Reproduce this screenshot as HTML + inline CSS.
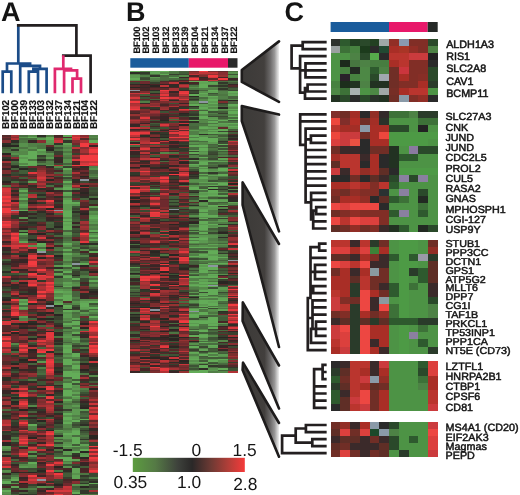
<!DOCTYPE html>
<html><head><meta charset="utf-8"><style>
html,body{margin:0;padding:0;background:#fff;}
body{width:520px;height:495px;overflow:hidden;}
svg{display:block;will-change:transform;font-family:"Liberation Sans",sans-serif;}
text{fill:#141414;text-rendering:geometricPrecision;}
.txt{will-change:transform;}
.t{stroke:#141414;stroke-width:0.5px;}
.n{stroke:#141414;stroke-width:0.15px;letter-spacing:-0.25px;}
</style></head><body>
<svg width="520" height="495" viewBox="0 0 520 495">
<defs>
<filter id="soft" x="-2%" y="-2%" width="104%" height="104%"><feGaussianBlur stdDeviation="0.45"/></filter>
<linearGradient id="wg" x1="0" x2="1" y1="0" y2="0">
<stop offset="0" stop-color="#3c3a38"/><stop offset="0.6" stop-color="#423f3d"/><stop offset="0.76" stop-color="#6a6868"/><stop offset="0.88" stop-color="#999898"/><stop offset="0.95" stop-color="#cccccc"/><stop offset="1" stop-color="#eeeeee"/>
</linearGradient>
<linearGradient id="cs" x1="0" x2="1" y1="0" y2="0">
<stop offset="0" stop-color="#5c9c40"/><stop offset="0.2" stop-color="#557a45"/><stop offset="0.4" stop-color="#3e423c"/><stop offset="0.53" stop-color="#2a2828"/><stop offset="0.7" stop-color="#6e3a34"/><stop offset="0.85" stop-color="#b03e38"/><stop offset="1" stop-color="#f53a3a"/>
</linearGradient>
</defs>
<rect width="520" height="495" fill="#fff"/>
<text x="1" y="20.9" font-size="27" font-weight="bold">A</text>
<text x="126" y="21.2" font-size="27" font-weight="bold">B</text>
<text x="284.5" y="20.6" font-size="27" font-weight="bold">C</text>
<path d="M2.7 91.9L2.7 71.6 M11.3 91.9L11.3 71.6 M2.7 71.6L11.3 71.6 M7.0 71.6L7.0 63.5 M20.2 91.9L20.2 65.9 M28.8 91.9L28.8 71.6 M38.0 91.9L38.0 71.6 M28.8 71.6L38.0 71.6 M33.4 71.6L33.4 68.8 M46.6 91.9L46.6 68.8 M33.4 68.8L46.6 68.8 M40.0 68.8L40.0 65.9 M20.2 65.9L40.0 65.9 M30.1 65.9L30.1 63.5 M7.0 63.5L30.1 63.5 M18.3 63.5L18.3 25.4" stroke="#1b4c88" stroke-width="2.7" fill="none" stroke-linecap="square"/>
<path d="M18.3 25.4L76.4 25.4 M76.4 25.4L76.4 55.6 M63.3 55.6L90.6 55.6 M90.6 55.6L90.6 91.9" stroke="#231f20" stroke-width="2.7" fill="none" stroke-linecap="square"/>
<path d="M63.3 56.6L63.3 68.8 M54.9 68.8L71.0 68.8 M54.9 68.8L54.9 91.9 M71.0 68.8L71.0 70.3 M64.1 70.3L77.1 70.3 M64.1 70.3L64.1 91.9 M77.1 70.3L77.1 78.7 M72.5 78.7L81.0 78.7 M72.5 78.7L72.5 91.9 M81.0 78.7L81.0 91.9" stroke="#e0296e" stroke-width="2.7" fill="none" stroke-linecap="square"/>
<path d="M302.7 42.1L325.3 42.1 M302.7 49.2L325.3 49.2 M302.7 42.1L302.7 49.2 M291.6 45.7L302.7 45.7 M291.6 45.7L291.6 68.4 M291.6 68.4L300.1 68.4 M300.1 56.2L300.1 92.7 M300.1 56.2L325.3 56.2 M305.5 63.3L325.3 63.3 M305.5 70.4L325.3 70.4 M305.5 77.4L325.3 77.4 M305.5 63.3L305.5 77.4 M300.1 70.4L305.5 70.4 M307.6 84.5L325.3 84.5 M307.6 91.5L325.3 91.5 M307.6 84.5L307.6 91.5 M305.0 88.0L307.6 88.0 M305.0 88.0L305.0 98.6 M305.0 98.6L325.3 98.6 M300.1 92.7L305.0 92.7 M300.2 114.3L300.2 144.8 M300.2 114.3L325.3 114.3 M300.2 121.4L325.3 121.4 M300.2 144.8L305.6 144.8 M305.6 128.6L305.6 202.3 M305.6 128.6L325.3 128.6 M310.9 135.7L325.3 135.7 M310.9 142.8L325.3 142.8 M310.9 135.7L310.9 142.8 M305.6 139.3L310.9 139.3 M305.6 150.0L325.3 150.0 M305.6 157.1L325.3 157.1 M305.6 164.2L325.3 164.2 M305.6 171.4L325.3 171.4 M305.6 178.5L325.3 178.5 M305.6 185.7L325.3 185.7 M305.6 202.3L311.1 202.3 M311.1 192.8L311.1 219.5 M311.1 192.8L325.3 192.8 M311.1 199.9L325.3 199.9 M316.2 207.1L325.3 207.1 M316.2 214.2L325.3 214.2 M316.2 207.1L316.2 214.2 M313.2 210.7L316.2 210.7 M313.2 210.7L313.2 228.5 M313.2 221.4L325.3 221.4 M313.2 228.5L325.3 228.5 M311.1 219.5L313.2 219.5 M319.2 243.6L325.3 243.6 M319.2 250.7L325.3 250.7 M319.2 243.6L319.2 250.7 M310.7 247.1L319.2 247.1 M310.5 247.1L310.5 298.0 M310.5 257.8L325.3 257.8 M315.0 264.9L325.3 264.9 M315.0 271.9L325.3 271.9 M315.0 279.1L325.3 279.1 M315.0 264.9L315.0 279.1 M310.5 271.9L315.0 271.9 M313.2 286.1L325.3 286.1 M313.2 293.2L325.3 293.2 M313.2 286.1L313.2 293.2 M310.5 289.7L313.2 289.7 M307.8 298.0L310.5 298.0 M307.8 298.0L307.8 350.1 M312.5 300.4L325.3 300.4 M312.5 307.4L325.3 307.4 M312.5 314.6L325.3 314.6 M312.5 300.4L312.5 328.8 M316.0 321.6L325.3 321.6 M316.0 328.8L325.3 328.8 M316.0 335.9L325.3 335.9 M316.0 321.6L316.0 335.9 M312.5 328.8L316.0 328.8 M307.8 318.0L312.5 318.0 M311.0 342.9L325.3 342.9 M311.0 328.8L311.0 342.9 M307.8 350.1L325.3 350.1 M322.6 364.9L325.3 364.9 M322.6 372.0L325.3 372.0 M322.6 379.2L325.3 379.2 M322.6 364.9L322.6 379.2 M314.1 369.2L322.6 369.2 M314.1 369.2L314.1 407.8 M314.1 386.3L325.3 386.3 M314.1 393.5L325.3 393.5 M314.1 400.6L325.3 400.6 M314.1 407.8L325.3 407.8 M305.9 425.0L325.3 425.0 M305.9 432.1L325.3 432.1 M305.9 425.0L305.9 432.1 M295.7 428.5L305.9 428.5 M312.3 439.1L325.3 439.1 M312.3 446.2L325.3 446.2 M312.3 439.1L312.3 446.2 M295.7 442.6L312.3 442.6 M295.7 428.5L295.7 442.6 M282.1 435.6L295.7 435.6 M282.1 435.6L282.1 453.2 M282.1 453.2L325.3 453.2" stroke="#231f20" stroke-width="2.7" fill="none" stroke-linecap="square"/>
<text class="n" transform="translate(9.20,128.90) rotate(-90)" font-size="10.00" font-weight="bold">BF102</text>
<text class="n" transform="translate(18.00,128.90) rotate(-90)" font-size="10.00" font-weight="bold">BF100</text>
<text class="n" transform="translate(26.80,128.90) rotate(-90)" font-size="10.00" font-weight="bold">BF139</text>
<text class="n" transform="translate(35.60,128.90) rotate(-90)" font-size="10.00" font-weight="bold">BF133</text>
<text class="n" transform="translate(44.40,128.90) rotate(-90)" font-size="10.00" font-weight="bold">BF103</text>
<text class="n" transform="translate(53.20,128.90) rotate(-90)" font-size="10.00" font-weight="bold">BF132</text>
<text class="n" transform="translate(62.00,128.90) rotate(-90)" font-size="10.00" font-weight="bold">BF137</text>
<text class="n" transform="translate(70.80,128.90) rotate(-90)" font-size="10.00" font-weight="bold">BF134</text>
<text class="n" transform="translate(79.60,128.90) rotate(-90)" font-size="10.00" font-weight="bold">BF121</text>
<text class="n" transform="translate(88.40,128.90) rotate(-90)" font-size="10.00" font-weight="bold">BF104</text>
<text class="n" transform="translate(97.20,128.90) rotate(-90)" font-size="10.00" font-weight="bold">BF122</text>
<text class="n" transform="translate(139.60,53.60) rotate(-90)" font-size="9.40" font-weight="bold">BF100</text>
<text class="n" transform="translate(149.37,53.60) rotate(-90)" font-size="9.40" font-weight="bold">BF102</text>
<text class="n" transform="translate(159.14,53.60) rotate(-90)" font-size="9.40" font-weight="bold">BF103</text>
<text class="n" transform="translate(168.91,53.60) rotate(-90)" font-size="9.40" font-weight="bold">BF132</text>
<text class="n" transform="translate(178.68,53.60) rotate(-90)" font-size="9.40" font-weight="bold">BF133</text>
<text class="n" transform="translate(188.45,53.60) rotate(-90)" font-size="9.40" font-weight="bold">BF139</text>
<text class="n" transform="translate(198.22,53.60) rotate(-90)" font-size="9.40" font-weight="bold">BF104</text>
<text class="n" transform="translate(207.99,53.60) rotate(-90)" font-size="9.40" font-weight="bold">BF121</text>
<text class="n" transform="translate(217.76,53.60) rotate(-90)" font-size="9.40" font-weight="bold">BF134</text>
<text class="n" transform="translate(227.53,53.60) rotate(-90)" font-size="9.40" font-weight="bold">BF137</text>
<text class="n" transform="translate(237.30,53.60) rotate(-90)" font-size="9.40" font-weight="bold">BF122</text>
<g shape-rendering="crispEdges" filter="url(#soft)">
<path fill="#532a29" d="M2 134.6H10.72V136.5H2zM54.31 136.5H63.03V138.4H54.31zM63.03 136.5H71.75V138.4H63.03zM2 138.4H10.72V140.3H2zM80.46 138.4H89.18V140.3H80.46zM71.75 148.7H80.46V150.6H71.75zM2 162.6H10.72V164.5H2zM2 164.5H10.72V166H2zM10.72 169.8H19.44V171.7H10.72zM45.59 169.8H54.31V171.7H45.59zM71.75 169.8H80.46V171.7H71.75zM2 175.5H10.72V177H2zM28.15 175.5H36.87V177H28.15zM10.72 177H19.44V178.9H10.72zM45.59 186.5H54.31V188H45.59zM28.15 189.9H36.87V191.8H28.15zM36.87 189.9H45.59V191.8H36.87zM45.59 195.6H54.31V197.5H45.59zM54.31 197.5H63.03V200H54.31zM28.15 200H36.87V201.9H28.15zM80.46 201.9H89.18V203.8H80.46zM80.46 203.8H89.18V205.7H80.46zM80.46 209.5H89.18V211H80.46zM80.46 214.8H89.18V216.7H80.46zM80.46 216.7H89.18V218.6H80.46zM19.44 222H28.15V223.9H19.44zM28.15 225.8H36.87V227.7H28.15zM10.72 227.7H19.44V229.6H10.72zM10.72 229.6H19.44V231.5H10.72zM80.46 229.6H89.18V231.5H80.46zM19.44 250.6H28.15V253H19.44zM54.31 258.7H63.03V260.6H54.31zM89.18 268.8H97.9V270.7H89.18zM19.44 270.7H28.15V272.6H19.44zM36.87 272.6H45.59V274.5H36.87zM19.44 274.5H28.15V276H19.44zM10.72 276H19.44V277.9H10.72zM19.44 283.6H28.15V285.5H19.44zM19.44 287H28.15V288.9H19.44zM10.72 288.9H19.44V290.8H10.72zM2 290.8H10.72V292.7H2zM89.18 296.5H97.9V299H89.18zM63.03 300.9H71.75V302.8H63.03zM36.87 302.8H45.59V304.7H36.87zM36.87 308.5H45.59V310H36.87zM28.15 310H36.87V311.9H28.15zM80.46 321H89.18V322.9H80.46zM2 324.8H10.72V326.7H2zM2 326.7H10.72V328.6H2zM2 328.6H10.72V330.5H2zM36.87 328.6H45.59V330.5H36.87zM36.87 332H45.59V333.9H36.87zM80.46 332H89.18V333.9H80.46zM19.44 339.6H28.15V341.5H19.44zM10.72 341.5H19.44V343H10.72zM19.44 341.5H28.15V343H19.44zM36.87 356.8H45.59V358.7H36.87zM2 360.6H10.72V363H2zM2 363H10.72V364.9H2zM54.31 363H63.03V364.9H54.31zM54.31 364.9H63.03V366.8H54.31zM2 368.7H10.72V370.6H2zM80.46 375H89.18V376.9H80.46zM45.59 382.6H54.31V384.5H45.59zM89.18 382.6H97.9V384.5H89.18zM80.46 384.5H89.18V386H80.46zM36.87 397H45.59V398.9H36.87zM2 398.9H10.72V400.8H2zM80.46 398.9H89.18V400.8H80.46zM54.31 404.6H63.03V406.5H54.31zM2 410.9H10.72V412.8H2zM45.59 423.8H54.31V425.7H45.59zM10.72 427.6H19.44V429.5H10.72zM19.44 427.6H28.15V429.5H19.44zM89.18 431H97.9V432.9H89.18zM28.15 434.8H36.87V436.7H28.15zM36.87 438.6H45.59V440H36.87zM89.18 438.6H97.9V440H89.18zM10.72 449.3H19.44V451H10.72zM36.87 451H45.59V452.9H36.87zM71.75 456.7H80.46V458.6H71.75zM19.44 458.6H28.15V460.5H19.44zM36.87 463.9H45.59V465.8H36.87zM10.72 465.8H19.44V468H10.72zM54.31 468H63.03V469.9H54.31zM80.46 471.8H89.18V473H80.46zM63.03 480.9H71.75V482.8H63.03zM36.87 482.8H45.59V484H36.87zM10.72 484H19.44V485.9H10.72zM45.59 484H54.31V485.9H45.59zM54.31 485.9H63.03V487.8H54.31zM36.87 487.8H45.59V490H36.87zM36.87 491.9H45.59V493.8H36.87z"/>
<path fill="#a23234" d="M10.72 134.6H19.44V136.5H10.72zM54.31 138.4H63.03V140.3H54.31zM80.46 148.7H89.18V150.6H80.46zM80.46 150.6H89.18V152.5H80.46zM2 160.7H10.72V162.6H2zM80.46 186.5H89.18V188H80.46zM45.59 191.8H54.31V193.7H45.59zM36.87 200H45.59V201.9H36.87zM45.59 201.9H54.31V203.8H45.59zM2 205.7H10.72V207.6H2zM28.15 205.7H36.87V207.6H28.15zM2 214.8H10.72V216.7H2zM10.72 220.5H19.44V222H10.72zM80.46 220.5H89.18V222H80.46zM10.72 222H19.44V223.9H10.72zM80.46 222H89.18V223.9H80.46zM80.46 225.8H89.18V227.7H80.46zM28.15 231.5H36.87V233H28.15zM28.15 243H36.87V244.9H28.15zM45.59 244.9H54.31V246.8H45.59zM19.44 248.7H28.15V250.6H19.44zM10.72 250.6H19.44V253H10.72zM10.72 254.9H19.44V256.8H10.72zM36.87 254.9H45.59V256.8H36.87zM19.44 265H28.15V266.9H19.44zM28.15 268.8H36.87V270.7H28.15zM36.87 270.7H45.59V272.6H36.87zM45.59 270.7H54.31V272.6H45.59zM36.87 288.9H45.59V290.8H36.87zM36.87 292.7H45.59V294.6H36.87zM36.87 304.7H45.59V306.6H36.87zM45.59 310H54.31V311.9H45.59zM89.18 322.9H97.9V324.8H89.18zM45.59 324.8H54.31V326.7H45.59zM45.59 328.6H54.31V330.5H45.59zM2 332H10.72V333.9H2zM89.18 332H97.9V333.9H89.18zM19.44 343H28.15V344.9H19.44zM45.59 356.8H54.31V358.7H45.59zM80.46 376.9H89.18V378.8H80.46zM10.72 391.7H19.44V393.6H10.72zM28.15 393.6H36.87V395.5H28.15zM2 400.8H10.72V402.7H2zM2 402.7H10.72V404.6H2zM36.87 404.6H45.59V406.5H36.87zM89.18 409H97.9V410.9H89.18zM19.44 420H28.15V421.9H19.44zM2 429.5H10.72V431H2zM36.87 432.9H45.59V434.8H36.87zM19.44 434.8H28.15V436.7H19.44zM45.59 434.8H54.31V436.7H45.59zM2 440H10.72V441.9H2zM89.18 440H97.9V441.9H89.18zM28.15 449.3H36.87V451H28.15zM19.44 451H28.15V452.9H19.44zM36.87 456.7H45.59V458.6H36.87zM89.18 463.9H97.9V465.8H89.18zM45.59 471.8H54.31V473H45.59zM45.59 482.8H54.31V484H45.59zM54.31 487.8H63.03V490H54.31zM89.18 490H97.9V491.9H89.18zM54.31 491.9H63.03V493.8H54.31zM63.03 491.9H71.75V493.8H63.03zM63.03 493.8H71.75V495H63.03z"/>
<path fill="#496d3f" d="M19.44 134.6H28.15V136.5H19.44zM36.87 136.5H45.59V138.4H36.87zM19.44 138.4H28.15V140.3H19.44zM28.15 138.4H36.87V140.3H28.15zM2 148.7H10.72V150.6H2zM54.31 148.7H63.03V150.6H54.31zM10.72 155H19.44V156.9H10.72zM10.72 160.7H19.44V162.6H10.72zM63.03 178.9H71.75V180.8H63.03zM10.72 180.8H19.44V182.7H10.72zM45.59 184.6H54.31V186.5H45.59zM89.18 195.6H97.9V197.5H89.18zM63.03 238.7H71.75V240.6H63.03zM54.31 243H63.03V244.9H54.31zM36.87 246.8H45.59V248.7H36.87zM54.31 246.8H63.03V248.7H54.31zM89.18 265H97.9V266.9H89.18zM89.18 277.9H97.9V279.8H89.18zM10.72 279.8H19.44V281.7H10.72zM71.75 279.8H80.46V281.7H71.75zM89.18 281.7H97.9V283.6H89.18zM54.31 283.6H63.03V285.5H54.31zM71.75 285.5H80.46V287H71.75zM71.75 299H80.46V300.9H71.75zM19.44 304.7H28.15V306.6H19.44zM89.18 308.5H97.9V310H89.18zM71.75 311.9H80.46V313.8H71.75zM80.46 328.6H89.18V330.5H80.46zM63.03 330.5H71.75V332H63.03zM80.46 341.5H89.18V343H80.46zM54.31 344.9H63.03V346.8H54.31zM10.72 350.6H19.44V353H10.72zM63.03 364.9H71.75V366.8H63.03zM36.87 372.5H45.59V375H36.87zM28.15 389.8H36.87V391.7H28.15zM80.46 389.8H89.18V391.7H80.46zM2 409H10.72V410.9H2zM80.46 414.7H89.18V416.6H80.46zM54.31 432.9H63.03V434.8H54.31zM71.75 434.8H80.46V436.7H71.75z"/>
<path fill="#55884a" d="M28.15 134.6H36.87V136.5H28.15zM89.18 136.5H97.9V138.4H89.18zM19.44 150.6H28.15V152.5H19.44zM19.44 152.5H28.15V155H19.44zM19.44 162.6H28.15V164.5H19.44zM54.31 166H63.03V167.9H54.31zM63.03 169.8H71.75V171.7H63.03zM63.03 171.7H71.75V173.6H63.03zM89.18 175.5H97.9V177H89.18zM19.44 195.6H28.15V197.5H19.44zM19.44 201.9H28.15V203.8H19.44zM89.18 212.9H97.9V214.8H89.18zM89.18 225.8H97.9V227.7H89.18zM19.44 229.6H28.15V231.5H19.44zM71.75 246.8H80.46V248.7H71.75zM80.46 248.7H89.18V250.6H80.46zM71.75 253H80.46V254.9H71.75zM63.03 262.5H71.75V265H63.03zM63.03 268.8H71.75V270.7H63.03zM71.75 281.7H80.46V283.6H71.75zM89.18 283.6H97.9V285.5H89.18zM54.31 292.7H63.03V294.6H54.31zM80.46 299H89.18V300.9H80.46zM89.18 299H97.9V300.9H89.18zM71.75 302.8H80.46V304.7H71.75zM63.03 317.6H71.75V319.5H63.03zM19.44 319.5H28.15V321H19.44zM63.03 328.6H71.75V330.5H63.03zM71.75 330.5H80.46V332H71.75zM63.03 337.7H71.75V339.6H63.03zM71.75 339.6H80.46V341.5H71.75zM10.72 343H19.44V344.9H10.72zM63.03 343H71.75V344.9H63.03zM63.03 353H71.75V354.9H63.03zM36.87 354.9H45.59V356.8H36.87zM71.75 356.8H80.46V358.7H71.75zM71.75 363H80.46V364.9H71.75zM71.75 368.7H80.46V370.6H71.75zM89.18 375H97.9V376.9H89.18zM63.03 378.8H71.75V380.7H63.03zM71.75 389.8H80.46V391.7H71.75zM63.03 400.8H71.75V402.7H63.03zM28.15 404.6H36.87V406.5H28.15zM63.03 404.6H71.75V406.5H63.03zM63.03 406.5H71.75V409H63.03zM63.03 423.8H71.75V425.7H63.03zM63.03 425.7H71.75V427.6H63.03zM63.03 429.5H71.75V431H63.03zM54.31 431H63.03V432.9H54.31zM54.31 440H63.03V441.9H54.31zM54.31 445.5H63.03V447.4H54.31zM80.46 445.5H89.18V447.4H80.46zM63.03 447.4H71.75V449.3H63.03zM2 449.3H10.72V451H2zM19.44 463.9H28.15V465.8H19.44zM2 479H10.72V480.9H2zM80.46 484H89.18V485.9H80.46zM45.59 485.9H54.31V487.8H45.59zM71.75 490H80.46V491.9H71.75zM2 493.8H10.72V495H2z"/>
<path fill="#2f2e27" d="M36.87 134.6H45.59V136.5H36.87zM10.72 140.3H19.44V143H10.72zM2 143H10.72V144.9H2zM45.59 146.8H54.31V148.7H45.59zM54.31 156.9H63.03V158.8H54.31zM36.87 158.8H45.59V160.7H36.87zM45.59 166H54.31V167.9H45.59zM80.46 166H89.18V167.9H80.46zM2 173.6H10.72V175.5H2zM71.75 178.9H80.46V180.8H71.75zM19.44 182.7H28.15V184.6H19.44zM28.15 184.6H36.87V186.5H28.15zM36.87 188H45.59V189.9H36.87zM10.72 189.9H19.44V191.8H10.72zM71.75 189.9H80.46V191.8H71.75zM36.87 193.7H45.59V195.6H36.87zM54.31 195.6H63.03V197.5H54.31zM80.46 195.6H89.18V197.5H80.46zM54.31 205.7H63.03V207.6H54.31zM19.44 211H28.15V212.9H19.44zM36.87 211H45.59V212.9H36.87zM71.75 211H80.46V212.9H71.75zM19.44 212.9H28.15V214.8H19.44zM28.15 216.7H36.87V218.6H28.15zM28.15 222H36.87V223.9H28.15zM45.59 227.7H54.31V229.6H45.59zM19.44 231.5H28.15V233H19.44zM45.59 236.8H54.31V238.7H45.59zM89.18 243H97.9V244.9H89.18zM28.15 250.6H36.87V253H28.15zM89.18 254.9H97.9V256.8H89.18zM54.31 266.9H63.03V268.8H54.31zM10.72 268.8H19.44V270.7H10.72zM2 270.7H10.72V272.6H2zM10.72 285.5H19.44V287H10.72zM10.72 287H19.44V288.9H10.72zM71.75 287H80.46V288.9H71.75zM28.15 292.7H36.87V294.6H28.15zM80.46 292.7H89.18V294.6H80.46zM2 296.5H10.72V299H2zM28.15 302.8H36.87V304.7H28.15zM45.59 306.6H54.31V308.5H45.59zM2 310H10.72V311.9H2zM36.87 311.9H45.59V313.8H36.87zM2 315.7H10.72V317.6H2zM28.15 321H36.87V322.9H28.15zM10.72 322.9H19.44V324.8H10.72zM54.31 333.9H63.03V335.8H54.31zM80.46 333.9H89.18V335.8H80.46zM54.31 339.6H63.03V341.5H54.31zM54.31 343H63.03V344.9H54.31zM10.72 348.7H19.44V350.6H10.72zM45.59 350.6H54.31V353H45.59zM19.44 360.6H28.15V363H19.44zM89.18 363H97.9V364.9H89.18zM89.18 364.9H97.9V366.8H89.18zM54.31 366.8H63.03V368.7H54.31zM28.15 368.7H36.87V370.6H28.15zM89.18 372.5H97.9V375H89.18zM2 376.9H10.72V378.8H2zM2 378.8H10.72V380.7H2zM28.15 380.7H36.87V382.6H28.15zM36.87 384.5H45.59V386H36.87zM28.15 397H36.87V398.9H28.15zM28.15 398.9H36.87V400.8H28.15zM28.15 400.8H36.87V402.7H28.15zM10.72 402.7H19.44V404.6H10.72zM80.46 404.6H89.18V406.5H80.46zM54.31 412.8H63.03V414.7H54.31zM2 414.7H10.72V416.6H2zM54.31 421.9H63.03V423.8H54.31zM80.46 423.8H89.18V425.7H80.46zM89.18 429.5H97.9V431H89.18zM54.31 434.8H63.03V436.7H54.31zM2 438.6H10.72V440H2zM19.44 447.4H28.15V449.3H19.44zM2 454.8H10.72V456.7H2zM71.75 454.8H80.46V456.7H71.75zM63.03 469.9H71.75V471.8H63.03zM19.44 471.8H28.15V473H19.44zM89.18 480.9H97.9V482.8H89.18zM19.44 493.8H28.15V495H19.44z"/>
<path fill="#4d7643" d="M45.59 134.6H54.31V136.5H45.59zM89.18 138.4H97.9V140.3H89.18zM19.44 140.3H28.15V143H19.44zM36.87 144.9H45.59V146.8H36.87zM10.72 146.8H19.44V148.7H10.72zM19.44 146.8H28.15V148.7H19.44zM36.87 146.8H45.59V148.7H36.87zM28.15 148.7H36.87V150.6H28.15zM2 150.6H10.72V152.5H2zM63.03 150.6H71.75V152.5H63.03zM63.03 156.9H71.75V158.8H63.03zM28.15 158.8H36.87V160.7H28.15zM89.18 173.6H97.9V175.5H89.18zM2 184.6H10.72V186.5H2zM71.75 188H80.46V189.9H71.75zM19.44 191.8H28.15V193.7H19.44zM63.03 195.6H71.75V197.5H63.03zM19.44 200H28.15V201.9H19.44zM19.44 207.6H28.15V209.5H19.44zM89.18 223.9H97.9V225.8H89.18zM19.44 234.9H28.15V236.8H19.44zM19.44 238.7H28.15V240.6H19.44zM71.75 243H80.46V244.9H71.75zM63.03 246.8H71.75V248.7H63.03zM54.31 248.7H63.03V250.6H54.31zM63.03 250.6H71.75V253H63.03zM63.03 260.6H71.75V262.5H63.03zM80.46 260.6H89.18V262.5H80.46zM80.46 274.5H89.18V276H80.46zM54.31 277.9H63.03V279.8H54.31zM54.31 279.8H63.03V281.7H54.31zM54.31 287H63.03V288.9H54.31zM63.03 287H71.75V288.9H63.03zM54.31 299H63.03V300.9H54.31zM63.03 302.8H71.75V304.7H63.03zM89.18 304.7H97.9V306.6H89.18zM71.75 313.8H80.46V315.7H71.75zM71.75 315.7H80.46V317.6H71.75zM63.03 321H71.75V322.9H63.03zM71.75 324.8H80.46V326.7H71.75zM54.31 335.8H63.03V337.7H54.31zM80.46 346.8H89.18V348.7H80.46zM63.03 368.7H71.75V370.6H63.03zM80.46 372.5H89.18V375H80.46zM28.15 378.8H36.87V380.7H28.15zM63.03 380.7H71.75V382.6H63.03zM89.18 384.5H97.9V386H89.18zM63.03 397H71.75V398.9H63.03zM71.75 398.9H80.46V400.8H71.75zM63.03 402.7H71.75V404.6H63.03zM80.46 425.7H89.18V427.6H80.46zM63.03 427.6H71.75V429.5H63.03zM80.46 434.8H89.18V436.7H80.46zM10.72 436.7H19.44V438.6H10.72zM10.72 440H19.44V441.9H10.72zM63.03 440H71.75V441.9H63.03zM80.46 440H89.18V441.9H80.46zM19.44 445.5H28.15V447.4H19.44zM71.75 447.4H80.46V449.3H71.75zM54.31 449.3H63.03V451H54.31zM80.46 473H89.18V474.9H80.46zM10.72 474.9H19.44V476.8H10.72zM2 487.8H10.72V490H2zM19.44 487.8H28.15V490H19.44zM89.18 493.8H97.9V495H89.18z"/>
<path fill="#462827" d="M54.31 134.6H63.03V136.5H54.31zM71.75 160.7H80.46V162.6H71.75zM71.75 162.6H80.46V164.5H71.75zM80.46 167.9H89.18V169.8H80.46zM54.31 169.8H63.03V171.7H54.31zM80.46 171.7H89.18V173.6H80.46zM45.59 175.5H54.31V177H45.59zM54.31 177H63.03V178.9H54.31zM80.46 177H89.18V178.9H80.46zM19.44 178.9H28.15V180.8H19.44zM2 182.7H10.72V184.6H2zM54.31 184.6H63.03V186.5H54.31zM19.44 186.5H28.15V188H19.44zM28.15 186.5H36.87V188H28.15zM45.59 188H54.31V189.9H45.59zM54.31 203.8H63.03V205.7H54.31zM89.18 203.8H97.9V205.7H89.18zM80.46 205.7H89.18V207.6H80.46zM28.15 207.6H36.87V209.5H28.15zM19.44 218.6H28.15V220.5H19.44zM36.87 223.9H45.59V225.8H36.87zM19.44 225.8H28.15V227.7H19.44zM45.59 231.5H54.31V233H45.59zM54.31 231.5H63.03V233H54.31zM54.31 236.8H63.03V238.7H54.31zM71.75 238.7H80.46V240.6H71.75zM54.31 244.9H63.03V246.8H54.31zM80.46 250.6H89.18V253H80.46zM89.18 253H97.9V254.9H89.18zM10.72 258.7H19.44V260.6H10.72zM10.72 262.5H19.44V265H10.72zM10.72 265H19.44V266.9H10.72zM45.59 266.9H54.31V268.8H45.59zM28.15 270.7H36.87V272.6H28.15zM80.46 281.7H89.18V283.6H80.46zM19.44 285.5H28.15V287H19.44zM28.15 287H36.87V288.9H28.15zM19.44 288.9H28.15V290.8H19.44zM80.46 288.9H89.18V290.8H80.46zM10.72 294.6H19.44V296.5H10.72zM19.44 296.5H28.15V299H19.44zM28.15 308.5H36.87V310H28.15zM28.15 315.7H36.87V317.6H28.15zM45.59 321H54.31V322.9H45.59zM19.44 324.8H28.15V326.7H19.44zM2 330.5H10.72V332H2zM28.15 333.9H36.87V335.8H28.15zM54.31 337.7H63.03V339.6H54.31zM28.15 353H36.87V354.9H28.15zM28.15 354.9H36.87V356.8H28.15zM28.15 366.8H36.87V368.7H28.15zM28.15 370.6H36.87V372.5H28.15zM89.18 370.6H97.9V372.5H89.18zM10.72 372.5H19.44V375H10.72zM54.31 372.5H63.03V375H54.31zM36.87 378.8H45.59V380.7H36.87zM45.59 378.8H54.31V380.7H45.59zM80.46 378.8H89.18V380.7H80.46zM10.72 382.6H19.44V384.5H10.72zM28.15 387.9H36.87V389.8H28.15zM2 395.5H10.72V397H2zM2 404.6H10.72V406.5H2zM10.72 406.5H19.44V409H10.72zM10.72 412.8H19.44V414.7H10.72zM28.15 412.8H36.87V414.7H28.15zM36.87 412.8H45.59V414.7H36.87zM54.31 416.6H63.03V418.5H54.31zM10.72 418.5H19.44V420H10.72zM10.72 429.5H19.44V431H10.72zM36.87 434.8H45.59V436.7H36.87zM10.72 443.8H19.44V445.5H10.72zM28.15 443.8H36.87V445.5H28.15zM36.87 454.8H45.59V456.7H36.87zM19.44 456.7H28.15V458.6H19.44zM63.03 468H71.75V469.9H63.03zM80.46 468H89.18V469.9H80.46zM80.46 469.9H89.18V471.8H80.46zM54.31 471.8H63.03V473H54.31zM19.44 479H28.15V480.9H19.44zM63.03 479H71.75V480.9H63.03zM71.75 479H80.46V480.9H71.75zM19.44 484H28.15V485.9H19.44zM2 485.9H10.72V487.8H2zM19.44 485.9H28.15V487.8H19.44zM10.72 490H19.44V491.9H10.72z"/>
<path fill="#60a354" d="M63.03 134.6H71.75V136.5H63.03zM63.03 143H71.75V144.9H63.03zM28.15 164.5H36.87V166H28.15zM28.15 180.8H36.87V182.7H28.15zM63.03 193.7H71.75V195.6H63.03zM19.44 203.8H28.15V205.7H19.44zM63.03 209.5H71.75V211H63.03zM89.18 214.8H97.9V216.7H89.18zM63.03 223.9H71.75V225.8H63.03zM19.44 240.6H28.15V243H19.44zM36.87 244.9H45.59V246.8H36.87zM54.31 272.6H63.03V274.5H54.31zM63.03 281.7H71.75V283.6H63.03zM63.03 290.8H71.75V292.7H63.03zM19.44 299H28.15V300.9H19.44zM80.46 300.9H89.18V302.8H80.46zM19.44 306.6H28.15V308.5H19.44zM63.03 306.6H71.75V308.5H63.03zM80.46 306.6H89.18V308.5H80.46zM71.75 317.6H80.46V319.5H71.75zM63.03 346.8H71.75V348.7H63.03zM71.75 360.6H80.46V363H71.75zM71.75 370.6H80.46V372.5H71.75zM71.75 391.7H80.46V393.6H71.75zM71.75 429.5H80.46V431H71.75zM80.46 443.8H89.18V445.5H80.46zM71.75 458.6H80.46V460.5H71.75zM71.75 468H80.46V469.9H71.75zM71.75 469.9H80.46V471.8H71.75zM71.75 471.8H80.46V473H71.75zM71.75 474.9H80.46V476.8H71.75zM71.75 476.8H80.46V479H71.75zM10.72 485.9H19.44V487.8H10.72z"/>
<path fill="#bd3438" d="M71.75 134.6H80.46V136.5H71.75zM71.75 146.8H80.46V148.7H71.75zM89.18 152.5H97.9V155H89.18zM80.46 160.7H89.18V162.6H80.46zM36.87 175.5H45.59V177H36.87zM36.87 178.9H45.59V180.8H36.87zM71.75 184.6H80.46V186.5H71.75zM36.87 186.5H45.59V188H36.87zM2 193.7H10.72V195.6H2zM28.15 195.6H36.87V197.5H28.15zM2 201.9H10.72V203.8H2zM80.46 207.6H89.18V209.5H80.46zM54.31 211H63.03V212.9H54.31zM2 212.9H10.72V214.8H2zM10.72 240.6H19.44V243H10.72zM2 244.9H10.72V246.8H2zM10.72 270.7H19.44V272.6H10.72zM36.87 281.7H45.59V283.6H36.87zM10.72 292.7H19.44V294.6H10.72zM36.87 296.5H45.59V299H36.87zM10.72 310H19.44V311.9H10.72zM89.18 324.8H97.9V326.7H89.18zM36.87 343H45.59V344.9H36.87zM28.15 346.8H36.87V348.7H28.15zM19.44 350.6H28.15V353H19.44zM45.59 353H54.31V354.9H45.59zM28.15 358.7H36.87V360.6H28.15zM2 366.8H10.72V368.7H2zM45.59 366.8H54.31V368.7H45.59zM2 372.5H10.72V375H2zM45.59 372.5H54.31V375H45.59zM10.72 387.9H19.44V389.8H10.72zM19.44 404.6H28.15V406.5H19.44zM45.59 406.5H54.31V409H45.59zM45.59 418.5H54.31V420H45.59zM28.15 431H36.87V432.9H28.15zM19.44 436.7H28.15V438.6H19.44zM36.87 443.8H45.59V445.5H36.87zM36.87 449.3H45.59V451H36.87zM19.44 454.8H28.15V456.7H19.44zM2 462H10.72V463.9H2zM89.18 468H97.9V469.9H89.18zM54.31 474.9H63.03V476.8H54.31zM36.87 476.8H45.59V479H36.87zM63.03 487.8H71.75V490H63.03z"/>
<path fill="#882f31" d="M80.46 134.6H89.18V136.5H80.46zM10.72 136.5H19.44V138.4H10.72zM2 140.3H10.72V143H2zM36.87 140.3H45.59V143H36.87zM71.75 140.3H80.46V143H71.75zM80.46 146.8H89.18V148.7H80.46zM10.72 156.9H19.44V158.8H10.72zM45.59 177H54.31V178.9H45.59zM36.87 180.8H45.59V182.7H36.87zM80.46 182.7H89.18V184.6H80.46zM10.72 184.6H19.44V186.5H10.72zM36.87 184.6H45.59V186.5H36.87zM54.31 193.7H63.03V195.6H54.31zM45.59 203.8H54.31V205.7H45.59zM10.72 212.9H19.44V214.8H10.72zM2 218.6H10.72V220.5H2zM10.72 223.9H19.44V225.8H10.72zM10.72 225.8H19.44V227.7H10.72zM36.87 225.8H45.59V227.7H36.87zM36.87 227.7H45.59V229.6H36.87zM10.72 231.5H19.44V233H10.72zM36.87 234.9H45.59V236.8H36.87zM45.59 238.7H54.31V240.6H45.59zM45.59 248.7H54.31V250.6H45.59zM10.72 256.8H19.44V258.7H10.72zM36.87 265H45.59V266.9H36.87zM10.72 266.9H19.44V268.8H10.72zM28.15 266.9H36.87V268.8H28.15zM36.87 266.9H45.59V268.8H36.87zM45.59 268.8H54.31V270.7H45.59zM89.18 272.6H97.9V274.5H89.18zM36.87 283.6H45.59V285.5H36.87zM19.44 294.6H28.15V296.5H19.44zM45.59 294.6H54.31V296.5H45.59zM28.15 296.5H36.87V299H28.15zM28.15 304.7H36.87V306.6H28.15zM28.15 306.6H36.87V308.5H28.15zM2 308.5H10.72V310H2zM36.87 315.7H45.59V317.6H36.87zM36.87 321H45.59V322.9H36.87zM36.87 326.7H45.59V328.6H36.87zM19.44 337.7H28.15V339.6H19.44zM36.87 337.7H45.59V339.6H36.87zM89.18 339.6H97.9V341.5H89.18zM89.18 343H97.9V344.9H89.18zM2 346.8H10.72V348.7H2zM2 364.9H10.72V366.8H2zM19.44 364.9H28.15V366.8H19.44zM2 370.6H10.72V372.5H2zM19.44 372.5H28.15V375H19.44zM2 375H10.72V376.9H2zM28.15 375H36.87V376.9H28.15zM45.59 375H54.31V376.9H45.59zM19.44 376.9H28.15V378.8H19.44zM10.72 380.7H19.44V382.6H10.72zM19.44 389.8H28.15V391.7H19.44zM89.18 389.8H97.9V391.7H89.18zM2 397H10.72V398.9H2zM36.87 398.9H45.59V400.8H36.87zM36.87 402.7H45.59V404.6H36.87zM19.44 410.9H28.15V412.8H19.44zM19.44 412.8H28.15V414.7H19.44zM45.59 420H54.31V421.9H45.59zM89.18 425.7H97.9V427.6H89.18zM36.87 427.6H45.59V429.5H36.87zM36.87 436.7H45.59V438.6H36.87zM89.18 451H97.9V452.9H89.18zM10.72 452.9H19.44V454.8H10.72zM89.18 454.8H97.9V456.7H89.18zM45.59 456.7H54.31V458.6H45.59zM54.31 460.5H63.03V462H54.31zM80.46 460.5H89.18V462H80.46zM45.59 462H54.31V463.9H45.59zM2 463.9H10.72V465.8H2zM45.59 465.8H54.31V468H45.59zM45.59 468H54.31V469.9H45.59zM19.44 474.9H28.15V476.8H19.44zM45.59 476.8H54.31V479H45.59zM71.75 480.9H80.46V482.8H71.75z"/>
<path fill="#517f46" d="M89.18 134.6H97.9V136.5H89.18zM28.15 143H36.87V144.9H28.15zM36.87 143H45.59V144.9H36.87zM28.15 144.9H36.87V146.8H28.15zM54.31 144.9H63.03V146.8H54.31zM63.03 146.8H71.75V148.7H63.03zM10.72 150.6H19.44V152.5H10.72zM45.59 155H54.31V156.9H45.59zM63.03 155H71.75V156.9H63.03zM45.59 160.7H54.31V162.6H45.59zM36.87 162.6H45.59V164.5H36.87zM45.59 162.6H54.31V164.5H45.59zM89.18 166H97.9V167.9H89.18zM63.03 182.7H71.75V184.6H63.03zM19.44 188H28.15V189.9H19.44zM89.18 227.7H97.9V229.6H89.18zM63.03 234.9H71.75V236.8H63.03zM89.18 236.8H97.9V238.7H89.18zM63.03 240.6H71.75V243H63.03zM71.75 240.6H80.46V243H71.75zM89.18 244.9H97.9V246.8H89.18zM71.75 254.9H80.46V256.8H71.75zM80.46 254.9H89.18V256.8H80.46zM54.31 274.5H63.03V276H54.31zM80.46 276H89.18V277.9H80.46zM63.03 277.9H71.75V279.8H63.03zM63.03 279.8H71.75V281.7H63.03zM54.31 281.7H63.03V283.6H54.31zM89.18 285.5H97.9V287H89.18zM71.75 296.5H80.46V299H71.75zM89.18 311.9H97.9V313.8H89.18zM80.46 313.8H89.18V315.7H80.46zM19.44 317.6H28.15V319.5H19.44zM89.18 317.6H97.9V319.5H89.18zM71.75 328.6H80.46V330.5H71.75zM63.03 332H71.75V333.9H63.03zM63.03 339.6H71.75V341.5H63.03zM80.46 343H89.18V344.9H80.46zM63.03 356.8H71.75V358.7H63.03zM36.87 366.8H45.59V368.7H36.87zM63.03 366.8H71.75V368.7H63.03zM63.03 387.9H71.75V389.8H63.03zM80.46 387.9H89.18V389.8H80.46zM71.75 393.6H80.46V395.5H71.75zM36.87 395.5H45.59V397H36.87zM71.75 402.7H80.46V404.6H71.75zM71.75 406.5H80.46V409H71.75zM63.03 410.9H71.75V412.8H63.03zM71.75 414.7H80.46V416.6H71.75zM71.75 418.5H80.46V420H71.75zM28.15 425.7H36.87V427.6H28.15zM28.15 427.6H36.87V429.5H28.15zM63.03 438.6H71.75V440H63.03zM54.31 443.8H63.03V445.5H54.31zM80.46 447.4H89.18V449.3H80.46zM71.75 449.3H80.46V451H71.75zM63.03 460.5H71.75V462H63.03zM54.31 469.9H63.03V471.8H54.31zM2 471.8H10.72V473H2zM89.18 476.8H97.9V479H89.18zM28.15 487.8H36.87V490H28.15zM80.46 493.8H89.18V495H80.46z"/>
<path fill="#6e2c2d" d="M2 136.5H10.72V138.4H2zM71.75 143H80.46V144.9H71.75zM2 155H10.72V156.9H2zM54.31 155H63.03V156.9H54.31zM71.75 156.9H80.46V158.8H71.75zM2 166H10.72V167.9H2zM28.15 166H36.87V167.9H28.15zM36.87 166H45.59V167.9H36.87zM80.46 169.8H89.18V171.7H80.46zM28.15 173.6H36.87V175.5H28.15zM54.31 180.8H63.03V182.7H54.31zM10.72 182.7H19.44V184.6H10.72zM10.72 188H19.44V189.9H10.72zM71.75 191.8H80.46V193.7H71.75zM45.59 193.7H54.31V195.6H45.59zM10.72 195.6H19.44V197.5H10.72zM71.75 197.5H80.46V200H71.75zM28.15 203.8H36.87V205.7H28.15zM36.87 207.6H45.59V209.5H36.87zM54.31 207.6H63.03V209.5H54.31zM45.59 211H54.31V212.9H45.59zM54.31 214.8H63.03V216.7H54.31zM10.72 218.6H19.44V220.5H10.72zM36.87 231.5H45.59V233H36.87zM2 234.9H10.72V236.8H2zM36.87 238.7H45.59V240.6H36.87zM45.59 243H54.31V244.9H45.59zM2 256.8H10.72V258.7H2zM19.44 256.8H28.15V258.7H19.44zM45.59 256.8H54.31V258.7H45.59zM36.87 260.6H45.59V262.5H36.87zM19.44 262.5H28.15V265H19.44zM89.18 262.5H97.9V265H89.18zM89.18 274.5H97.9V276H89.18zM19.44 276H28.15V277.9H19.44zM2 277.9H10.72V279.8H2zM2 279.8H10.72V281.7H2zM80.46 287H89.18V288.9H80.46zM28.15 294.6H36.87V296.5H28.15zM2 313.8H10.72V315.7H2zM45.59 313.8H54.31V315.7H45.59zM80.46 315.7H89.18V317.6H80.46zM2 317.6H10.72V319.5H2zM45.59 322.9H54.31V324.8H45.59zM19.44 328.6H28.15V330.5H19.44zM19.44 330.5H28.15V332H19.44zM19.44 332H28.15V333.9H19.44zM10.72 335.8H19.44V337.7H10.72zM10.72 337.7H19.44V339.6H10.72zM10.72 339.6H19.44V341.5H10.72zM36.87 344.9H45.59V346.8H36.87zM2 356.8H10.72V358.7H2zM2 358.7H10.72V360.6H2zM10.72 358.7H19.44V360.6H10.72zM36.87 363H45.59V364.9H36.87zM54.31 376.9H63.03V378.8H54.31zM28.15 382.6H36.87V384.5H28.15zM28.15 391.7H36.87V393.6H28.15zM89.18 400.8H97.9V402.7H89.18zM10.72 410.9H19.44V412.8H10.72zM89.18 412.8H97.9V414.7H89.18zM2 418.5H10.72V420H2zM45.59 421.9H54.31V423.8H45.59zM89.18 423.8H97.9V425.7H89.18zM2 425.7H10.72V427.6H2zM19.44 425.7H28.15V427.6H19.44zM45.59 425.7H54.31V427.6H45.59zM2 427.6H10.72V429.5H2zM36.87 431H45.59V432.9H36.87zM28.15 432.9H36.87V434.8H28.15zM10.72 447.4H19.44V449.3H10.72zM89.18 447.4H97.9V449.3H89.18zM45.59 451H54.31V452.9H45.59zM10.72 460.5H19.44V462H10.72zM36.87 465.8H45.59V468H36.87zM10.72 468H19.44V469.9H10.72zM63.03 482.8H71.75V484H63.03zM63.03 484H71.75V485.9H63.03zM36.87 493.8H45.59V495H36.87z"/>
<path fill="#58914d" d="M19.44 136.5H28.15V138.4H19.44zM63.03 138.4H71.75V140.3H63.03zM19.44 143H28.15V144.9H19.44zM45.59 143H54.31V144.9H45.59zM19.44 144.9H28.15V146.8H19.44zM63.03 144.9H71.75V146.8H63.03zM28.15 146.8H36.87V148.7H28.15zM19.44 148.7H28.15V150.6H19.44zM63.03 148.7H71.75V150.6H63.03zM36.87 150.6H45.59V152.5H36.87zM10.72 152.5H19.44V155H10.72zM45.59 152.5H54.31V155H45.59zM63.03 152.5H71.75V155H63.03zM63.03 158.8H71.75V160.7H63.03zM63.03 160.7H71.75V162.6H63.03zM63.03 164.5H71.75V166H63.03zM89.18 167.9H97.9V169.8H89.18zM54.31 188H63.03V189.9H54.31zM71.75 203.8H80.46V205.7H71.75zM89.18 211H97.9V212.9H89.18zM63.03 216.7H71.75V218.6H63.03zM63.03 220.5H71.75V222H63.03zM89.18 220.5H97.9V222H89.18zM89.18 233H97.9V234.9H89.18zM28.15 244.9H36.87V246.8H28.15zM63.03 244.9H71.75V246.8H63.03zM63.03 254.9H71.75V256.8H63.03zM63.03 256.8H71.75V258.7H63.03zM89.18 276H97.9V277.9H89.18zM71.75 283.6H80.46V285.5H71.75zM63.03 288.9H71.75V290.8H63.03zM54.31 294.6H63.03V296.5H54.31zM19.44 300.9H28.15V302.8H19.44zM71.75 300.9H80.46V302.8H71.75zM19.44 308.5H28.15V310H19.44zM80.46 308.5H89.18V310H80.46zM63.03 311.9H71.75V313.8H63.03zM63.03 319.5H71.75V321H63.03zM63.03 324.8H71.75V326.7H63.03zM63.03 333.9H71.75V335.8H63.03zM71.75 335.8H80.46V337.7H71.75zM71.75 341.5H80.46V343H71.75zM71.75 386H80.46V387.9H71.75zM63.03 395.5H71.75V397H63.03zM63.03 414.7H71.75V416.6H63.03zM71.75 416.6H80.46V418.5H71.75zM71.75 427.6H80.46V429.5H71.75zM63.03 431H71.75V432.9H63.03zM54.31 436.7H63.03V438.6H54.31zM63.03 441.9H71.75V443.8H63.03zM28.15 451H36.87V452.9H28.15zM80.46 452.9H89.18V454.8H80.46zM28.15 454.8H36.87V456.7H28.15zM63.03 462H71.75V463.9H63.03zM28.15 463.9H36.87V465.8H28.15zM28.15 465.8H36.87V468H28.15zM63.03 465.8H71.75V468H63.03zM2 469.9H10.72V471.8H2zM71.75 473H80.46V474.9H71.75zM10.72 482.8H19.44V484H10.72zM71.75 484H80.46V485.9H71.75zM36.87 485.9H45.59V487.8H36.87zM2 491.9H10.72V493.8H2z"/>
<path fill="#64ac58" d="M28.15 136.5H36.87V138.4H28.15zM45.59 136.5H54.31V138.4H45.59zM45.59 138.4H54.31V140.3H45.59zM89.18 140.3H97.9V143H89.18zM36.87 148.7H45.59V150.6H36.87zM28.15 150.6H36.87V152.5H28.15zM28.15 152.5H36.87V155H28.15zM19.44 155H28.15V156.9H19.44zM28.15 155H36.87V156.9H28.15zM28.15 156.9H36.87V158.8H28.15zM19.44 158.8H28.15V160.7H19.44zM19.44 160.7H28.15V162.6H19.44zM28.15 160.7H36.87V162.6H28.15zM28.15 162.6H36.87V164.5H28.15zM19.44 164.5H28.15V166H19.44zM63.03 167.9H71.75V169.8H63.03zM63.03 180.8H71.75V182.7H63.03zM63.03 186.5H71.75V188H63.03zM63.03 188H71.75V189.9H63.03zM19.44 189.9H28.15V191.8H19.44zM63.03 191.8H71.75V193.7H63.03zM19.44 197.5H28.15V200H19.44zM63.03 200H71.75V201.9H63.03zM63.03 201.9H71.75V203.8H63.03zM71.75 201.9H80.46V203.8H71.75zM19.44 209.5H28.15V211H19.44zM63.03 211H71.75V212.9H63.03zM63.03 212.9H71.75V214.8H63.03zM63.03 214.8H71.75V216.7H63.03zM89.18 216.7H97.9V218.6H89.18zM63.03 218.6H71.75V220.5H63.03zM63.03 222H71.75V223.9H63.03zM63.03 225.8H71.75V227.7H63.03zM63.03 227.7H71.75V229.6H63.03zM89.18 229.6H97.9V231.5H89.18zM19.44 233H28.15V234.9H19.44zM89.18 234.9H97.9V236.8H89.18zM89.18 238.7H97.9V240.6H89.18zM36.87 243H45.59V244.9H36.87zM63.03 243H71.75V244.9H63.03zM36.87 248.7H45.59V250.6H36.87zM63.03 248.7H71.75V250.6H63.03zM89.18 250.6H97.9V253H89.18zM63.03 253H71.75V254.9H63.03zM80.46 262.5H89.18V265H80.46zM63.03 265H71.75V266.9H63.03zM63.03 270.7H71.75V272.6H63.03zM63.03 276H71.75V277.9H63.03zM71.75 277.9H80.46V279.8H71.75zM89.18 279.8H97.9V281.7H89.18zM63.03 285.5H71.75V287H63.03zM54.31 290.8H63.03V292.7H54.31zM63.03 294.6H71.75V296.5H63.03zM54.31 296.5H63.03V299H54.31zM63.03 296.5H71.75V299H63.03zM63.03 299H71.75V300.9H63.03zM89.18 300.9H97.9V302.8H89.18zM19.44 302.8H28.15V304.7H19.44zM54.31 302.8H63.03V304.7H54.31zM80.46 302.8H89.18V304.7H80.46zM63.03 304.7H71.75V306.6H63.03zM80.46 304.7H89.18V306.6H80.46zM89.18 306.6H97.9V308.5H89.18zM63.03 310H71.75V311.9H63.03zM89.18 315.7H97.9V317.6H89.18zM71.75 321H80.46V322.9H71.75zM63.03 322.9H71.75V324.8H63.03zM71.75 322.9H80.46V324.8H71.75zM71.75 326.7H80.46V328.6H71.75zM71.75 332H80.46V333.9H71.75zM71.75 337.7H80.46V339.6H71.75zM63.03 344.9H71.75V346.8H63.03zM63.03 348.7H71.75V350.6H63.03zM63.03 350.6H71.75V353H63.03zM71.75 353H80.46V354.9H71.75zM71.75 354.9H80.46V356.8H71.75zM63.03 358.7H71.75V360.6H63.03zM63.03 360.6H71.75V363H63.03zM63.03 363H71.75V364.9H63.03zM71.75 364.9H80.46V366.8H71.75zM71.75 366.8H80.46V368.7H71.75zM63.03 370.6H71.75V372.5H63.03zM63.03 372.5H71.75V375H63.03zM71.75 372.5H80.46V375H71.75zM63.03 375H71.75V376.9H63.03zM71.75 375H80.46V376.9H71.75zM71.75 376.9H80.46V378.8H71.75zM71.75 380.7H80.46V382.6H71.75zM63.03 382.6H71.75V384.5H63.03zM63.03 384.5H71.75V386H63.03zM63.03 386H71.75V387.9H63.03zM63.03 389.8H71.75V391.7H63.03zM63.03 391.7H71.75V393.6H63.03zM63.03 393.6H71.75V395.5H63.03zM71.75 395.5H80.46V397H71.75zM63.03 398.9H71.75V400.8H63.03zM63.03 412.8H71.75V414.7H63.03zM63.03 416.6H71.75V418.5H63.03zM63.03 418.5H71.75V420H63.03zM80.46 418.5H89.18V420H80.46zM71.75 420H80.46V421.9H71.75zM63.03 421.9H71.75V423.8H63.03zM28.15 423.8H36.87V425.7H28.15zM71.75 431H80.46V432.9H71.75zM63.03 432.9H71.75V434.8H63.03zM71.75 432.9H80.46V434.8H71.75zM71.75 436.7H80.46V438.6H71.75zM71.75 438.6H80.46V440H71.75zM71.75 440H80.46V441.9H71.75zM71.75 441.9H80.46V443.8H71.75zM63.03 445.5H71.75V447.4H63.03zM71.75 445.5H80.46V447.4H71.75zM80.46 449.3H89.18V451H80.46zM71.75 451H80.46V452.9H71.75zM54.31 456.7H63.03V458.6H54.31zM63.03 456.7H71.75V458.6H63.03zM63.03 458.6H71.75V460.5H63.03zM28.15 462H36.87V463.9H28.15zM10.72 479H19.44V480.9H10.72zM2 480.9H10.72V482.8H2zM2 482.8H10.72V484H2zM89.18 482.8H97.9V484H89.18zM2 490H10.72V491.9H2zM71.75 491.9H80.46V493.8H71.75z"/>
<path fill="#e4383e" d="M71.75 136.5H80.46V138.4H71.75zM28.15 171.7H36.87V173.6H28.15zM2 203.8H10.72V205.7H2zM45.59 205.7H54.31V207.6H45.59zM10.72 238.7H19.44V240.6H10.72zM80.46 240.6H89.18V243H80.46zM19.44 244.9H28.15V246.8H19.44zM28.15 254.9H36.87V256.8H28.15zM28.15 256.8H36.87V258.7H28.15zM28.15 265H36.87V266.9H28.15zM45.59 276H54.31V277.9H45.59zM45.59 288.9H54.31V290.8H45.59zM10.72 306.6H19.44V308.5H10.72zM45.59 332H54.31V333.9H45.59zM45.59 333.9H54.31V335.8H45.59zM45.59 335.8H54.31V337.7H45.59zM36.87 339.6H45.59V341.5H36.87zM2 343H10.72V344.9H2zM2 344.9H10.72V346.8H2zM45.59 358.7H54.31V360.6H45.59zM45.59 363H54.31V364.9H45.59zM45.59 386H54.31V387.9H45.59zM19.44 387.9H28.15V389.8H19.44zM45.59 395.5H54.31V397H45.59zM19.44 414.7H28.15V416.6H19.44zM89.18 414.7H97.9V416.6H89.18zM89.18 416.6H97.9V418.5H89.18zM89.18 452.9H97.9V454.8H89.18zM54.31 462H63.03V463.9H54.31z"/>
<path fill="#b03336" d="M80.46 136.5H89.18V138.4H80.46zM10.72 138.4H19.44V140.3H10.72zM80.46 140.3H89.18V143H80.46zM89.18 143H97.9V144.9H89.18zM54.31 164.5H63.03V166H54.31zM36.87 171.7H45.59V173.6H36.87zM71.75 171.7H80.46V173.6H71.75zM36.87 173.6H45.59V175.5H36.87zM36.87 182.7H45.59V184.6H36.87zM28.15 193.7H36.87V195.6H28.15zM2 229.6H10.72V231.5H2zM2 233H10.72V234.9H2zM80.46 234.9H89.18V236.8H80.46zM10.72 243H19.44V244.9H10.72zM19.44 243H28.15V244.9H19.44zM28.15 258.7H36.87V260.6H28.15zM36.87 258.7H45.59V260.6H36.87zM45.59 272.6H54.31V274.5H45.59zM45.59 274.5H54.31V276H45.59zM28.15 276H36.87V277.9H28.15zM19.44 279.8H28.15V281.7H19.44zM36.87 285.5H45.59V287H36.87zM36.87 287H45.59V288.9H36.87zM10.72 304.7H19.44V306.6H10.72zM10.72 308.5H19.44V310H10.72zM19.44 313.8H28.15V315.7H19.44zM10.72 321H19.44V322.9H10.72zM19.44 321H28.15V322.9H19.44zM45.59 339.6H54.31V341.5H45.59zM19.44 346.8H28.15V348.7H19.44zM2 350.6H10.72V353H2zM2 384.5H10.72V386H2zM45.59 391.7H54.31V393.6H45.59zM89.18 398.9H97.9V400.8H89.18zM45.59 404.6H54.31V406.5H45.59zM45.59 409H54.31V410.9H45.59zM2 420H10.72V421.9H2zM2 421.9H10.72V423.8H2zM19.44 423.8H28.15V425.7H19.44zM45.59 436.7H54.31V438.6H45.59zM28.15 438.6H36.87V440H28.15zM45.59 441.9H54.31V443.8H45.59zM2 456.7H10.72V458.6H2zM2 458.6H10.72V460.5H2zM89.18 460.5H97.9V462H89.18zM45.59 473H54.31V474.9H45.59zM28.15 476.8H36.87V479H28.15zM54.31 476.8H63.03V479H54.31zM19.44 480.9H28.15V482.8H19.44zM28.15 480.9H36.87V482.8H28.15zM28.15 482.8H36.87V484H28.15z"/>
<path fill="#5c9a51" d="M36.87 138.4H45.59V140.3H36.87zM45.59 140.3H54.31V143H45.59zM36.87 152.5H45.59V155H36.87zM19.44 156.9H28.15V158.8H19.44zM45.59 156.9H54.31V158.8H45.59zM45.59 164.5H54.31V166H45.59zM63.03 175.5H71.75V177H63.03zM63.03 184.6H71.75V186.5H63.03zM19.44 193.7H28.15V195.6H19.44zM63.03 197.5H71.75V200H63.03zM63.03 203.8H71.75V205.7H63.03zM19.44 205.7H28.15V207.6H19.44zM63.03 205.7H71.75V207.6H63.03zM89.18 205.7H97.9V207.6H89.18zM63.03 207.6H71.75V209.5H63.03zM19.44 216.7H28.15V218.6H19.44zM89.18 218.6H97.9V220.5H89.18zM89.18 222H97.9V223.9H89.18zM63.03 231.5H71.75V233H63.03zM63.03 233H71.75V234.9H63.03zM63.03 258.7H71.75V260.6H63.03zM54.31 265H63.03V266.9H54.31zM71.75 266.9H80.46V268.8H71.75zM54.31 268.8H63.03V270.7H54.31zM63.03 274.5H71.75V276H63.03zM63.03 283.6H71.75V285.5H63.03zM54.31 288.9H63.03V290.8H54.31zM63.03 292.7H71.75V294.6H63.03zM54.31 300.9H63.03V302.8H54.31zM71.75 310H80.46V311.9H71.75zM89.18 310H97.9V311.9H89.18zM80.46 311.9H89.18V313.8H80.46zM63.03 313.8H71.75V315.7H63.03zM19.44 315.7H28.15V317.6H19.44zM63.03 315.7H71.75V317.6H63.03zM63.03 335.8H71.75V337.7H63.03zM63.03 354.9H71.75V356.8H63.03zM36.87 360.6H45.59V363H36.87zM71.75 384.5H80.46V386H71.75zM71.75 387.9H80.46V389.8H71.75zM71.75 397H80.46V398.9H71.75zM71.75 404.6H80.46V406.5H71.75zM71.75 409H80.46V410.9H71.75zM80.46 409H89.18V410.9H80.46zM71.75 410.9H80.46V412.8H71.75zM71.75 412.8H80.46V414.7H71.75zM63.03 420H71.75V421.9H63.03zM54.31 429.5H63.03V431H54.31zM63.03 434.8H71.75V436.7H63.03zM63.03 436.7H71.75V438.6H63.03zM63.03 443.8H71.75V445.5H63.03zM2 445.5H10.72V447.4H2zM2 447.4H10.72V449.3H2zM63.03 451H71.75V452.9H63.03zM63.03 452.9H71.75V454.8H63.03zM80.46 454.8H89.18V456.7H80.46zM19.44 465.8H28.15V468H19.44zM10.72 476.8H19.44V479H10.72z"/>
<path fill="#ca363a" d="M71.75 138.4H80.46V140.3H71.75zM54.31 140.3H63.03V143H54.31zM89.18 146.8H97.9V148.7H89.18zM89.18 160.7H97.9V162.6H89.18zM89.18 164.5H97.9V166H89.18zM2 191.8H10.72V193.7H2zM10.72 201.9H19.44V203.8H10.72zM36.87 205.7H45.59V207.6H36.87zM45.59 209.5H54.31V211H45.59zM10.72 211H19.44V212.9H10.72zM10.72 234.9H19.44V236.8H10.72zM10.72 246.8H19.44V248.7H10.72zM28.15 246.8H36.87V248.7H28.15zM2 276H10.72V277.9H2zM28.15 281.7H36.87V283.6H28.15zM45.59 283.6H54.31V285.5H45.59zM45.59 290.8H54.31V292.7H45.59zM10.72 319.5H19.44V321H10.72zM80.46 330.5H89.18V332H80.46zM2 335.8H10.72V337.7H2zM2 348.7H10.72V350.6H2zM45.59 354.9H54.31V356.8H45.59zM89.18 360.6H97.9V363H89.18zM89.18 402.7H97.9V404.6H89.18zM89.18 410.9H97.9V412.8H89.18zM89.18 418.5H97.9V420H89.18zM2 423.8H10.72V425.7H2zM19.44 440H28.15V441.9H19.44zM89.18 471.8H97.9V473H89.18zM63.03 485.9H71.75V487.8H63.03z"/>
<path fill="#392725" d="M28.15 140.3H36.87V143H28.15zM89.18 144.9H97.9V146.8H89.18zM10.72 158.8H19.44V160.7H10.72zM54.31 158.8H63.03V160.7H54.31zM54.31 160.7H63.03V162.6H54.31zM2 167.9H10.72V169.8H2zM71.75 167.9H80.46V169.8H71.75zM89.18 178.9H97.9V180.8H89.18zM71.75 180.8H80.46V182.7H71.75zM80.46 188H89.18V189.9H80.46zM54.31 189.9H63.03V191.8H54.31zM80.46 189.9H89.18V191.8H80.46zM10.72 193.7H19.44V195.6H10.72zM80.46 193.7H89.18V195.6H80.46zM36.87 197.5H45.59V200H36.87zM10.72 200H19.44V201.9H10.72zM54.31 200H63.03V201.9H54.31zM80.46 211H89.18V212.9H80.46zM28.15 212.9H36.87V214.8H28.15zM45.59 212.9H54.31V214.8H45.59zM19.44 214.8H28.15V216.7H19.44zM45.59 216.7H54.31V218.6H45.59zM54.31 216.7H63.03V218.6H54.31zM45.59 218.6H54.31V220.5H45.59zM71.75 222H80.46V223.9H71.75zM71.75 225.8H80.46V227.7H71.75zM28.15 233H36.87V234.9H28.15zM2 240.6H10.72V243H2zM45.59 240.6H54.31V243H45.59zM80.46 243H89.18V244.9H80.46zM2 246.8H10.72V248.7H2zM2 248.7H10.72V250.6H2zM28.15 248.7H36.87V250.6H28.15zM2 253H10.72V254.9H2zM36.87 253H45.59V254.9H36.87zM19.44 258.7H28.15V260.6H19.44zM10.72 260.6H19.44V262.5H10.72zM19.44 260.6H28.15V262.5H19.44zM2 262.5H10.72V265H2zM19.44 268.8H28.15V270.7H19.44zM10.72 277.9H19.44V279.8H10.72zM28.15 277.9H36.87V279.8H28.15zM2 281.7H10.72V283.6H2zM10.72 283.6H19.44V285.5H10.72zM2 285.5H10.72V287H2zM28.15 288.9H36.87V290.8H28.15zM28.15 290.8H36.87V292.7H28.15zM19.44 292.7H28.15V294.6H19.44zM89.18 292.7H97.9V294.6H89.18zM80.46 294.6H89.18V296.5H80.46zM80.46 296.5H89.18V299H80.46zM36.87 299H45.59V300.9H36.87zM2 302.8H10.72V304.7H2zM36.87 313.8H45.59V315.7H36.87zM36.87 322.9H45.59V324.8H36.87zM54.31 324.8H63.03V326.7H54.31zM28.15 326.7H36.87V328.6H28.15zM45.59 330.5H54.31V332H45.59zM28.15 332H36.87V333.9H28.15zM54.31 332H63.03V333.9H54.31zM2 333.9H10.72V335.8H2zM19.44 333.9H28.15V335.8H19.44zM36.87 335.8H45.59V337.7H36.87zM80.46 335.8H89.18V337.7H80.46zM28.15 344.9H36.87V346.8H28.15zM28.15 350.6H36.87V353H28.15zM54.31 353H63.03V354.9H54.31zM80.46 354.9H89.18V356.8H80.46zM28.15 356.8H36.87V358.7H28.15zM89.18 356.8H97.9V358.7H89.18zM28.15 364.9H36.87V366.8H28.15zM19.44 368.7H28.15V370.6H19.44zM10.72 375H19.44V376.9H10.72zM19.44 380.7H28.15V382.6H19.44zM19.44 382.6H28.15V384.5H19.44zM54.31 384.5H63.03V386H54.31zM2 389.8H10.72V391.7H2zM54.31 389.8H63.03V391.7H54.31zM2 391.7H10.72V393.6H2zM45.59 393.6H54.31V395.5H45.59zM80.46 400.8H89.18V402.7H80.46zM54.31 409H63.03V410.9H54.31zM36.87 410.9H45.59V412.8H36.87zM45.59 414.7H54.31V416.6H45.59zM28.15 416.6H36.87V418.5H28.15zM54.31 418.5H63.03V420H54.31zM10.72 425.7H19.44V427.6H10.72zM36.87 425.7H45.59V427.6H36.87zM89.18 427.6H97.9V429.5H89.18zM2 434.8H10.72V436.7H2zM2 436.7H10.72V438.6H2zM36.87 441.9H45.59V443.8H36.87zM45.59 449.3H54.31V451H45.59zM10.72 456.7H19.44V458.6H10.72zM36.87 462H45.59V463.9H36.87zM80.46 462H89.18V463.9H80.46zM10.72 463.9H19.44V465.8H10.72zM80.46 463.9H89.18V465.8H80.46zM2 473H10.72V474.9H2zM36.87 474.9H45.59V476.8H36.87zM19.44 476.8H28.15V479H19.44zM45.59 487.8H54.31V490H45.59zM19.44 490H28.15V491.9H19.44zM36.87 490H45.59V491.9H36.87z"/>
<path fill="#33372a" d="M63.03 140.3H71.75V143H63.03zM54.31 143H63.03V144.9H54.31zM10.72 148.7H19.44V150.6H10.72zM2 156.9H10.72V158.8H2zM10.72 164.5H19.44V166H10.72zM36.87 164.5H45.59V166H36.87zM28.15 167.9H36.87V169.8H28.15zM19.44 173.6H28.15V175.5H19.44zM10.72 178.9H19.44V180.8H10.72zM89.18 180.8H97.9V182.7H89.18zM45.59 182.7H54.31V184.6H45.59zM10.72 186.5H19.44V188H10.72zM28.15 188H36.87V189.9H28.15zM71.75 193.7H80.46V195.6H71.75zM28.15 197.5H36.87V200H28.15zM36.87 201.9H45.59V203.8H36.87zM10.72 214.8H19.44V216.7H10.72zM10.72 216.7H19.44V218.6H10.72zM54.31 218.6H63.03V220.5H54.31zM54.31 222H63.03V223.9H54.31zM19.44 223.9H28.15V225.8H19.44zM28.15 223.9H36.87V225.8H28.15zM54.31 223.9H63.03V225.8H54.31zM54.31 233H63.03V234.9H54.31zM10.72 253H19.44V254.9H10.72zM19.44 253H28.15V254.9H19.44zM54.31 256.8H63.03V258.7H54.31zM2 260.6H10.72V262.5H2zM80.46 268.8H89.18V270.7H80.46zM10.72 274.5H19.44V276H10.72zM54.31 276H63.03V277.9H54.31zM19.44 277.9H28.15V279.8H19.44zM36.87 279.8H45.59V281.7H36.87zM80.46 283.6H89.18V285.5H80.46zM89.18 288.9H97.9V290.8H89.18zM89.18 294.6H97.9V296.5H89.18zM45.59 300.9H54.31V302.8H45.59zM71.75 306.6H80.46V308.5H71.75zM63.03 308.5H71.75V310H63.03zM54.31 322.9H63.03V324.8H54.31zM10.72 328.6H19.44V330.5H10.72zM36.87 330.5H45.59V332H36.87zM80.46 348.7H89.18V350.6H80.46zM10.72 354.9H19.44V356.8H10.72zM36.87 364.9H45.59V366.8H36.87zM89.18 366.8H97.9V368.7H89.18zM10.72 368.7H19.44V370.6H10.72zM54.31 368.7H63.03V370.6H54.31zM80.46 370.6H89.18V372.5H80.46zM89.18 376.9H97.9V378.8H89.18zM89.18 378.8H97.9V380.7H89.18zM80.46 380.7H89.18V382.6H80.46zM45.59 384.5H54.31V386H45.59zM10.72 386H19.44V387.9H10.72zM28.15 386H36.87V387.9H28.15zM54.31 391.7H63.03V393.6H54.31zM10.72 393.6H19.44V395.5H10.72zM19.44 397H28.15V398.9H19.44zM80.46 402.7H89.18V404.6H80.46zM54.31 406.5H63.03V409H54.31zM28.15 409H36.87V410.9H28.15zM36.87 409H45.59V410.9H36.87zM2 416.6H10.72V418.5H2zM19.44 416.6H28.15V418.5H19.44zM54.31 420H63.03V421.9H54.31zM10.72 421.9H19.44V423.8H10.72zM10.72 423.8H19.44V425.7H10.72zM80.46 429.5H89.18V431H80.46zM2 431H10.72V432.9H2zM10.72 432.9H19.44V434.8H10.72zM80.46 438.6H89.18V440H80.46zM10.72 441.9H19.44V443.8H10.72zM2 451H10.72V452.9H2zM28.15 452.9H36.87V454.8H28.15zM45.59 452.9H54.31V454.8H45.59zM71.75 452.9H80.46V454.8H71.75zM71.75 465.8H80.46V468H71.75zM36.87 468H45.59V469.9H36.87zM36.87 471.8H45.59V473H36.87zM80.46 474.9H89.18V476.8H80.46zM80.46 479H89.18V480.9H80.46zM45.59 480.9H54.31V482.8H45.59zM54.31 482.8H63.03V484H54.31zM80.46 482.8H89.18V484H80.46zM80.46 490H89.18V491.9H80.46zM80.46 491.9H89.18V493.8H80.46zM28.15 493.8H36.87V495H28.15z"/>
<path fill="#3e5235" d="M10.72 143H19.44V144.9H10.72zM71.75 144.9H80.46V146.8H71.75zM54.31 146.8H63.03V148.7H54.31zM19.44 166H28.15V167.9H19.44zM54.31 167.9H63.03V169.8H54.31zM54.31 175.5H63.03V177H54.31zM28.15 178.9H36.87V180.8H28.15zM89.18 186.5H97.9V188H89.18zM63.03 189.9H71.75V191.8H63.03zM89.18 189.9H97.9V191.8H89.18zM28.15 191.8H36.87V193.7H28.15zM36.87 195.6H45.59V197.5H36.87zM89.18 200H97.9V201.9H89.18zM89.18 201.9H97.9V203.8H89.18zM71.75 205.7H80.46V207.6H71.75zM71.75 209.5H80.46V211H71.75zM28.15 211H36.87V212.9H28.15zM71.75 212.9H80.46V214.8H71.75zM71.75 216.7H80.46V218.6H71.75zM28.15 218.6H36.87V220.5H28.15zM36.87 218.6H45.59V220.5H36.87zM71.75 227.7H80.46V229.6H71.75zM45.59 233H54.31V234.9H45.59zM71.75 234.9H80.46V236.8H71.75zM28.15 240.6H36.87V243H28.15zM71.75 248.7H80.46V250.6H71.75zM80.46 253H89.18V254.9H80.46zM80.46 256.8H89.18V258.7H80.46zM2 266.9H10.72V268.8H2zM71.75 268.8H80.46V270.7H71.75zM2 272.6H10.72V274.5H2zM10.72 272.6H19.44V274.5H10.72zM2 288.9H10.72V290.8H2zM2 294.6H10.72V296.5H2zM89.18 302.8H97.9V304.7H89.18zM2 304.7H10.72V306.6H2zM71.75 304.7H80.46V306.6H71.75zM54.31 306.6H63.03V308.5H54.31zM54.31 308.5H63.03V310H54.31zM45.59 319.5H54.31V321H45.59zM54.31 319.5H63.03V321H54.31zM54.31 321H63.03V322.9H54.31zM63.03 326.7H71.75V328.6H63.03zM54.31 328.6H63.03V330.5H54.31zM80.46 339.6H89.18V341.5H80.46zM54.31 346.8H63.03V348.7H54.31zM2 353H10.72V354.9H2zM36.87 353H45.59V354.9H36.87zM36.87 358.7H45.59V360.6H36.87zM54.31 358.7H63.03V360.6H54.31zM10.72 370.6H19.44V372.5H10.72zM54.31 375H63.03V376.9H54.31zM19.44 378.8H28.15V380.7H19.44zM36.87 380.7H45.59V382.6H36.87zM36.87 382.6H45.59V384.5H36.87zM71.75 382.6H80.46V384.5H71.75zM10.72 384.5H19.44V386H10.72zM80.46 391.7H89.18V393.6H80.46zM10.72 395.5H19.44V397H10.72zM10.72 398.9H19.44V400.8H10.72zM54.31 410.9H63.03V412.8H54.31zM80.46 410.9H89.18V412.8H80.46zM28.15 414.7H36.87V416.6H28.15zM45.59 416.6H54.31V418.5H45.59zM80.46 416.6H89.18V418.5H80.46zM36.87 421.9H45.59V423.8H36.87zM54.31 423.8H63.03V425.7H54.31zM80.46 427.6H89.18V429.5H80.46zM10.72 431H19.44V432.9H10.72zM80.46 431H89.18V432.9H80.46zM28.15 441.9H36.87V443.8H28.15zM36.87 447.4H45.59V449.3H36.87zM10.72 462H19.44V463.9H10.72zM63.03 463.9H71.75V465.8H63.03zM28.15 469.9H36.87V471.8H28.15zM2 476.8H10.72V479H2zM80.46 476.8H89.18V479H80.46zM28.15 491.9H36.87V493.8H28.15z"/>
<path fill="#f23a40" d="M80.46 143H89.18V144.9H80.46zM80.46 144.9H89.18V146.8H80.46zM89.18 148.7H97.9V150.6H89.18zM89.18 150.6H97.9V152.5H89.18zM80.46 155H89.18V156.9H80.46zM89.18 155H97.9V156.9H89.18zM80.46 156.9H89.18V158.8H80.46zM89.18 156.9H97.9V158.8H89.18zM80.46 158.8H89.18V160.7H80.46zM89.18 158.8H97.9V160.7H89.18zM89.18 162.6H97.9V164.5H89.18zM71.75 164.5H80.46V166H71.75zM80.46 164.5H89.18V166H80.46zM2 195.6H10.72V197.5H2zM2 200H10.72V201.9H2zM45.59 200H54.31V201.9H45.59zM2 207.6H10.72V209.5H2zM2 209.5H10.72V211H2zM2 211H10.72V212.9H2zM2 220.5H10.72V222H2zM2 223.9H10.72V225.8H2zM10.72 233H19.44V234.9H10.72zM80.46 233H89.18V234.9H80.46zM10.72 236.8H19.44V238.7H10.72zM28.15 260.6H36.87V262.5H28.15zM28.15 262.5H36.87V265H28.15zM36.87 268.8H45.59V270.7H36.87zM28.15 272.6H36.87V274.5H28.15zM36.87 274.5H45.59V276H36.87zM45.59 281.7H54.31V283.6H45.59zM28.15 283.6H36.87V285.5H28.15zM45.59 285.5H54.31V287H45.59zM36.87 290.8H45.59V292.7H36.87zM36.87 294.6H45.59V296.5H36.87zM10.72 299H19.44V300.9H10.72zM28.15 300.9H36.87V302.8H28.15zM10.72 311.9H19.44V313.8H10.72zM10.72 313.8H19.44V315.7H10.72zM89.18 321H97.9V322.9H89.18zM89.18 326.7H97.9V328.6H89.18zM89.18 328.6H97.9V330.5H89.18zM89.18 335.8H97.9V337.7H89.18zM2 337.7H10.72V339.6H2zM2 341.5H10.72V343H2zM19.44 344.9H28.15V346.8H19.44zM89.18 344.9H97.9V346.8H89.18zM19.44 348.7H28.15V350.6H19.44zM45.59 348.7H54.31V350.6H45.59zM89.18 348.7H97.9V350.6H89.18zM36.87 350.6H45.59V353H36.87zM89.18 350.6H97.9V353H89.18zM45.59 360.6H54.31V363H45.59zM45.59 368.7H54.31V370.6H45.59zM45.59 387.9H54.31V389.8H45.59zM19.44 393.6H28.15V395.5H19.44zM19.44 395.5H28.15V397H19.44zM45.59 397H54.31V398.9H45.59zM19.44 402.7H28.15V404.6H19.44zM19.44 421.9H28.15V423.8H19.44zM45.59 432.9H54.31V434.8H45.59zM19.44 438.6H28.15V440H19.44zM19.44 441.9H28.15V443.8H19.44zM45.59 443.8H54.31V445.5H45.59zM89.18 445.5H97.9V447.4H89.18zM89.18 449.3H97.9V451H89.18zM19.44 452.9H28.15V454.8H19.44zM89.18 456.7H97.9V458.6H89.18zM2 460.5H10.72V462H2zM45.59 463.9H54.31V465.8H45.59zM45.59 469.9H54.31V471.8H45.59zM89.18 469.9H97.9V471.8H89.18zM54.31 473H63.03V474.9H54.31zM28.15 474.9H36.87V476.8H28.15zM54.31 493.8H63.03V495H54.31z"/>
<path fill="#2c2624" d="M2 144.9H10.72V146.8H2zM10.72 144.9H19.44V146.8H10.72zM45.59 148.7H54.31V150.6H45.59zM2 152.5H10.72V155H2zM2 158.8H10.72V160.7H2zM10.72 166H19.44V167.9H10.72zM19.44 167.9H28.15V169.8H19.44zM80.46 175.5H89.18V177H80.46zM45.59 178.9H54.31V180.8H45.59zM2 180.8H10.72V182.7H2zM80.46 184.6H89.18V186.5H80.46zM45.59 189.9H54.31V191.8H45.59zM80.46 191.8H89.18V193.7H80.46zM89.18 197.5H97.9V200H89.18zM28.15 201.9H36.87V203.8H28.15zM45.59 207.6H54.31V209.5H45.59zM80.46 212.9H89.18V214.8H80.46zM54.31 225.8H63.03V227.7H54.31zM19.44 227.7H28.15V229.6H19.44zM36.87 233H45.59V234.9H36.87zM28.15 238.7H36.87V240.6H28.15zM36.87 240.6H45.59V243H36.87zM45.59 246.8H54.31V248.7H45.59zM19.44 254.9H28.15V256.8H19.44zM54.31 254.9H63.03V256.8H54.31zM36.87 256.8H45.59V258.7H36.87zM80.46 265H89.18V266.9H80.46zM89.18 270.7H97.9V272.6H89.18zM71.75 274.5H80.46V276H71.75zM19.44 281.7H28.15V283.6H19.44zM89.18 290.8H97.9V292.7H89.18zM2 299H10.72V300.9H2zM45.59 302.8H54.31V304.7H45.59zM54.31 304.7H63.03V306.6H54.31zM45.59 311.9H54.31V313.8H45.59zM54.31 313.8H63.03V315.7H54.31zM10.72 317.6H19.44V319.5H10.72zM36.87 317.6H45.59V319.5H36.87zM45.59 317.6H54.31V319.5H45.59zM19.44 322.9H28.15V324.8H19.44zM28.15 322.9H36.87V324.8H28.15zM80.46 322.9H89.18V324.8H80.46zM19.44 326.7H28.15V328.6H19.44zM80.46 326.7H89.18V328.6H80.46zM10.72 332H19.44V333.9H10.72zM28.15 337.7H36.87V339.6H28.15zM28.15 348.7H36.87V350.6H28.15zM19.44 358.7H28.15V360.6H19.44zM89.18 358.7H97.9V360.6H89.18zM28.15 360.6H36.87V363H28.15zM10.72 363H19.44V364.9H10.72zM80.46 363H89.18V364.9H80.46zM10.72 366.8H19.44V368.7H10.72zM80.46 368.7H89.18V370.6H80.46zM54.31 370.6H63.03V372.5H54.31zM36.87 387.9H45.59V389.8H36.87zM89.18 387.9H97.9V389.8H89.18zM10.72 389.8H19.44V391.7H10.72zM10.72 397H19.44V398.9H10.72zM10.72 400.8H19.44V402.7H10.72zM54.31 400.8H63.03V402.7H54.31zM28.15 406.5H36.87V409H28.15zM80.46 406.5H89.18V409H80.46zM19.44 409H28.15V410.9H19.44zM36.87 420H45.59V421.9H36.87zM45.59 429.5H54.31V431H45.59zM89.18 434.8H97.9V436.7H89.18zM28.15 436.7H36.87V438.6H28.15zM89.18 436.7H97.9V438.6H89.18zM2 441.9H10.72V443.8H2zM2 443.8H10.72V445.5H2zM54.31 447.4H63.03V449.3H54.31zM63.03 449.3H71.75V451H63.03zM80.46 451H89.18V452.9H80.46zM80.46 456.7H89.18V458.6H80.46zM54.31 465.8H63.03V468H54.31zM36.87 469.9H45.59V471.8H36.87zM10.72 471.8H19.44V473H10.72zM28.15 471.8H36.87V473H28.15zM19.44 482.8H28.15V484H19.44zM36.87 484H45.59V485.9H36.87zM54.31 484H63.03V485.9H54.31zM80.46 485.9H89.18V487.8H80.46z"/>
<path fill="#602b2b" d="M45.59 144.9H54.31V146.8H45.59zM71.75 150.6H80.46V152.5H71.75zM71.75 166H80.46V167.9H71.75zM45.59 167.9H54.31V169.8H45.59zM45.59 171.7H54.31V173.6H45.59zM71.75 173.6H80.46V175.5H71.75zM80.46 173.6H89.18V175.5H80.46zM19.44 175.5H28.15V177H19.44zM71.75 175.5H80.46V177H71.75zM54.31 178.9H63.03V180.8H54.31zM71.75 182.7H80.46V184.6H71.75zM19.44 184.6H28.15V186.5H19.44zM89.18 184.6H97.9V186.5H89.18zM10.72 191.8H19.44V193.7H10.72zM54.31 191.8H63.03V193.7H54.31zM45.59 197.5H54.31V200H45.59zM36.87 209.5H45.59V211H36.87zM45.59 214.8H54.31V216.7H45.59zM54.31 220.5H63.03V222H54.31zM36.87 222H45.59V223.9H36.87zM54.31 229.6H63.03V231.5H54.31zM45.59 234.9H54.31V236.8H45.59zM71.75 236.8H80.46V238.7H71.75zM2 243H10.72V244.9H2zM2 254.9H10.72V256.8H2zM89.18 258.7H97.9V260.6H89.18zM36.87 262.5H45.59V265H36.87zM80.46 266.9H89.18V268.8H80.46zM2 283.6H10.72V285.5H2zM71.75 288.9H80.46V290.8H71.75zM10.72 302.8H19.44V304.7H10.72zM2 311.9H10.72V313.8H2zM10.72 315.7H19.44V317.6H10.72zM36.87 319.5H45.59V321H36.87zM28.15 324.8H36.87V326.7H28.15zM10.72 326.7H19.44V328.6H10.72zM54.31 326.7H63.03V328.6H54.31zM28.15 330.5H36.87V332H28.15zM10.72 333.9H19.44V335.8H10.72zM71.75 348.7H80.46V350.6H71.75zM19.44 353H28.15V354.9H19.44zM80.46 353H89.18V354.9H80.46zM2 354.9H10.72V356.8H2zM10.72 356.8H19.44V358.7H10.72zM80.46 364.9H89.18V366.8H80.46zM80.46 366.8H89.18V368.7H80.46zM19.44 370.6H28.15V372.5H19.44zM19.44 375H28.15V376.9H19.44zM10.72 376.9H19.44V378.8H10.72zM54.31 378.8H63.03V380.7H54.31zM2 380.7H10.72V382.6H2zM2 382.6H10.72V384.5H2zM28.15 384.5H36.87V386H28.15zM2 387.9H10.72V389.8H2zM36.87 391.7H45.59V393.6H36.87zM89.18 391.7H97.9V393.6H89.18zM89.18 393.6H97.9V395.5H89.18zM89.18 395.5H97.9V397H89.18zM45.59 398.9H54.31V400.8H45.59zM89.18 404.6H97.9V406.5H89.18zM36.87 406.5H45.59V409H36.87zM45.59 412.8H54.31V414.7H45.59zM10.72 414.7H19.44V416.6H10.72zM36.87 414.7H45.59V416.6H36.87zM54.31 414.7H63.03V416.6H54.31zM89.18 420H97.9V421.9H89.18zM19.44 432.9H28.15V434.8H19.44zM89.18 432.9H97.9V434.8H89.18zM36.87 445.5H45.59V447.4H36.87zM45.59 447.4H54.31V449.3H45.59zM10.72 451H19.44V452.9H10.72zM36.87 458.6H45.59V460.5H36.87zM54.31 458.6H63.03V460.5H54.31zM80.46 458.6H89.18V460.5H80.46zM10.72 469.9H19.44V471.8H10.72zM36.87 473H45.59V474.9H36.87zM45.59 491.9H54.31V493.8H45.59z"/>
<path fill="#425b38" d="M2 146.8H10.72V148.7H2zM36.87 156.9H45.59V158.8H36.87zM45.59 158.8H54.31V160.7H45.59zM36.87 160.7H45.59V162.6H36.87zM19.44 169.8H28.15V171.7H19.44zM19.44 171.7H28.15V173.6H19.44zM19.44 177H28.15V178.9H19.44zM54.31 186.5H63.03V188H54.31zM89.18 207.6H97.9V209.5H89.18zM54.31 212.9H63.03V214.8H54.31zM71.75 218.6H80.46V220.5H71.75zM71.75 220.5H80.46V222H71.75zM45.59 223.9H54.31V225.8H45.59zM45.59 225.8H54.31V227.7H45.59zM89.18 231.5H97.9V233H89.18zM71.75 233H80.46V234.9H71.75zM80.46 244.9H89.18V246.8H80.46zM71.75 250.6H80.46V253H71.75zM71.75 256.8H80.46V258.7H71.75zM54.31 260.6H63.03V262.5H54.31zM63.03 266.9H71.75V268.8H63.03zM2 268.8H10.72V270.7H2zM80.46 272.6H89.18V274.5H80.46zM71.75 276H80.46V277.9H71.75zM89.18 287H97.9V288.9H89.18zM54.31 310H63.03V311.9H54.31zM80.46 310H89.18V311.9H80.46zM45.59 315.7H54.31V317.6H45.59zM89.18 319.5H97.9V321H89.18zM45.59 326.7H54.31V328.6H45.59zM28.15 328.6H36.87V330.5H28.15zM54.31 330.5H63.03V332H54.31zM28.15 335.8H36.87V337.7H28.15zM10.72 344.9H19.44V346.8H10.72zM71.75 346.8H80.46V348.7H71.75zM54.31 350.6H63.03V353H54.31zM54.31 360.6H63.03V363H54.31zM80.46 360.6H89.18V363H80.46zM36.87 368.7H45.59V370.6H36.87zM71.75 378.8H80.46V380.7H71.75zM54.31 380.7H63.03V382.6H54.31zM89.18 380.7H97.9V382.6H89.18zM54.31 395.5H63.03V397H54.31zM80.46 397H89.18V398.9H80.46zM71.75 400.8H80.46V402.7H71.75zM54.31 402.7H63.03V404.6H54.31zM19.44 418.5H28.15V420H19.44zM71.75 421.9H80.46V423.8H71.75zM71.75 425.7H80.46V427.6H71.75zM54.31 427.6H63.03V429.5H54.31zM28.15 429.5H36.87V431H28.15zM10.72 438.6H19.44V440H10.72zM54.31 438.6H63.03V440H54.31zM80.46 441.9H89.18V443.8H80.46zM71.75 443.8H80.46V445.5H71.75zM36.87 452.9H45.59V454.8H36.87zM54.31 452.9H63.03V454.8H54.31zM63.03 454.8H71.75V456.7H63.03zM28.15 456.7H36.87V458.6H28.15zM71.75 460.5H80.46V462H71.75zM19.44 462H28.15V463.9H19.44zM80.46 465.8H89.18V468H80.46zM10.72 473H19.44V474.9H10.72zM63.03 473H71.75V474.9H63.03zM2 474.9H10.72V476.8H2zM63.03 474.9H71.75V476.8H63.03zM80.46 480.9H89.18V482.8H80.46zM28.15 485.9H36.87V487.8H28.15zM71.75 485.9H80.46V487.8H71.75zM80.46 487.8H89.18V490H80.46zM89.18 487.8H97.9V490H89.18zM28.15 490H36.87V491.9H28.15zM10.72 493.8H19.44V495H10.72z"/>
<path fill="#46643c" d="M45.59 150.6H54.31V152.5H45.59zM10.72 162.6H19.44V164.5H10.72zM63.03 162.6H71.75V164.5H63.03zM10.72 167.9H19.44V169.8H10.72zM89.18 169.8H97.9V171.7H89.18zM54.31 171.7H63.03V173.6H54.31zM89.18 171.7H97.9V173.6H89.18zM63.03 173.6H71.75V175.5H63.03zM89.18 177H97.9V178.9H89.18zM80.46 197.5H89.18V200H80.46zM71.75 200H80.46V201.9H71.75zM89.18 209.5H97.9V211H89.18zM19.44 220.5H28.15V222H19.44zM45.59 222H54.31V223.9H45.59zM71.75 223.9H80.46V225.8H71.75zM63.03 229.6H71.75V231.5H63.03zM54.31 234.9H63.03V236.8H54.31zM19.44 236.8H28.15V238.7H19.44zM63.03 236.8H71.75V238.7H63.03zM89.18 240.6H97.9V243H89.18zM71.75 244.9H80.46V246.8H71.75zM89.18 246.8H97.9V248.7H89.18zM54.31 253H63.03V254.9H54.31zM2 258.7H10.72V260.6H2zM71.75 258.7H80.46V260.6H71.75zM80.46 270.7H89.18V272.6H80.46zM19.44 272.6H28.15V274.5H19.44zM63.03 272.6H71.75V274.5H63.03zM71.75 290.8H80.46V292.7H71.75zM71.75 292.7H80.46V294.6H71.75zM71.75 294.6H80.46V296.5H71.75zM54.31 311.9H63.03V313.8H54.31zM89.18 313.8H97.9V315.7H89.18zM28.15 317.6H36.87V319.5H28.15zM71.75 319.5H80.46V321H71.75zM36.87 324.8H45.59V326.7H36.87zM80.46 337.7H89.18V339.6H80.46zM28.15 341.5H36.87V343H28.15zM63.03 341.5H71.75V343H63.03zM71.75 343H80.46V344.9H71.75zM36.87 346.8H45.59V348.7H36.87zM54.31 356.8H63.03V358.7H54.31zM71.75 358.7H80.46V360.6H71.75zM28.15 363H36.87V364.9H28.15zM36.87 370.6H45.59V372.5H36.87zM63.03 376.9H71.75V378.8H63.03zM54.31 382.6H63.03V384.5H54.31zM28.15 410.9H36.87V412.8H28.15zM80.46 412.8H89.18V414.7H80.46zM80.46 432.9H89.18V434.8H80.46zM80.46 436.7H89.18V438.6H80.46zM2 452.9H10.72V454.8H2zM54.31 454.8H63.03V456.7H54.31zM10.72 458.6H19.44V460.5H10.72zM71.75 487.8H80.46V490H71.75zM19.44 491.9H28.15V493.8H19.44z"/>
<path fill="#37402e" d="M54.31 150.6H63.03V152.5H54.31zM54.31 152.5H63.03V155H54.31zM71.75 152.5H80.46V155H71.75zM36.87 155H45.59V156.9H36.87zM63.03 166H71.75V167.9H63.03zM28.15 169.8H36.87V171.7H28.15zM10.72 173.6H19.44V175.5H10.72zM2 177H10.72V178.9H2zM2 178.9H10.72V180.8H2zM89.18 193.7H97.9V195.6H89.18zM71.75 195.6H80.46V197.5H71.75zM54.31 201.9H63.03V203.8H54.31zM71.75 207.6H80.46V209.5H71.75zM36.87 212.9H45.59V214.8H36.87zM36.87 214.8H45.59V216.7H36.87zM80.46 218.6H89.18V220.5H80.46zM28.15 220.5H36.87V222H28.15zM45.59 220.5H54.31V222H45.59zM36.87 229.6H45.59V231.5H36.87zM71.75 231.5H80.46V233H71.75zM54.31 238.7H63.03V240.6H54.31zM80.46 246.8H89.18V248.7H80.46zM2 250.6H10.72V253H2zM71.75 270.7H80.46V272.6H71.75zM71.75 272.6H80.46V274.5H71.75zM54.31 285.5H63.03V287H54.31zM2 287H10.72V288.9H2zM19.44 290.8H28.15V292.7H19.44zM10.72 296.5H19.44V299H10.72zM71.75 308.5H80.46V310H71.75zM28.15 311.9H36.87V313.8H28.15zM54.31 315.7H63.03V317.6H54.31zM54.31 317.6H63.03V319.5H54.31zM2 319.5H10.72V321H2zM54.31 341.5H63.03V343H54.31zM71.75 344.9H80.46V346.8H71.75zM80.46 344.9H89.18V346.8H80.46zM10.72 346.8H19.44V348.7H10.72zM71.75 350.6H80.46V353H71.75zM19.44 356.8H28.15V358.7H19.44zM80.46 358.7H89.18V360.6H80.46zM10.72 360.6H19.44V363H10.72zM89.18 368.7H97.9V370.6H89.18zM36.87 376.9H45.59V378.8H36.87zM54.31 386H63.03V387.9H54.31zM2 393.6H10.72V395.5H2zM54.31 393.6H63.03V395.5H54.31zM80.46 393.6H89.18V395.5H80.46zM28.15 402.7H36.87V404.6H28.15zM63.03 409H71.75V410.9H63.03zM36.87 416.6H45.59V418.5H36.87zM28.15 420H36.87V421.9H28.15zM28.15 421.9H36.87V423.8H28.15zM80.46 421.9H89.18V423.8H80.46zM36.87 423.8H45.59V425.7H36.87zM45.59 427.6H54.31V429.5H45.59zM36.87 429.5H45.59V431H36.87zM2 432.9H10.72V434.8H2zM10.72 434.8H19.44V436.7H10.72zM54.31 441.9H63.03V443.8H54.31zM89.18 441.9H97.9V443.8H89.18zM89.18 443.8H97.9V445.5H89.18zM10.72 445.5H19.44V447.4H10.72zM54.31 451H63.03V452.9H54.31zM10.72 454.8H19.44V456.7H10.72zM28.15 458.6H36.87V460.5H28.15zM45.59 460.5H54.31V462H45.59zM63.03 476.8H71.75V479H63.03zM89.18 479H97.9V480.9H89.18zM54.31 480.9H63.03V482.8H54.31zM2 484H10.72V485.9H2zM28.15 484H36.87V485.9H28.15zM89.18 485.9H97.9V487.8H89.18zM10.72 487.8H19.44V490H10.72zM10.72 491.9H19.44V493.8H10.72z"/>
<path fill="#7b2e2f" d="M80.46 152.5H89.18V155H80.46zM36.87 167.9H45.59V169.8H36.87zM2 169.8H10.72V171.7H2zM2 171.7H10.72V173.6H2zM54.31 173.6H63.03V175.5H54.31zM10.72 175.5H19.44V177H10.72zM28.15 177H36.87V178.9H28.15zM71.75 177H80.46V178.9H71.75zM45.59 180.8H54.31V182.7H45.59zM28.15 182.7H36.87V184.6H28.15zM89.18 182.7H97.9V184.6H89.18zM71.75 186.5H80.46V188H71.75zM80.46 200H89.18V201.9H80.46zM36.87 203.8H45.59V205.7H36.87zM10.72 205.7H19.44V207.6H10.72zM2 216.7H10.72V218.6H2zM80.46 223.9H89.18V225.8H80.46zM2 227.7H10.72V229.6H2zM2 231.5H10.72V233H2zM80.46 231.5H89.18V233H80.46zM2 236.8H10.72V238.7H2zM19.44 246.8H28.15V248.7H19.44zM10.72 248.7H19.44V250.6H10.72zM89.18 256.8H97.9V258.7H89.18zM45.59 260.6H54.31V262.5H45.59zM45.59 262.5H54.31V265H45.59zM89.18 266.9H97.9V268.8H89.18zM80.46 285.5H89.18V287H80.46zM45.59 292.7H54.31V294.6H45.59zM45.59 296.5H54.31V299H45.59zM45.59 299H54.31V300.9H45.59zM2 300.9H10.72V302.8H2zM36.87 300.9H45.59V302.8H36.87zM19.44 310H28.15V311.9H19.44zM36.87 310H45.59V311.9H36.87zM28.15 313.8H36.87V315.7H28.15zM10.72 324.8H19.44V326.7H10.72zM89.18 354.9H97.9V356.8H89.18zM19.44 363H28.15V364.9H19.44zM19.44 366.8H28.15V368.7H19.44zM45.59 380.7H54.31V382.6H45.59zM80.46 382.6H89.18V384.5H80.46zM19.44 384.5H28.15V386H19.44zM89.18 386H97.9V387.9H89.18zM54.31 387.9H63.03V389.8H54.31zM36.87 389.8H45.59V391.7H36.87zM45.59 389.8H54.31V391.7H45.59zM28.15 395.5H36.87V397H28.15zM80.46 395.5H89.18V397H80.46zM89.18 397H97.9V398.9H89.18zM54.31 398.9H63.03V400.8H54.31zM36.87 400.8H45.59V402.7H36.87zM2 406.5H10.72V409H2zM10.72 416.6H19.44V418.5H10.72zM28.15 440H36.87V441.9H28.15zM36.87 440H45.59V441.9H36.87zM28.15 445.5H36.87V447.4H28.15zM45.59 445.5H54.31V447.4H45.59zM45.59 454.8H54.31V456.7H45.59zM45.59 458.6H54.31V460.5H45.59zM19.44 460.5H28.15V462H19.44zM71.75 462H80.46V463.9H71.75zM89.18 462H97.9V463.9H89.18zM19.44 469.9H28.15V471.8H19.44zM19.44 473H28.15V474.9H19.44zM28.15 473H36.87V474.9H28.15zM45.59 474.9H54.31V476.8H45.59zM45.59 479H54.31V480.9H45.59zM71.75 482.8H80.46V484H71.75z"/>
<path fill="#953032" d="M71.75 155H80.46V156.9H71.75zM36.87 169.8H45.59V171.7H36.87zM45.59 173.6H54.31V175.5H45.59zM2 186.5H10.72V188H2zM10.72 197.5H19.44V200H10.72zM10.72 203.8H19.44V205.7H10.72zM10.72 207.6H19.44V209.5H10.72zM28.15 209.5H36.87V211H28.15zM80.46 227.7H89.18V229.6H80.46zM28.15 229.6H36.87V231.5H28.15zM45.59 229.6H54.31V231.5H45.59zM80.46 236.8H89.18V238.7H80.46zM2 238.7H10.72V240.6H2zM80.46 238.7H89.18V240.6H80.46zM28.15 253H36.87V254.9H28.15zM45.59 258.7H54.31V260.6H45.59zM45.59 265H54.31V266.9H45.59zM19.44 266.9H28.15V268.8H19.44zM45.59 277.9H54.31V279.8H45.59zM45.59 279.8H54.31V281.7H45.59zM10.72 281.7H19.44V283.6H10.72zM28.15 285.5H36.87V287H28.15zM10.72 290.8H19.44V292.7H10.72zM80.46 290.8H89.18V292.7H80.46zM28.15 299H36.87V300.9H28.15zM10.72 300.9H19.44V302.8H10.72zM45.59 308.5H54.31V310H45.59zM19.44 311.9H28.15V313.8H19.44zM28.15 319.5H36.87V321H28.15zM80.46 324.8H89.18V326.7H80.46zM36.87 333.9H45.59V335.8H36.87zM89.18 333.9H97.9V335.8H89.18zM19.44 335.8H28.15V337.7H19.44zM89.18 337.7H97.9V339.6H89.18zM2 339.6H10.72V341.5H2zM28.15 339.6H36.87V341.5H28.15zM36.87 341.5H45.59V343H36.87zM45.59 341.5H54.31V343H45.59zM45.59 343H54.31V344.9H45.59zM45.59 346.8H54.31V348.7H45.59zM10.72 353H19.44V354.9H10.72zM89.18 353H97.9V354.9H89.18zM19.44 354.9H28.15V356.8H19.44zM10.72 364.9H19.44V366.8H10.72zM28.15 372.5H36.87V375H28.15zM45.59 376.9H54.31V378.8H45.59zM2 386H10.72V387.9H2zM19.44 386H28.15V387.9H19.44zM36.87 386H45.59V387.9H36.87zM80.46 386H89.18V387.9H80.46zM19.44 398.9H28.15V400.8H19.44zM45.59 402.7H54.31V404.6H45.59zM10.72 404.6H19.44V406.5H10.72zM19.44 406.5H28.15V409H19.44zM45.59 410.9H54.31V412.8H45.59zM36.87 418.5H45.59V420H36.87zM89.18 421.9H97.9V423.8H89.18zM19.44 431H28.15V432.9H19.44zM45.59 438.6H54.31V440H45.59zM45.59 440H54.31V441.9H45.59zM19.44 443.8H28.15V445.5H19.44zM19.44 449.3H28.15V451H19.44zM36.87 460.5H45.59V462H36.87zM54.31 463.9H63.03V465.8H54.31zM89.18 465.8H97.9V468H89.18zM36.87 480.9H45.59V482.8H36.87zM45.59 493.8H54.31V495H45.59z"/>
<path fill="#d7373c" d="M71.75 158.8H80.46V160.7H71.75zM80.46 162.6H89.18V164.5H80.46zM36.87 177H45.59V178.9H36.87zM2 188H10.72V189.9H2zM2 189.9H10.72V191.8H2zM2 197.5H10.72V200H2zM2 222H10.72V223.9H2zM2 225.8H10.72V227.7H2zM36.87 236.8H45.59V238.7H36.87zM10.72 244.9H19.44V246.8H10.72zM45.59 254.9H54.31V256.8H45.59zM89.18 260.6H97.9V262.5H89.18zM28.15 274.5H36.87V276H28.15zM36.87 276H45.59V277.9H36.87zM36.87 277.9H45.59V279.8H36.87zM28.15 279.8H36.87V281.7H28.15zM45.59 287H54.31V288.9H45.59zM36.87 306.6H45.59V308.5H36.87zM2 321H10.72V322.9H2zM2 322.9H10.72V324.8H2zM10.72 330.5H19.44V332H10.72zM89.18 330.5H97.9V332H89.18zM45.59 337.7H54.31V339.6H45.59zM89.18 341.5H97.9V343H89.18zM45.59 344.9H54.31V346.8H45.59zM89.18 346.8H97.9V348.7H89.18zM36.87 348.7H45.59V350.6H36.87zM45.59 364.9H54.31V366.8H45.59zM45.59 370.6H54.31V372.5H45.59zM19.44 391.7H28.15V393.6H19.44zM19.44 400.8H28.15V402.7H19.44zM45.59 400.8H54.31V402.7H45.59zM89.18 406.5H97.9V409H89.18zM19.44 429.5H28.15V431H19.44zM45.59 431H54.31V432.9H45.59zM28.15 447.4H36.87V449.3H28.15zM89.18 458.6H97.9V460.5H89.18zM2 465.8H10.72V468H2zM28.15 479H36.87V480.9H28.15zM45.59 490H54.31V491.9H45.59zM54.31 490H63.03V491.9H54.31zM63.03 490H71.75V491.9H63.03z"/>
<path fill="#3a4931" d="M54.31 162.6H63.03V164.5H54.31zM10.72 171.7H19.44V173.6H10.72zM63.03 177H71.75V178.9H63.03zM19.44 180.8H28.15V182.7H19.44zM80.46 180.8H89.18V182.7H80.46zM54.31 182.7H63.03V184.6H54.31zM89.18 188H97.9V189.9H89.18zM36.87 191.8H45.59V193.7H36.87zM89.18 191.8H97.9V193.7H89.18zM28.15 214.8H36.87V216.7H28.15zM71.75 214.8H80.46V216.7H71.75zM36.87 216.7H45.59V218.6H36.87zM36.87 220.5H45.59V222H36.87zM28.15 227.7H36.87V229.6H28.15zM54.31 227.7H63.03V229.6H54.31zM71.75 229.6H80.46V231.5H71.75zM28.15 234.9H36.87V236.8H28.15zM28.15 236.8H36.87V238.7H28.15zM54.31 240.6H63.03V243H54.31zM89.18 248.7H97.9V250.6H89.18zM45.59 250.6H54.31V253H45.59zM54.31 250.6H63.03V253H54.31zM45.59 253H54.31V254.9H45.59zM80.46 258.7H89.18V260.6H80.46zM71.75 260.6H80.46V262.5H71.75zM54.31 262.5H63.03V265H54.31zM2 265H10.72V266.9H2zM71.75 265H80.46V266.9H71.75zM54.31 270.7H63.03V272.6H54.31zM2 274.5H10.72V276H2zM80.46 277.9H89.18V279.8H80.46zM80.46 279.8H89.18V281.7H80.46zM2 292.7H10.72V294.6H2zM2 306.6H10.72V308.5H2zM80.46 317.6H89.18V319.5H80.46zM80.46 319.5H89.18V321H80.46zM71.75 333.9H80.46V335.8H71.75zM28.15 343H36.87V344.9H28.15zM54.31 348.7H63.03V350.6H54.31zM80.46 350.6H89.18V353H80.46zM54.31 354.9H63.03V356.8H54.31zM80.46 356.8H89.18V358.7H80.46zM36.87 375H45.59V376.9H36.87zM28.15 376.9H36.87V378.8H28.15zM10.72 378.8H19.44V380.7H10.72zM36.87 393.6H45.59V395.5H36.87zM54.31 397H63.03V398.9H54.31zM10.72 409H19.44V410.9H10.72zM2 412.8H10.72V414.7H2zM28.15 418.5H36.87V420H28.15zM10.72 420H19.44V421.9H10.72zM80.46 420H89.18V421.9H80.46zM71.75 423.8H80.46V425.7H71.75zM54.31 425.7H63.03V427.6H54.31zM28.15 460.5H36.87V462H28.15zM71.75 463.9H80.46V465.8H71.75zM2 468H10.72V469.9H2zM19.44 468H28.15V469.9H19.44zM28.15 468H36.87V469.9H28.15zM63.03 471.8H71.75V473H63.03zM89.18 473H97.9V474.9H89.18zM89.18 474.9H97.9V476.8H89.18zM54.31 479H63.03V480.9H54.31zM10.72 480.9H19.44V482.8H10.72zM89.18 484H97.9V485.9H89.18zM89.18 491.9H97.9V493.8H89.18zM71.75 493.8H80.46V495H71.75z"/>
<path fill="#8c96a0" d="M80.46 178.9H89.18V180.8H80.46zM10.72 209.5H19.44V211H10.72zM54.31 209.5H63.03V211H54.31zM36.87 250.6H45.59V253H36.87zM71.75 262.5H80.46V265H71.75zM45.59 304.7H54.31V306.6H45.59zM36.87 479H45.59V480.9H36.87z"/>
<path fill="#64ac58" d="M130.3 71H140.05V72.45H130.3zM159.54 71H169.28V72.45H159.54zM159.54 73.9H169.28V75.35H159.54zM130.3 78.25H140.05V79.7H130.3zM188.77 81H198.52V82.45H188.77zM198.52 81H208.26V82.45H198.52zM198.52 83.9H208.26V85.35H198.52zM198.52 85.35H208.26V86.8H198.52zM198.52 86.8H208.26V88.25H198.52zM208.26 90H218.01V91.45H208.26zM227.75 91.45H237.5V92.9H227.75zM198.52 92.9H208.26V94.35H198.52zM188.77 94.35H198.52V95.8H188.77zM208.26 95.8H218.01V97.25H208.26zM208.26 98.7H218.01V100H208.26zM208.26 100H218.01V101.45H208.26zM208.26 102.9H218.01V104.35H208.26zM188.77 104.35H198.52V105.8H188.77zM227.75 104.35H237.5V105.8H227.75zM198.52 107.25H208.26V108.7H198.52zM208.26 108.7H218.01V110H208.26zM227.75 108.7H237.5V110H227.75zM198.52 111.45H208.26V112.9H198.52zM227.75 111.45H237.5V112.9H227.75zM198.52 112.9H208.26V114.35H198.52zM227.75 112.9H237.5V114.35H227.75zM198.52 115.8H208.26V117.25H198.52zM227.75 115.8H237.5V117.25H227.75zM198.52 117.25H208.26V118.7H198.52zM227.75 118.7H237.5V120H227.75zM188.77 120H198.52V121.45H188.77zM218.01 120H227.75V121.45H218.01zM208.26 121.45H218.01V122.9H208.26zM227.75 122.9H237.5V124.35H227.75zM227.75 125.8H237.5V127.25H227.75zM198.52 127.25H208.26V128.7H198.52zM208.26 130.15H218.01V131H208.26zM218.01 130.15H227.75V131H218.01zM208.26 132.45H218.01V133.9H208.26zM188.77 135.35H198.52V136.8H188.77zM198.52 136.8H208.26V138.25H198.52zM188.77 138.25H198.52V139.7H188.77zM198.52 138.25H208.26V139.7H198.52zM208.26 138.25H218.01V139.7H208.26zM198.52 139.7H208.26V141H198.52zM208.26 139.7H218.01V141H208.26zM208.26 141H218.01V142.45H208.26zM218.01 143.9H227.75V145.35H218.01zM188.77 145.35H198.52V146.8H188.77zM198.52 145.35H208.26V146.8H198.52zM198.52 148.25H208.26V149.7H198.52zM188.77 149.7H198.52V151H188.77zM198.52 149.7H208.26V151H198.52zM188.77 152.45H198.52V153.9H188.77zM198.52 156.8H208.26V158.25H198.52zM208.26 161H218.01V162.45H208.26zM198.52 162.45H208.26V163.9H198.52zM188.77 163.9H198.52V165.35H188.77zM198.52 163.9H208.26V165.35H198.52zM198.52 166.8H208.26V168H198.52zM218.01 168H227.75V169.45H218.01zM198.52 169.45H208.26V170.9H198.52zM218.01 169.45H227.75V170.9H218.01zM198.52 170.9H208.26V172.35H198.52zM198.52 173.8H208.26V175.25H198.52zM218.01 173.8H227.75V175.25H218.01zM218.01 175.25H227.75V176H218.01zM198.52 177.45H208.26V178.9H198.52zM208.26 181.8H218.01V183.25H208.26zM218.01 183.25H227.75V184.7H218.01zM208.26 184.7H218.01V186H208.26zM188.77 187.45H198.52V188.9H188.77zM208.26 187.45H218.01V188.9H208.26zM149.79 188.9H159.54V190.35H149.79zM188.77 188.9H198.52V190.35H188.77zM198.52 188.9H208.26V190.35H198.52zM208.26 190.35H218.01V191.8H208.26zM208.26 191.8H218.01V193.25H208.26zM208.26 194.7H218.01V196H208.26zM218.01 194.7H227.75V196H218.01zM198.52 196H208.26V197.45H198.52zM198.52 198.9H208.26V200.35H198.52zM208.26 200.35H218.01V201.8H208.26zM208.26 204.7H218.01V206H208.26zM218.01 204.7H227.75V206H218.01zM198.52 210.35H208.26V211.8H198.52zM198.52 213.25H208.26V214.7H198.52zM198.52 214.7H208.26V216.5H198.52zM208.26 214.7H218.01V216.5H208.26zM198.52 217.95H208.26V219.4H198.52zM198.52 220.85H208.26V222.3H198.52zM198.52 222.3H208.26V223.75H198.52zM208.26 223.75H218.01V225.2H208.26zM198.52 225.2H208.26V226.6H198.52zM198.52 226.6H208.26V228.05H198.52zM198.52 228.05H208.26V229.5H198.52zM198.52 232.4H208.26V233.85H198.52zM188.77 238.15H198.52V239.6H188.77zM198.52 238.15H208.26V239.6H198.52zM188.77 241.05H198.52V242.5H188.77zM188.77 246.8H198.52V248.25H188.77zM198.52 246.8H208.26V248.25H198.52zM208.26 246.8H218.01V248.25H208.26zM208.26 251.15H218.01V252.6H208.26zM208.26 252.6H218.01V254.05H208.26zM198.52 254.05H208.26V255.5H198.52zM188.77 255.5H198.52V257H188.77zM208.26 255.5H218.01V257H208.26zM208.26 257H218.01V258.45H208.26zM218.01 257H227.75V258.45H218.01zM208.26 258.45H218.01V259.9H208.26zM208.26 262.8H218.01V264H208.26zM218.01 262.8H227.75V264H218.01zM198.52 264H208.26V265.45H198.52zM198.52 266.9H208.26V268.35H198.52zM208.26 266.9H218.01V268.35H208.26zM208.26 268.35H218.01V269.8H208.26zM198.52 269.8H208.26V271.25H198.52zM198.52 271.25H208.26V272.7H198.52zM208.26 274.15H218.01V275H208.26zM188.77 276.45H198.52V277.9H188.77zM208.26 276.45H218.01V277.9H208.26zM188.77 280.8H198.52V282.25H188.77zM198.52 282.25H208.26V283.7H198.52zM208.26 282.25H218.01V283.7H208.26zM188.77 285.15H198.52V286H188.77zM198.52 285.15H208.26V286H198.52zM198.52 286H208.26V287.45H198.52zM208.26 286H218.01V287.45H208.26zM208.26 288.9H218.01V290.35H208.26zM198.52 290.35H208.26V291.8H198.52zM208.26 290.35H218.01V291.8H208.26zM208.26 291.8H218.01V293.25H208.26zM208.26 293.25H218.01V294.7H208.26zM188.77 294.7H198.52V296.15H188.77zM198.52 294.7H208.26V296.15H198.52zM198.52 297H208.26V298.45H198.52zM208.26 297H218.01V298.45H208.26zM198.52 299.9H208.26V301.35H198.52zM208.26 299.9H218.01V301.35H208.26zM218.01 299.9H227.75V301.35H218.01zM198.52 301.35H208.26V302.8H198.52zM198.52 302.8H208.26V304.25H198.52zM208.26 302.8H218.01V304.25H208.26zM208.26 304.25H218.01V305.7H208.26zM198.52 305.7H208.26V307.15H198.52zM208.26 307.15H218.01V308H208.26zM198.52 308H208.26V309.45H198.52zM188.77 309.45H198.52V310.9H188.77zM198.52 312.35H208.26V313.8H198.52zM188.77 313.8H198.52V315.25H188.77zM198.52 313.8H208.26V315.25H198.52zM188.77 315.25H198.52V316.7H188.77zM208.26 316.7H218.01V318.15H208.26zM208.26 318.15H218.01V320H208.26zM208.26 320H218.01V321.45H208.26zM188.77 321.45H198.52V322.9H188.77zM198.52 321.45H208.26V322.9H198.52zM208.26 321.45H218.01V322.9H208.26zM198.52 322.9H208.26V324.35H198.52zM188.77 324.35H198.52V325.8H188.77zM208.26 324.35H218.01V325.8H208.26zM208.26 327.25H218.01V328.7H208.26zM188.77 330.15H198.52V331H188.77zM198.52 330.15H208.26V331H198.52zM198.52 331H208.26V332.45H198.52zM188.77 335.35H198.52V336.8H188.77zM198.52 335.35H208.26V336.8H198.52zM198.52 342H208.26V343.45H198.52zM208.26 344.9H218.01V346.35H208.26zM188.77 346.35H198.52V347.8H188.77zM188.77 352.15H198.52V353H188.77zM208.26 353H218.01V354.45H208.26zM198.52 354.45H208.26V355.9H198.52zM208.26 355.9H218.01V357.35H208.26zM188.77 358.8H198.52V360.25H188.77zM218.01 358.8H227.75V360.25H218.01zM208.26 360.25H218.01V361.7H208.26zM198.52 361.7H208.26V363.15H198.52zM198.52 365.45H208.26V366.9H198.52zM198.52 366.9H208.26V368.35H198.52zM218.01 368.35H227.75V369.8H218.01zM198.52 369.8H208.26V371.25H198.52zM188.77 371.25H198.52V372.5H188.77zM198.52 371.25H208.26V372.5H198.52z"/>
<path fill="#55884a" d="M140.05 71H149.79V72.45H140.05zM159.54 72.45H169.28V73.9H159.54zM179.03 75.35H188.77V76.8H179.03zM227.75 76.8H237.5V78.25H227.75zM130.3 79.7H140.05V81H130.3zM208.26 86.8H218.01V88.25H208.26zM198.52 98.7H208.26V100H198.52zM227.75 98.7H237.5V100H227.75zM198.52 100H208.26V101.45H198.52zM188.77 102.9H198.52V104.35H188.77zM208.26 107.25H218.01V108.7H208.26zM227.75 107.25H237.5V108.7H227.75zM198.52 114.35H208.26V115.8H198.52zM227.75 114.35H237.5V115.8H227.75zM198.52 120H208.26V121.45H198.52zM198.52 121.45H208.26V122.9H198.52zM208.26 125.8H218.01V127.25H208.26zM218.01 125.8H227.75V127.25H218.01zM198.52 128.7H208.26V130.15H198.52zM208.26 128.7H218.01V130.15H208.26zM198.52 130.15H208.26V131H198.52zM208.26 135.35H218.01V136.8H208.26zM218.01 136.8H227.75V138.25H218.01zM188.77 139.7H198.52V141H188.77zM198.52 142.45H208.26V143.9H198.52zM198.52 143.9H208.26V145.35H198.52zM159.54 152.45H169.28V153.9H159.54zM198.52 153.9H208.26V155.35H198.52zM218.01 170.9H227.75V172.35H218.01zM208.26 177.45H218.01V178.9H208.26zM188.77 178.9H198.52V180.35H188.77zM188.77 181.8H198.52V183.25H188.77zM227.75 188.9H237.5V190.35H227.75zM188.77 194.7H198.52V196H188.77zM208.26 196H218.01V197.45H208.26zM198.52 197.45H208.26V198.9H198.52zM227.75 203.25H237.5V204.7H227.75zM218.01 207.45H227.75V208.9H218.01zM208.26 241.05H218.01V242.5H208.26zM188.77 242.5H198.52V243.95H188.77zM188.77 245.4H198.52V246.8H188.77zM208.26 245.4H218.01V246.8H208.26zM188.77 252.6H198.52V254.05H188.77zM198.52 252.6H208.26V254.05H198.52zM218.01 254.05H227.75V255.5H218.01zM130.3 275H140.05V276.45H130.3zM198.52 275H208.26V276.45H198.52zM188.77 282.25H198.52V283.7H188.77zM208.26 283.7H218.01V285.15H208.26zM198.52 287.45H208.26V288.9H198.52zM218.01 290.35H227.75V291.8H218.01zM218.01 294.7H227.75V296.15H218.01zM208.26 296.15H218.01V297H208.26zM198.52 298.45H208.26V299.9H198.52zM208.26 310.9H218.01V312.35H208.26zM188.77 325.8H198.52V327.25H188.77zM198.52 328.7H208.26V330.15H198.52zM208.26 335.35H218.01V336.8H208.26zM218.01 339.7H227.75V341.15H218.01zM218.01 341.15H227.75V342H218.01zM208.26 352.15H218.01V353H208.26zM198.52 358.8H208.26V360.25H198.52zM218.01 361.7H227.75V363.15H218.01zM198.52 363.15H208.26V364H198.52zM208.26 364H218.01V365.45H208.26zM188.77 369.8H198.52V371.25H188.77zM218.01 371.25H227.75V372.5H218.01z"/>
<path fill="#60a354" d="M149.79 71H159.54V72.45H149.79zM149.79 72.45H159.54V73.9H149.79zM169.28 76.8H179.03V78.25H169.28zM198.52 82.45H208.26V83.9H198.52zM208.26 82.45H218.01V83.9H208.26zM208.26 91.45H218.01V92.9H208.26zM227.75 94.35H237.5V95.8H227.75zM198.52 95.8H208.26V97.25H198.52zM198.52 104.35H208.26V105.8H198.52zM208.26 105.8H218.01V107.25H208.26zM188.77 108.7H198.52V110H188.77zM208.26 110H218.01V111.45H208.26zM208.26 118.7H218.01V120H208.26zM218.01 122.9H227.75V124.35H218.01zM208.26 124.35H218.01V125.8H208.26zM208.26 127.25H218.01V128.7H208.26zM218.01 128.7H227.75V130.15H218.01zM218.01 132.45H227.75V133.9H218.01zM218.01 158.25H227.75V159.7H218.01zM188.77 159.7H198.52V161H188.77zM198.52 161H208.26V162.45H198.52zM218.01 161H227.75V162.45H218.01zM208.26 175.25H218.01V176H208.26zM198.52 181.8H208.26V183.25H198.52zM198.52 191.8H208.26V193.25H198.52zM208.26 193.25H218.01V194.7H208.26zM198.52 194.7H208.26V196H198.52zM218.01 200.35H227.75V201.8H218.01zM227.75 201.8H237.5V203.25H227.75zM208.26 206H218.01V207.45H208.26zM198.52 208.9H208.26V210.35H198.52zM198.52 236.7H208.26V238.15H198.52zM208.26 243.95H218.01V245.4H208.26zM198.52 249.7H208.26V251.15H198.52zM208.26 249.7H218.01V251.15H208.26zM198.52 255.5H208.26V257H198.52zM198.52 268.35H208.26V269.8H198.52zM208.26 275H218.01V276.45H208.26zM198.52 276.45H208.26V277.9H198.52zM218.01 277.9H227.75V279.35H218.01zM198.52 279.35H208.26V280.8H198.52zM188.77 283.7H198.52V285.15H188.77zM198.52 293.25H208.26V294.7H198.52zM218.01 298.45H227.75V299.9H218.01zM208.26 301.35H218.01V302.8H208.26zM218.01 309.45H227.75V310.9H218.01zM188.77 316.7H198.52V318.15H188.77zM188.77 320H198.52V321.45H188.77zM198.52 320H208.26V321.45H198.52zM208.26 322.9H218.01V324.35H208.26zM198.52 333.9H208.26V335.35H198.52zM198.52 336.8H208.26V338.25H198.52zM198.52 339.7H208.26V341.15H198.52zM208.26 346.35H218.01V347.8H208.26zM198.52 349.25H208.26V350.7H198.52zM188.77 353H198.52V354.45H188.77zM188.77 357.35H198.52V358.8H188.77zM188.77 361.7H198.52V363.15H188.77z"/>
<path fill="#517f46" d="M169.28 71H179.03V72.45H169.28zM130.3 73.9H140.05V75.35H130.3zM140.05 75.35H149.79V76.8H140.05zM149.79 78.25H159.54V79.7H149.79zM198.52 88.25H208.26V90H198.52zM208.26 88.25H218.01V90H208.26zM218.01 91.45H227.75V92.9H218.01zM218.01 92.9H227.75V94.35H218.01zM218.01 95.8H227.75V97.25H218.01zM218.01 97.25H227.75V98.7H218.01zM140.05 101.45H149.79V102.9H140.05zM218.01 110H227.75V111.45H218.01zM208.26 112.9H218.01V114.35H208.26zM198.52 118.7H208.26V120H198.52zM218.01 118.7H227.75V120H218.01zM208.26 120H218.01V121.45H208.26zM188.77 131H198.52V132.45H188.77zM188.77 132.45H198.52V133.9H188.77zM188.77 133.9H198.52V135.35H188.77zM188.77 136.8H198.52V138.25H188.77zM188.77 155.35H198.52V156.8H188.77zM218.01 155.35H227.75V156.8H218.01zM188.77 156.8H198.52V158.25H188.77zM208.26 159.7H218.01V161H208.26zM208.26 176H218.01V177.45H208.26zM218.01 176H227.75V177.45H218.01zM208.26 178.9H218.01V180.35H208.26zM198.52 183.25H208.26V184.7H198.52zM208.26 183.25H218.01V184.7H208.26zM188.77 200.35H198.52V201.8H188.77zM208.26 210.35H218.01V211.8H208.26zM198.52 211.8H208.26V213.25H198.52zM208.26 211.8H218.01V213.25H208.26zM208.26 213.25H218.01V214.7H208.26zM208.26 222.3H218.01V223.75H208.26zM218.01 222.3H227.75V223.75H218.01zM188.77 223.75H198.52V225.2H188.77zM188.77 226.6H198.52V228.05H188.77zM208.26 233.85H218.01V235.3H208.26zM208.26 238.15H218.01V239.6H208.26zM188.77 239.6H198.52V241.05H188.77zM208.26 239.6H218.01V241.05H208.26zM218.01 241.05H227.75V242.5H218.01zM198.52 242.5H208.26V243.95H198.52zM218.01 245.4H227.75V246.8H218.01zM188.77 254.05H198.52V255.5H188.77zM218.01 255.5H227.75V257H218.01zM188.77 257H198.52V258.45H188.77zM218.01 258.45H227.75V259.9H218.01zM188.77 259.9H198.52V261.35H188.77zM218.01 261.35H227.75V262.8H218.01zM198.52 272.7H208.26V274.15H198.52zM198.52 274.15H208.26V275H198.52zM188.77 277.9H198.52V279.35H188.77zM188.77 279.35H198.52V280.8H188.77zM188.77 287.45H198.52V288.9H188.77zM198.52 296.15H208.26V297H198.52zM208.26 298.45H218.01V299.9H208.26zM218.01 304.25H227.75V305.7H218.01zM218.01 305.7H227.75V307.15H218.01zM198.52 318.15H208.26V320H198.52zM188.77 327.25H198.52V328.7H188.77zM198.52 338.25H208.26V339.7H198.52zM198.52 344.9H208.26V346.35H198.52zM198.52 347.8H208.26V349.25H198.52zM198.52 353H208.26V354.45H198.52zM188.77 354.45H198.52V355.9H188.77zM208.26 354.45H218.01V355.9H208.26zM208.26 371.25H218.01V372.5H208.26z"/>
<path fill="#46643c" d="M179.03 71H188.77V72.45H179.03zM159.54 75.35H169.28V76.8H159.54zM159.54 79.7H169.28V81H159.54zM149.79 81H159.54V82.45H149.79zM218.01 86.8H227.75V88.25H218.01zM198.52 90H208.26V91.45H198.52zM218.01 90H227.75V91.45H218.01zM227.75 95.8H237.5V97.25H227.75zM227.75 97.25H237.5V98.7H227.75zM149.79 98.7H159.54V100H149.79zM227.75 101.45H237.5V102.9H227.75zM227.75 102.9H237.5V104.35H227.75zM198.52 110H208.26V111.45H198.52zM140.05 125.8H149.79V127.25H140.05zM188.77 125.8H198.52V127.25H188.77zM188.77 127.25H198.52V128.7H188.77zM227.75 130.15H237.5V131H227.75zM218.01 139.7H227.75V141H218.01zM188.77 141H198.52V142.45H188.77zM208.26 143.9H218.01V145.35H208.26zM218.01 153.9H227.75V155.35H218.01zM198.52 155.35H208.26V156.8H198.52zM227.75 155.35H237.5V156.8H227.75zM188.77 161H198.52V162.45H188.77zM208.26 162.45H218.01V163.9H208.26zM208.26 165.35H218.01V166.8H208.26zM188.77 166.8H198.52V168H188.77zM208.26 168H218.01V169.45H208.26zM198.52 172.35H208.26V173.8H198.52zM218.01 172.35H227.75V173.8H218.01zM179.03 184.7H188.77V186H179.03zM198.52 186H208.26V187.45H198.52zM218.01 190.35H227.75V191.8H218.01zM149.79 194.7H159.54V196H149.79zM169.28 196H179.03V197.45H169.28zM169.28 200.35H179.03V201.8H169.28zM208.26 201.8H218.01V203.25H208.26zM188.77 203.25H198.52V204.7H188.77zM208.26 203.25H218.01V204.7H208.26zM198.52 219.4H208.26V220.85H198.52zM188.77 225.2H198.52V226.6H188.77zM159.54 229.5H169.28V230.95H159.54zM149.79 232.4H159.54V233.85H149.79zM188.77 236.7H198.52V238.15H188.77zM218.01 238.15H227.75V239.6H218.01zM218.01 239.6H227.75V241.05H218.01zM218.01 242.5H227.75V243.95H218.01zM188.77 243.95H198.52V245.4H188.77zM169.28 248.25H179.03V249.7H169.28zM130.3 249.7H140.05V251.15H130.3zM218.01 251.15H227.75V252.6H218.01zM218.01 259.9H227.75V261.35H218.01zM188.77 261.35H198.52V262.8H188.77zM188.77 262.8H198.52V264H188.77zM198.52 262.8H208.26V264H198.52zM208.26 269.8H218.01V271.25H208.26zM188.77 274.15H198.52V275H188.77zM227.75 285.15H237.5V286H227.75zM130.3 290.35H140.05V291.8H130.3zM188.77 290.35H198.52V291.8H188.77zM140.05 297H149.79V298.45H140.05zM188.77 305.7H198.52V307.15H188.77zM130.3 312.35H140.05V313.8H130.3zM208.26 315.25H218.01V316.7H208.26zM218.01 315.25H227.75V316.7H218.01zM169.28 327.25H179.03V328.7H169.28zM208.26 330.15H218.01V331H208.26zM188.77 331H198.52V332.45H188.77zM130.3 332.45H140.05V333.9H130.3zM208.26 333.9H218.01V335.35H208.26zM130.3 336.8H140.05V338.25H130.3zM208.26 339.7H218.01V341.15H208.26zM188.77 342H198.52V343.45H188.77zM188.77 350.7H198.52V352.15H188.77zM218.01 350.7H227.75V352.15H218.01zM218.01 352.15H227.75V353H218.01zM198.52 357.35H208.26V358.8H198.52zM227.75 358.8H237.5V360.25H227.75zM218.01 364H227.75V365.45H218.01z"/>
<path fill="#7b2e2f" d="M188.77 71H198.52V72.45H188.77zM208.26 71H218.01V72.45H208.26zM198.52 75.35H208.26V76.8H198.52zM188.77 79.7H198.52V81H188.77zM179.03 81H188.77V82.45H179.03zM140.05 91.45H149.79V92.9H140.05zM179.03 100H188.77V101.45H179.03zM159.54 101.45H169.28V102.9H159.54zM179.03 101.45H188.77V102.9H179.03zM218.01 101.45H227.75V102.9H218.01zM140.05 108.7H149.79V110H140.05zM140.05 110H149.79V111.45H140.05zM149.79 110H159.54V111.45H149.79zM140.05 114.35H149.79V115.8H140.05zM169.28 124.35H179.03V125.8H169.28zM149.79 131H159.54V132.45H149.79zM169.28 131H179.03V132.45H169.28zM169.28 133.9H179.03V135.35H169.28zM149.79 135.35H159.54V136.8H149.79zM130.3 136.8H140.05V138.25H130.3zM159.54 145.35H169.28V146.8H159.54zM179.03 146.8H188.77V148.25H179.03zM140.05 149.7H149.79V151H140.05zM169.28 149.7H179.03V151H169.28zM159.54 155.35H169.28V156.8H159.54zM159.54 156.8H169.28V158.25H159.54zM169.28 158.25H179.03V159.7H169.28zM169.28 162.45H179.03V163.9H169.28zM140.05 163.9H149.79V165.35H140.05zM169.28 168H179.03V169.45H169.28zM159.54 170.9H169.28V172.35H159.54zM169.28 170.9H179.03V172.35H169.28zM227.75 172.35H237.5V173.8H227.75zM140.05 175.25H149.79V176H140.05zM140.05 181.8H149.79V183.25H140.05zM159.54 183.25H169.28V184.7H159.54zM159.54 186H169.28V187.45H159.54zM169.28 190.35H179.03V191.8H169.28zM130.3 193.25H140.05V194.7H130.3zM159.54 196H169.28V197.45H159.54zM140.05 197.45H149.79V198.9H140.05zM159.54 197.45H169.28V198.9H159.54zM179.03 197.45H188.77V198.9H179.03zM130.3 198.9H140.05V200.35H130.3zM149.79 200.35H159.54V201.8H149.79zM149.79 204.7H159.54V206H149.79zM159.54 207.45H169.28V208.9H159.54zM130.3 208.9H140.05V210.35H130.3zM140.05 216.5H149.79V217.95H140.05zM179.03 217.95H188.77V219.4H179.03zM227.75 217.95H237.5V219.4H227.75zM159.54 222.3H169.28V223.75H159.54zM169.28 222.3H179.03V223.75H169.28zM227.75 230.95H237.5V232.4H227.75zM179.03 235.3H188.77V236.7H179.03zM169.28 236.7H179.03V238.15H169.28zM140.05 239.6H149.79V241.05H140.05zM140.05 241.05H149.79V242.5H140.05zM179.03 243.95H188.77V245.4H179.03zM169.28 246.8H179.03V248.25H169.28zM140.05 248.25H149.79V249.7H140.05zM159.54 251.15H169.28V252.6H159.54zM169.28 251.15H179.03V252.6H169.28zM179.03 254.05H188.77V255.5H179.03zM149.79 258.45H159.54V259.9H149.79zM169.28 259.9H179.03V261.35H169.28zM227.75 268.35H237.5V269.8H227.75zM179.03 271.25H188.77V272.7H179.03zM227.75 271.25H237.5V272.7H227.75zM149.79 274.15H159.54V275H149.79zM159.54 274.15H169.28V275H159.54zM227.75 274.15H237.5V275H227.75zM169.28 287.45H179.03V288.9H169.28zM179.03 287.45H188.77V288.9H179.03zM169.28 293.25H179.03V294.7H169.28zM159.54 299.9H169.28V301.35H159.54zM169.28 301.35H179.03V302.8H169.28zM149.79 302.8H159.54V304.25H149.79zM179.03 302.8H188.77V304.25H179.03zM227.75 302.8H237.5V304.25H227.75zM149.79 304.25H159.54V305.7H149.79zM159.54 304.25H169.28V305.7H159.54zM159.54 310.9H169.28V312.35H159.54zM227.75 310.9H237.5V312.35H227.75zM159.54 315.25H169.28V316.7H159.54zM227.75 325.8H237.5V327.25H227.75zM159.54 332.45H169.28V333.9H159.54zM149.79 333.9H159.54V335.35H149.79zM149.79 339.7H159.54V341.15H149.79zM188.77 339.7H198.52V341.15H188.77zM179.03 341.15H188.77V342H179.03zM159.54 342H169.28V343.45H159.54zM179.03 342H188.77V343.45H179.03zM130.3 344.9H140.05V346.35H130.3zM179.03 344.9H188.77V346.35H179.03zM130.3 346.35H140.05V347.8H130.3zM179.03 349.25H188.77V350.7H179.03zM179.03 353H188.77V354.45H179.03zM227.75 353H237.5V354.45H227.75zM227.75 354.45H237.5V355.9H227.75zM130.3 355.9H140.05V357.35H130.3zM227.75 357.35H237.5V358.8H227.75zM149.79 358.8H159.54V360.25H149.79zM130.3 360.25H140.05V361.7H130.3zM169.28 360.25H179.03V361.7H169.28zM227.75 363.15H237.5V364H227.75zM140.05 365.45H149.79V366.9H140.05zM179.03 365.45H188.77V366.9H179.03zM169.28 366.9H179.03V368.35H169.28zM179.03 368.35H188.77V369.8H179.03zM149.79 371.25H159.54V372.5H149.79z"/>
<path fill="#f23a40" d="M198.52 71H208.26V72.45H198.52zM208.26 75.35H218.01V76.8H208.26zM188.77 78.25H198.52V79.7H188.77zM218.01 78.25H227.75V79.7H218.01zM159.54 90H169.28V91.45H159.54zM179.03 92.9H188.77V94.35H179.03zM159.54 97.25H169.28V98.7H159.54zM130.3 101.45H140.05V102.9H130.3zM130.3 108.7H140.05V110H130.3zM130.3 132.45H140.05V133.9H130.3zM130.3 133.9H140.05V135.35H130.3zM179.03 133.9H188.77V135.35H179.03zM169.28 136.8H179.03V138.25H169.28zM179.03 136.8H188.77V138.25H179.03zM130.3 138.25H140.05V139.7H130.3zM130.3 143.9H140.05V145.35H130.3zM140.05 170.9H149.79V172.35H140.05zM169.28 173.8H179.03V175.25H169.28zM179.03 173.8H188.77V175.25H179.03zM159.54 177.45H169.28V178.9H159.54zM130.3 186H140.05V187.45H130.3zM130.3 190.35H140.05V191.8H130.3zM130.3 191.8H140.05V193.25H130.3zM149.79 211.8H159.54V213.25H149.79zM179.03 257H188.77V258.45H179.03zM179.03 259.9H188.77V261.35H179.03zM159.54 264H169.28V265.45H159.54zM159.54 269.8H169.28V271.25H159.54zM179.03 275H188.77V276.45H179.03zM140.05 276.45H149.79V277.9H140.05zM149.79 276.45H159.54V277.9H149.79zM140.05 279.35H149.79V280.8H140.05zM149.79 283.7H159.54V285.15H149.79zM227.75 288.9H237.5V290.35H227.75zM227.75 304.25H237.5V305.7H227.75zM140.05 308H149.79V309.45H140.05zM227.75 313.8H237.5V315.25H227.75zM227.75 316.7H237.5V318.15H227.75zM179.03 321.45H188.77V322.9H179.03zM149.79 325.8H159.54V327.25H149.79zM179.03 328.7H188.77V330.15H179.03z"/>
<path fill="#602b2b" d="M218.01 71H227.75V72.45H218.01zM208.26 78.25H218.01V79.7H208.26zM130.3 85.35H140.05V86.8H130.3zM130.3 88.25H140.05V90H130.3zM149.79 88.25H159.54V90H149.79zM159.54 88.25H169.28V90H159.54zM169.28 92.9H179.03V94.35H169.28zM149.79 97.25H159.54V98.7H149.79zM140.05 98.7H149.79V100H140.05zM159.54 102.9H169.28V104.35H159.54zM179.03 111.45H188.77V112.9H179.03zM130.3 115.8H140.05V117.25H130.3zM179.03 118.7H188.77V120H179.03zM218.01 127.25H227.75V128.7H218.01zM159.54 128.7H169.28V130.15H159.54zM179.03 130.15H188.77V131H179.03zM149.79 133.9H159.54V135.35H149.79zM149.79 141H159.54V142.45H149.79zM159.54 142.45H169.28V143.9H159.54zM227.75 145.35H237.5V146.8H227.75zM227.75 148.25H237.5V149.7H227.75zM140.05 151H149.79V152.45H140.05zM130.3 159.7H140.05V161H130.3zM227.75 159.7H237.5V161H227.75zM159.54 162.45H169.28V163.9H159.54zM149.79 163.9H159.54V165.35H149.79zM179.03 165.35H188.77V166.8H179.03zM149.79 169.45H159.54V170.9H149.79zM179.03 170.9H188.77V172.35H179.03zM227.75 173.8H237.5V175.25H227.75zM149.79 175.25H159.54V176H149.79zM130.3 176H140.05V177.45H130.3zM140.05 176H149.79V177.45H140.05zM179.03 178.9H188.77V180.35H179.03zM140.05 180.35H149.79V181.8H140.05zM169.28 183.25H179.03V184.7H169.28zM159.54 184.7H169.28V186H159.54zM169.28 186H179.03V187.45H169.28zM179.03 187.45H188.77V188.9H179.03zM159.54 191.8H169.28V193.25H159.54zM130.3 196H140.05V197.45H130.3zM179.03 196H188.77V197.45H179.03zM159.54 198.9H169.28V200.35H159.54zM188.77 201.8H198.52V203.25H188.77zM140.05 203.25H149.79V204.7H140.05zM149.79 206H159.54V207.45H149.79zM227.75 206H237.5V207.45H227.75zM159.54 208.9H169.28V210.35H159.54zM179.03 211.8H188.77V213.25H179.03zM159.54 217.95H169.28V219.4H159.54zM179.03 219.4H188.77V220.85H179.03zM159.54 223.75H169.28V225.2H159.54zM149.79 225.2H159.54V226.6H149.79zM159.54 225.2H169.28V226.6H159.54zM159.54 226.6H169.28V228.05H159.54zM130.3 228.05H140.05V229.5H130.3zM179.03 230.95H188.77V232.4H179.03zM227.75 233.85H237.5V235.3H227.75zM149.79 236.7H159.54V238.15H149.79zM179.03 236.7H188.77V238.15H179.03zM159.54 238.15H169.28V239.6H159.54zM159.54 241.05H169.28V242.5H159.54zM169.28 242.5H179.03V243.95H169.28zM179.03 245.4H188.77V246.8H179.03zM218.01 248.25H227.75V249.7H218.01zM179.03 255.5H188.77V257H179.03zM159.54 258.45H169.28V259.9H159.54zM159.54 259.9H169.28V261.35H159.54zM130.3 261.35H140.05V262.8H130.3zM149.79 266.9H159.54V268.35H149.79zM218.01 266.9H227.75V268.35H218.01zM169.28 268.35H179.03V269.8H169.28zM169.28 269.8H179.03V271.25H169.28zM179.03 269.8H188.77V271.25H179.03zM140.05 271.25H149.79V272.7H140.05zM169.28 271.25H179.03V272.7H169.28zM179.03 272.7H188.77V274.15H179.03zM227.75 279.35H237.5V280.8H227.75zM159.54 283.7H169.28V285.15H159.54zM179.03 285.15H188.77V286H179.03zM140.05 291.8H149.79V293.25H140.05zM140.05 293.25H149.79V294.7H140.05zM159.54 294.7H169.28V296.15H159.54zM130.3 297H140.05V298.45H130.3zM227.75 312.35H237.5V313.8H227.75zM149.79 313.8H159.54V315.25H149.79zM169.28 316.7H179.03V318.15H169.28zM140.05 320H149.79V321.45H140.05zM159.54 320H169.28V321.45H159.54zM169.28 320H179.03V321.45H169.28zM130.3 322.9H140.05V324.35H130.3zM159.54 324.35H169.28V325.8H159.54zM227.75 328.7H237.5V330.15H227.75zM130.3 330.15H140.05V331H130.3zM179.03 331H188.77V332.45H179.03zM218.01 333.9H227.75V335.35H218.01zM179.03 338.25H188.77V339.7H179.03zM130.3 343.45H140.05V344.9H130.3zM159.54 343.45H169.28V344.9H159.54zM149.79 346.35H159.54V347.8H149.79zM227.75 347.8H237.5V349.25H227.75zM130.3 350.7H140.05V352.15H130.3zM159.54 350.7H169.28V352.15H159.54zM130.3 363.15H140.05V364H130.3zM169.28 363.15H179.03V364H169.28zM130.3 364H140.05V365.45H130.3zM159.54 365.45H169.28V366.9H159.54z"/>
<path fill="#4d7643" d="M227.75 71H237.5V72.45H227.75zM169.28 72.45H179.03V73.9H169.28zM149.79 73.9H159.54V75.35H149.79zM140.05 79.7H149.79V81H140.05zM208.26 81H218.01V82.45H208.26zM227.75 81H237.5V82.45H227.75zM188.77 85.35H198.52V86.8H188.77zM188.77 88.25H198.52V90H188.77zM218.01 94.35H227.75V95.8H218.01zM188.77 115.8H198.52V117.25H188.77zM218.01 121.45H227.75V122.9H218.01zM208.26 122.9H218.01V124.35H208.26zM198.52 124.35H208.26V125.8H198.52zM149.79 128.7H159.54V130.15H149.79zM188.77 128.7H198.52V130.15H188.77zM188.77 143.9H198.52V145.35H188.77zM208.26 148.25H218.01V149.7H208.26zM169.28 152.45H179.03V153.9H169.28zM218.01 152.45H227.75V153.9H218.01zM198.52 158.25H208.26V159.7H198.52zM218.01 159.7H227.75V161H218.01zM208.26 163.9H218.01V165.35H208.26zM198.52 165.35H208.26V166.8H198.52zM188.77 168H198.52V169.45H188.77zM208.26 173.8H218.01V175.25H208.26zM198.52 175.25H208.26V176H198.52zM218.01 203.25H227.75V204.7H218.01zM188.77 206H198.52V207.45H188.77zM198.52 206H208.26V207.45H198.52zM198.52 230.95H208.26V232.4H198.52zM208.26 230.95H218.01V232.4H208.26zM188.77 233.85H198.52V235.3H188.77zM198.52 233.85H208.26V235.3H198.52zM218.01 233.85H227.75V235.3H218.01zM208.26 242.5H218.01V243.95H208.26zM198.52 243.95H208.26V245.4H198.52zM208.26 248.25H218.01V249.7H208.26zM159.54 254.05H169.28V255.5H159.54zM198.52 261.35H208.26V262.8H198.52zM208.26 261.35H218.01V262.8H208.26zM208.26 272.7H218.01V274.15H208.26zM130.3 276.45H140.05V277.9H130.3zM198.52 277.9H208.26V279.35H198.52zM208.26 277.9H218.01V279.35H208.26zM208.26 280.8H218.01V282.25H208.26zM130.3 286H140.05V287.45H130.3zM130.3 288.9H140.05V290.35H130.3zM188.77 288.9H198.52V290.35H188.77zM208.26 305.7H218.01V307.15H208.26zM218.01 308H227.75V309.45H218.01zM198.52 309.45H208.26V310.9H198.52zM198.52 310.9H208.26V312.35H198.52zM208.26 312.35H218.01V313.8H208.26zM198.52 324.35H208.26V325.8H198.52zM208.26 325.8H218.01V327.25H208.26zM169.28 332.45H179.03V333.9H169.28zM188.77 364H198.52V365.45H188.77z"/>
<path fill="#2f2e27" d="M130.3 72.45H140.05V73.9H130.3zM198.52 76.8H208.26V78.25H198.52zM169.28 85.35H179.03V86.8H169.28zM149.79 90H159.54V91.45H149.79zM149.79 92.9H159.54V94.35H149.79zM169.28 100H179.03V101.45H169.28zM188.77 105.8H198.52V107.25H188.77zM179.03 114.35H188.77V115.8H179.03zM188.77 117.25H198.52V118.7H188.77zM188.77 121.45H198.52V122.9H188.77zM130.3 125.8H140.05V127.25H130.3zM140.05 128.7H149.79V130.15H140.05zM159.54 130.15H169.28V131H159.54zM149.79 132.45H159.54V133.9H149.79zM159.54 133.9H169.28V135.35H159.54zM198.52 133.9H208.26V135.35H198.52zM140.05 135.35H149.79V136.8H140.05zM227.75 135.35H237.5V136.8H227.75zM169.28 141H179.03V142.45H169.28zM179.03 145.35H188.77V146.8H179.03zM149.79 146.8H159.54V148.25H149.79zM169.28 155.35H179.03V156.8H169.28zM188.77 158.25H198.52V159.7H188.77zM159.54 159.7H169.28V161H159.54zM140.05 161H149.79V162.45H140.05zM149.79 166.8H159.54V168H149.79zM159.54 168H169.28V169.45H159.54zM169.28 169.45H179.03V170.9H169.28zM188.77 170.9H198.52V172.35H188.77zM227.75 170.9H237.5V172.35H227.75zM188.77 173.8H198.52V175.25H188.77zM130.3 175.25H140.05V176H130.3zM188.77 176H198.52V177.45H188.77zM169.28 178.9H179.03V180.35H169.28zM149.79 181.8H159.54V183.25H149.79zM227.75 190.35H237.5V191.8H227.75zM188.77 191.8H198.52V193.25H188.77zM169.28 193.25H179.03V194.7H169.28zM140.05 196H149.79V197.45H140.05zM227.75 198.9H237.5V200.35H227.75zM227.75 200.35H237.5V201.8H227.75zM140.05 204.7H149.79V206H140.05zM188.77 204.7H198.52V206H188.77zM140.05 206H149.79V207.45H140.05zM169.28 210.35H179.03V211.8H169.28zM227.75 223.75H237.5V225.2H227.75zM179.03 225.2H188.77V226.6H179.03zM149.79 228.05H159.54V229.5H149.79zM218.01 236.7H227.75V238.15H218.01zM130.3 245.4H140.05V246.8H130.3zM149.79 249.7H159.54V251.15H149.79zM149.79 252.6H159.54V254.05H149.79zM149.79 254.05H159.54V255.5H149.79zM227.75 255.5H237.5V257H227.75zM169.28 261.35H179.03V262.8H169.28zM159.54 262.8H169.28V264H159.54zM130.3 264H140.05V265.45H130.3zM179.03 264H188.77V265.45H179.03zM179.03 266.9H188.77V268.35H179.03zM169.28 272.7H179.03V274.15H169.28zM227.75 272.7H237.5V274.15H227.75zM159.54 275H169.28V276.45H159.54zM218.01 275H227.75V276.45H218.01zM169.28 276.45H179.03V277.9H169.28zM130.3 279.35H140.05V280.8H130.3zM227.75 280.8H237.5V282.25H227.75zM227.75 282.25H237.5V283.7H227.75zM159.54 287.45H169.28V288.9H159.54zM140.05 288.9H149.79V290.35H140.05zM149.79 291.8H159.54V293.25H149.79zM179.03 296.15H188.77V297H179.03zM169.28 297H179.03V298.45H169.28zM227.75 299.9H237.5V301.35H227.75zM169.28 302.8H179.03V304.25H169.28zM218.01 310.9H227.75V312.35H218.01zM169.28 315.25H179.03V316.7H169.28zM130.3 318.15H140.05V320H130.3zM130.3 320H140.05V321.45H130.3zM140.05 321.45H149.79V322.9H140.05zM159.54 321.45H169.28V322.9H159.54zM227.75 324.35H237.5V325.8H227.75zM130.3 335.35H140.05V336.8H130.3zM149.79 338.25H159.54V339.7H149.79zM169.28 355.9H179.03V357.35H169.28zM149.79 361.7H159.54V363.15H149.79zM169.28 361.7H179.03V363.15H169.28zM179.03 363.15H188.77V364H179.03zM198.52 368.35H208.26V369.8H198.52z"/>
<path fill="#33372a" d="M140.05 72.45H149.79V73.9H140.05zM149.79 75.35H159.54V76.8H149.79zM218.01 82.45H227.75V83.9H218.01zM218.01 85.35H227.75V86.8H218.01zM218.01 88.25H227.75V90H218.01zM188.77 90H198.52V91.45H188.77zM188.77 92.9H198.52V94.35H188.77zM188.77 98.7H198.52V100H188.77zM218.01 100H227.75V101.45H218.01zM140.05 107.25H149.79V108.7H140.05zM149.79 107.25H159.54V108.7H149.79zM179.03 107.25H188.77V108.7H179.03zM188.77 114.35H198.52V115.8H188.77zM169.28 115.8H179.03V117.25H169.28zM188.77 118.7H198.52V120H188.77zM159.54 121.45H169.28V122.9H159.54zM159.54 132.45H169.28V133.9H159.54zM159.54 135.35H169.28V136.8H159.54zM218.01 141H227.75V142.45H218.01zM179.03 142.45H188.77V143.9H179.03zM169.28 148.25H179.03V149.7H169.28zM179.03 148.25H188.77V149.7H179.03zM179.03 149.7H188.77V151H179.03zM149.79 152.45H159.54V153.9H149.79zM130.3 155.35H140.05V156.8H130.3zM169.28 156.8H179.03V158.25H169.28zM179.03 158.25H188.77V159.7H179.03zM227.75 162.45H237.5V163.9H227.75zM159.54 163.9H169.28V165.35H159.54zM218.01 165.35H227.75V166.8H218.01zM208.26 166.8H218.01V168H208.26zM130.3 172.35H140.05V173.8H130.3zM159.54 172.35H169.28V173.8H159.54zM208.26 172.35H218.01V173.8H208.26zM130.3 173.8H140.05V175.25H130.3zM227.75 180.35H237.5V181.8H227.75zM140.05 183.25H149.79V184.7H140.05zM169.28 184.7H179.03V186H169.28zM208.26 186H218.01V187.45H208.26zM218.01 188.9H227.75V190.35H218.01zM149.79 191.8H159.54V193.25H149.79zM169.28 198.9H179.03V200.35H169.28zM179.03 198.9H188.77V200.35H179.03zM169.28 201.8H179.03V203.25H169.28zM179.03 203.25H188.77V204.7H179.03zM188.77 211.8H198.52V213.25H188.77zM218.01 211.8H227.75V213.25H218.01zM179.03 216.5H188.77V217.95H179.03zM179.03 220.85H188.77V222.3H179.03zM149.79 229.5H159.54V230.95H149.79zM218.01 230.95H227.75V232.4H218.01zM159.54 232.4H169.28V233.85H159.54zM169.28 241.05H179.03V242.5H169.28zM218.01 249.7H227.75V251.15H218.01zM227.75 251.15H237.5V252.6H227.75zM159.54 252.6H169.28V254.05H159.54zM218.01 252.6H227.75V254.05H218.01zM159.54 255.5H169.28V257H159.54zM169.28 262.8H179.03V264H169.28zM179.03 265.45H188.77V266.9H179.03zM140.05 274.15H149.79V275H140.05zM169.28 277.9H179.03V279.35H169.28zM227.75 283.7H237.5V285.15H227.75zM179.03 286H188.77V287.45H179.03zM140.05 290.35H149.79V291.8H140.05zM130.3 291.8H140.05V293.25H130.3zM140.05 299.9H149.79V301.35H140.05zM140.05 302.8H149.79V304.25H140.05zM140.05 305.7H149.79V307.15H140.05zM179.03 305.7H188.77V307.15H179.03zM218.01 312.35H227.75V313.8H218.01zM140.05 313.8H149.79V315.25H140.05zM198.52 316.7H208.26V318.15H198.52zM149.79 318.15H159.54V320H149.79zM130.3 324.35H140.05V325.8H130.3zM169.28 325.8H179.03V327.25H169.28zM218.01 338.25H227.75V339.7H218.01zM169.28 343.45H179.03V344.9H169.28zM149.79 344.9H159.54V346.35H149.79zM140.05 347.8H149.79V349.25H140.05zM159.54 352.15H169.28V353H159.54zM130.3 353H140.05V354.45H130.3zM149.79 354.45H159.54V355.9H149.79zM208.26 365.45H218.01V366.9H208.26zM227.75 366.9H237.5V368.35H227.75zM169.28 369.8H179.03V371.25H169.28zM179.03 369.8H188.77V371.25H179.03z"/>
<path fill="#425b38" d="M179.03 72.45H188.77V73.9H179.03zM179.03 78.25H188.77V79.7H179.03zM227.75 82.45H237.5V83.9H227.75zM218.01 83.9H227.75V85.35H218.01zM227.75 88.25H237.5V90H227.75zM149.79 91.45H159.54V92.9H149.79zM140.05 94.35H149.79V95.8H140.05zM198.52 102.9H208.26V104.35H198.52zM218.01 104.35H227.75V105.8H218.01zM218.01 111.45H227.75V112.9H218.01zM218.01 117.25H227.75V118.7H218.01zM149.79 122.9H159.54V124.35H149.79zM227.75 128.7H237.5V130.15H227.75zM227.75 132.45H237.5V133.9H227.75zM208.26 133.9H218.01V135.35H208.26zM218.01 135.35H227.75V136.8H218.01zM159.54 138.25H169.28V139.7H159.54zM227.75 139.7H237.5V141H227.75zM208.26 146.8H218.01V148.25H208.26zM218.01 151H227.75V152.45H218.01zM149.79 155.35H159.54V156.8H149.79zM208.26 155.35H218.01V156.8H208.26zM208.26 156.8H218.01V158.25H208.26zM218.01 163.9H227.75V165.35H218.01zM218.01 177.45H227.75V178.9H218.01zM218.01 180.35H227.75V181.8H218.01zM188.77 183.25H198.52V184.7H188.77zM198.52 187.45H208.26V188.9H198.52zM218.01 187.45H227.75V188.9H218.01zM218.01 193.25H227.75V194.7H218.01zM169.28 197.45H179.03V198.9H169.28zM208.26 197.45H218.01V198.9H208.26zM218.01 201.8H227.75V203.25H218.01zM169.28 203.25H179.03V204.7H169.28zM140.05 207.45H149.79V208.9H140.05zM179.03 207.45H188.77V208.9H179.03zM188.77 213.25H198.52V214.7H188.77zM130.3 214.7H140.05V216.5H130.3zM227.75 214.7H237.5V216.5H227.75zM188.77 216.5H198.52V217.95H188.77zM208.26 228.05H218.01V229.5H208.26zM227.75 229.5H237.5V230.95H227.75zM218.01 246.8H227.75V248.25H218.01zM130.3 254.05H140.05V255.5H130.3zM188.77 264H198.52V265.45H188.77zM130.3 268.35H140.05V269.8H130.3zM218.01 268.35H227.75V269.8H218.01zM218.01 271.25H227.75V272.7H218.01zM218.01 272.7H227.75V274.15H218.01zM130.3 293.25H140.05V294.7H130.3zM188.77 293.25H198.52V294.7H188.77zM130.3 296.15H140.05V297H130.3zM179.03 298.45H188.77V299.9H179.03zM188.77 298.45H198.52V299.9H188.77zM218.01 302.8H227.75V304.25H218.01zM179.03 304.25H188.77V305.7H179.03zM198.52 307.15H208.26V308H198.52zM218.01 316.7H227.75V318.15H218.01zM218.01 318.15H227.75V320H218.01zM218.01 320H227.75V321.45H218.01zM130.3 321.45H140.05V322.9H130.3zM188.77 328.7H198.52V330.15H188.77zM198.52 332.45H208.26V333.9H198.52zM188.77 344.9H198.52V346.35H188.77zM208.26 349.25H218.01V350.7H208.26zM169.28 350.7H179.03V352.15H169.28zM218.01 353H227.75V354.45H218.01zM159.54 354.45H169.28V355.9H159.54zM198.52 355.9H208.26V357.35H198.52zM208.26 357.35H218.01V358.8H208.26zM218.01 357.35H227.75V358.8H218.01zM198.52 360.25H208.26V361.7H198.52zM208.26 361.7H218.01V363.15H208.26zM218.01 369.8H227.75V371.25H218.01z"/>
<path fill="#953032" d="M188.77 72.45H198.52V73.9H188.77zM198.52 73.9H208.26V75.35H198.52zM208.26 73.9H218.01V75.35H208.26zM218.01 75.35H227.75V76.8H218.01zM179.03 83.9H188.77V85.35H179.03zM130.3 95.8H140.05V97.25H130.3zM159.54 95.8H169.28V97.25H159.54zM159.54 98.7H169.28V100H159.54zM130.3 100H140.05V101.45H130.3zM149.79 102.9H159.54V104.35H149.79zM140.05 104.35H149.79V105.8H140.05zM159.54 107.25H169.28V108.7H159.54zM140.05 112.9H149.79V114.35H140.05zM130.3 114.35H140.05V115.8H130.3zM140.05 115.8H149.79V117.25H140.05zM169.28 117.25H179.03V118.7H169.28zM140.05 120H149.79V121.45H140.05zM169.28 120H179.03V121.45H169.28zM130.3 121.45H140.05V122.9H130.3zM140.05 124.35H149.79V125.8H140.05zM159.54 125.8H169.28V127.25H159.54zM179.03 125.8H188.77V127.25H179.03zM140.05 133.9H149.79V135.35H140.05zM140.05 138.25H149.79V139.7H140.05zM149.79 145.35H159.54V146.8H149.79zM159.54 148.25H169.28V149.7H159.54zM149.79 153.9H159.54V155.35H149.79zM130.3 161H140.05V162.45H130.3zM169.28 166.8H179.03V168H169.28zM179.03 166.8H188.77V168H179.03zM130.3 169.45H140.05V170.9H130.3zM140.05 169.45H149.79V170.9H140.05zM130.3 177.45H140.05V178.9H130.3zM149.79 180.35H159.54V181.8H149.79zM227.75 181.8H237.5V183.25H227.75zM179.03 193.25H188.77V194.7H179.03zM149.79 201.8H159.54V203.25H149.79zM179.03 206H188.77V207.45H179.03zM149.79 210.35H159.54V211.8H149.79zM140.05 211.8H149.79V213.25H140.05zM159.54 214.7H169.28V216.5H159.54zM179.03 214.7H188.77V216.5H179.03zM140.05 220.85H149.79V222.3H140.05zM130.3 222.3H140.05V223.75H130.3zM149.79 226.6H159.54V228.05H149.79zM140.05 233.85H149.79V235.3H140.05zM149.79 235.3H159.54V236.7H149.79zM227.75 236.7H237.5V238.15H227.75zM227.75 238.15H237.5V239.6H227.75zM159.54 248.25H169.28V249.7H159.54zM140.05 252.6H149.79V254.05H140.05zM179.03 252.6H188.77V254.05H179.03zM179.03 262.8H188.77V264H179.03zM140.05 264H149.79V265.45H140.05zM140.05 280.8H149.79V282.25H140.05zM159.54 280.8H169.28V282.25H159.54zM140.05 285.15H149.79V286H140.05zM169.28 290.35H179.03V291.8H169.28zM159.54 291.8H169.28V293.25H159.54zM159.54 296.15H169.28V297H159.54zM169.28 304.25H179.03V305.7H169.28zM179.03 308H188.77V309.45H179.03zM227.75 315.25H237.5V316.7H227.75zM149.79 320H159.54V321.45H149.79zM227.75 320H237.5V321.45H227.75zM140.05 324.35H149.79V325.8H140.05zM179.03 324.35H188.77V325.8H179.03zM149.79 330.15H159.54V331H149.79zM179.03 333.9H188.77V335.35H179.03zM140.05 339.7H149.79V341.15H140.05zM179.03 339.7H188.77V341.15H179.03zM149.79 341.15H159.54V342H149.79zM227.75 350.7H237.5V352.15H227.75zM140.05 355.9H149.79V357.35H140.05zM130.3 357.35H140.05V358.8H130.3zM159.54 361.7H169.28V363.15H159.54zM179.03 371.25H188.77V372.5H179.03z"/>
<path fill="#bd3438" d="M198.52 72.45H208.26V73.9H198.52zM208.26 72.45H218.01V73.9H208.26zM188.77 73.9H198.52V75.35H188.77zM169.28 82.45H179.03V83.9H169.28zM159.54 85.35H169.28V86.8H159.54zM179.03 85.35H188.77V86.8H179.03zM179.03 94.35H188.77V95.8H179.03zM159.54 100H169.28V101.45H159.54zM130.3 135.35H140.05V136.8H130.3zM140.05 142.45H149.79V143.9H140.05zM140.05 152.45H149.79V153.9H140.05zM140.05 158.25H149.79V159.7H140.05zM149.79 177.45H159.54V178.9H149.79zM140.05 178.9H149.79V180.35H140.05zM159.54 210.35H169.28V211.8H159.54zM159.54 213.25H169.28V214.7H159.54zM179.03 228.05H188.77V229.5H179.03zM227.75 262.8H237.5V264H227.75zM149.79 277.9H159.54V279.35H149.79zM140.05 298.45H149.79V299.9H140.05zM159.54 308H169.28V309.45H159.54zM140.05 315.25H149.79V316.7H140.05zM179.03 316.7H188.77V318.15H179.03zM227.75 318.15H237.5V320H227.75zM179.03 327.25H188.77V328.7H179.03zM130.3 349.25H140.05V350.7H130.3zM179.03 350.7H188.77V352.15H179.03zM159.54 360.25H169.28V361.7H159.54zM149.79 364H159.54V365.45H149.79z"/>
<path fill="#882f31" d="M218.01 72.45H227.75V73.9H218.01zM218.01 73.9H227.75V75.35H218.01zM179.03 86.8H188.77V88.25H179.03zM130.3 94.35H140.05V95.8H130.3zM179.03 95.8H188.77V97.25H179.03zM130.3 98.7H140.05V100H130.3zM169.28 101.45H179.03V102.9H169.28zM149.79 104.35H159.54V105.8H149.79zM179.03 104.35H188.77V105.8H179.03zM140.05 105.8H149.79V107.25H140.05zM130.3 110H140.05V111.45H130.3zM188.77 110H198.52V111.45H188.77zM149.79 112.9H159.54V114.35H149.79zM130.3 118.7H140.05V120H130.3zM140.05 118.7H149.79V120H140.05zM159.54 122.9H169.28V124.35H159.54zM169.28 122.9H179.03V124.35H169.28zM130.3 131H140.05V132.45H130.3zM169.28 135.35H179.03V136.8H169.28zM169.28 138.25H179.03V139.7H169.28zM179.03 138.25H188.77V139.7H179.03zM130.3 139.7H140.05V141H130.3zM227.75 142.45H237.5V143.9H227.75zM140.05 145.35H149.79V146.8H140.05zM159.54 153.9H169.28V155.35H159.54zM169.28 153.9H179.03V155.35H169.28zM140.05 155.35H149.79V156.8H140.05zM140.05 156.8H149.79V158.25H140.05zM149.79 161H159.54V162.45H149.79zM169.28 161H179.03V162.45H169.28zM227.75 161H237.5V162.45H227.75zM130.3 163.9H140.05V165.35H130.3zM169.28 163.9H179.03V165.35H169.28zM179.03 163.9H188.77V165.35H179.03zM130.3 165.35H140.05V166.8H130.3zM227.75 165.35H237.5V166.8H227.75zM149.79 170.9H159.54V172.35H149.79zM179.03 176H188.77V177.45H179.03zM140.05 177.45H149.79V178.9H140.05zM130.3 178.9H140.05V180.35H130.3zM169.28 191.8H179.03V193.25H169.28zM159.54 194.7H169.28V196H159.54zM179.03 201.8H188.77V203.25H179.03zM130.3 211.8H140.05V213.25H130.3zM227.75 216.5H237.5V217.95H227.75zM149.79 217.95H159.54V219.4H149.79zM227.75 219.4H237.5V220.85H227.75zM140.05 226.6H149.79V228.05H140.05zM140.05 228.05H149.79V229.5H140.05zM227.75 228.05H237.5V229.5H227.75zM130.3 229.5H140.05V230.95H130.3zM130.3 233.85H140.05V235.3H130.3zM149.79 233.85H159.54V235.3H149.79zM130.3 239.6H140.05V241.05H130.3zM159.54 239.6H169.28V241.05H159.54zM227.75 239.6H237.5V241.05H227.75zM179.03 241.05H188.77V242.5H179.03zM140.05 251.15H149.79V252.6H140.05zM169.28 252.6H179.03V254.05H169.28zM140.05 255.5H149.79V257H140.05zM130.3 257H140.05V258.45H130.3zM169.28 257H179.03V258.45H169.28zM149.79 262.8H159.54V264H149.79zM169.28 265.45H179.03V266.9H169.28zM140.05 269.8H149.79V271.25H140.05zM149.79 269.8H159.54V271.25H149.79zM169.28 280.8H179.03V282.25H169.28zM179.03 288.9H188.77V290.35H179.03zM227.75 290.35H237.5V291.8H227.75zM159.54 293.25H169.28V294.7H159.54zM179.03 294.7H188.77V296.15H179.03zM149.79 296.15H159.54V297H149.79zM179.03 299.9H188.77V301.35H179.03zM149.79 305.7H159.54V307.15H149.79zM130.3 308H140.05V309.45H130.3zM179.03 315.25H188.77V316.7H179.03zM159.54 316.7H169.28V318.15H159.54zM140.05 322.9H149.79V324.35H140.05zM149.79 322.9H159.54V324.35H149.79zM149.79 332.45H159.54V333.9H149.79zM140.05 333.9H149.79V335.35H140.05zM149.79 335.35H159.54V336.8H149.79zM130.3 338.25H140.05V339.7H130.3zM140.05 342H149.79V343.45H140.05zM149.79 343.45H159.54V344.9H149.79zM227.75 343.45H237.5V344.9H227.75zM149.79 347.8H159.54V349.25H149.79zM218.01 347.8H227.75V349.25H218.01zM140.05 349.25H149.79V350.7H140.05zM159.54 349.25H169.28V350.7H159.54zM149.79 353H159.54V354.45H149.79zM227.75 360.25H237.5V361.7H227.75zM130.3 366.9H140.05V368.35H130.3zM159.54 366.9H169.28V368.35H159.54z"/>
<path fill="#58914d" d="M227.75 72.45H237.5V73.9H227.75zM227.75 75.35H237.5V76.8H227.75zM188.77 86.8H198.52V88.25H188.77zM198.52 91.45H208.26V92.9H198.52zM188.77 101.45H198.52V102.9H188.77zM208.26 104.35H218.01V105.8H208.26zM218.01 108.7H227.75V110H218.01zM227.75 110H237.5V111.45H227.75zM227.75 124.35H237.5V125.8H227.75zM198.52 131H208.26V132.45H198.52zM208.26 131H218.01V132.45H208.26zM198.52 135.35H208.26V136.8H198.52zM188.77 142.45H198.52V143.9H188.77zM198.52 146.8H208.26V148.25H198.52zM218.01 146.8H227.75V148.25H218.01zM198.52 151H208.26V152.45H198.52zM198.52 159.7H208.26V161H198.52zM198.52 168H208.26V169.45H198.52zM208.26 169.45H218.01V170.9H208.26zM198.52 176H208.26V177.45H198.52zM198.52 178.9H208.26V180.35H198.52zM188.77 180.35H198.52V181.8H188.77zM198.52 180.35H208.26V181.8H198.52zM188.77 184.7H198.52V186H188.77zM218.01 184.7H227.75V186H218.01zM188.77 186H198.52V187.45H188.77zM218.01 191.8H227.75V193.25H218.01zM198.52 201.8H208.26V203.25H198.52zM198.52 204.7H208.26V206H198.52zM188.77 207.45H198.52V208.9H188.77zM198.52 207.45H208.26V208.9H198.52zM188.77 214.7H198.52V216.5H188.77zM198.52 216.5H208.26V217.95H198.52zM218.01 219.4H227.75V220.85H218.01zM208.26 220.85H218.01V222.3H208.26zM208.26 225.2H218.01V226.6H208.26zM188.77 228.05H198.52V229.5H188.77zM208.26 235.3H218.01V236.7H208.26zM208.26 236.7H218.01V238.15H208.26zM218.01 243.95H227.75V245.4H218.01zM198.52 245.4H208.26V246.8H198.52zM208.26 259.9H218.01V261.35H208.26zM208.26 264H218.01V265.45H208.26zM218.01 264H227.75V265.45H218.01zM208.26 271.25H218.01V272.7H208.26zM218.01 274.15H227.75V275H218.01zM208.26 279.35H218.01V280.8H208.26zM188.77 286H198.52V287.45H188.77zM198.52 288.9H208.26V290.35H198.52zM188.77 299.9H198.52V301.35H188.77zM218.01 307.15H227.75V308H218.01zM188.77 308H198.52V309.45H188.77zM208.26 309.45H218.01V310.9H208.26zM188.77 312.35H198.52V313.8H188.77zM208.26 313.8H218.01V315.25H208.26zM188.77 343.45H198.52V344.9H188.77zM218.01 355.9H227.75V357.35H218.01zM188.77 360.25H198.52V361.7H188.77zM218.01 360.25H227.75V361.7H218.01zM188.77 363.15H198.52V364H188.77zM208.26 368.35H218.01V369.8H208.26z"/>
<path fill="#3e5235" d="M140.05 73.9H149.79V75.35H140.05zM227.75 73.9H237.5V75.35H227.75zM140.05 76.8H149.79V78.25H140.05zM208.26 92.9H218.01V94.35H208.26zM140.05 97.25H149.79V98.7H140.05zM188.77 97.25H198.52V98.7H188.77zM140.05 100H149.79V101.45H140.05zM188.77 100H198.52V101.45H188.77zM169.28 102.9H179.03V104.35H169.28zM188.77 107.25H198.52V108.7H188.77zM159.54 111.45H169.28V112.9H159.54zM208.26 111.45H218.01V112.9H208.26zM149.79 120H159.54V121.45H149.79zM227.75 120H237.5V121.45H227.75zM159.54 127.25H169.28V128.7H159.54zM149.79 130.15H159.54V131H149.79zM149.79 143.9H159.54V145.35H149.79zM159.54 143.9H169.28V145.35H159.54zM218.01 148.25H227.75V149.7H218.01zM208.26 151H218.01V152.45H208.26zM179.03 153.9H188.77V155.35H179.03zM188.77 162.45H198.52V163.9H188.77zM188.77 169.45H198.52V170.9H188.77zM227.75 176H237.5V177.45H227.75zM208.26 180.35H218.01V181.8H208.26zM149.79 184.7H159.54V186H149.79zM149.79 190.35H159.54V191.8H149.79zM179.03 191.8H188.77V193.25H179.03zM188.77 197.45H198.52V198.9H188.77zM188.77 198.9H198.52V200.35H188.77zM227.75 204.7H237.5V206H227.75zM188.77 208.9H198.52V210.35H188.77zM169.28 213.25H179.03V214.7H169.28zM208.26 217.95H218.01V219.4H208.26zM130.3 219.4H140.05V220.85H130.3zM159.54 219.4H169.28V220.85H159.54zM140.05 223.75H149.79V225.2H140.05zM188.77 229.5H198.52V230.95H188.77zM188.77 232.4H198.52V233.85H188.77zM159.54 246.8H169.28V248.25H159.54zM198.52 251.15H208.26V252.6H198.52zM198.52 258.45H208.26V259.9H198.52zM130.3 269.8H140.05V271.25H130.3zM169.28 274.15H179.03V275H169.28zM188.77 275H198.52V276.45H188.77zM227.75 276.45H237.5V277.9H227.75zM130.3 285.15H140.05V286H130.3zM218.01 286H227.75V287.45H218.01zM130.3 287.45H140.05V288.9H130.3zM208.26 287.45H218.01V288.9H208.26zM188.77 296.15H198.52V297H188.77zM169.28 299.9H179.03V301.35H169.28zM188.77 307.15H198.52V308H188.77zM188.77 318.15H198.52V320H188.77zM130.3 331H140.05V332.45H130.3zM188.77 332.45H198.52V333.9H188.77zM208.26 332.45H218.01V333.9H208.26zM208.26 336.8H218.01V338.25H208.26zM188.77 338.25H198.52V339.7H188.77zM208.26 338.25H218.01V339.7H208.26zM169.28 341.15H179.03V342H169.28zM218.01 343.45H227.75V344.9H218.01zM208.26 347.8H218.01V349.25H208.26zM208.26 350.7H218.01V352.15H208.26zM198.52 352.15H208.26V353H198.52zM169.28 354.45H179.03V355.9H169.28zM208.26 363.15H218.01V364H208.26zM188.77 365.45H198.52V366.9H188.77zM140.05 366.9H149.79V368.35H140.05zM188.77 368.35H198.52V369.8H188.77zM227.75 368.35H237.5V369.8H227.75zM227.75 369.8H237.5V371.25H227.75z"/>
<path fill="#37402e" d="M169.28 73.9H179.03V75.35H169.28zM169.28 79.7H179.03V81H169.28zM227.75 79.7H237.5V81H227.75zM149.79 82.45H159.54V83.9H149.79zM188.77 83.9H198.52V85.35H188.77zM227.75 86.8H237.5V88.25H227.75zM179.03 88.25H188.77V90H179.03zM218.01 102.9H227.75V104.35H218.01zM169.28 110H179.03V111.45H169.28zM188.77 112.9H198.52V114.35H188.77zM218.01 112.9H227.75V114.35H218.01zM227.75 136.8H237.5V138.25H227.75zM179.03 143.9H188.77V145.35H179.03zM179.03 151H188.77V152.45H179.03zM208.26 153.9H218.01V155.35H208.26zM159.54 173.8H169.28V175.25H159.54zM188.77 175.25H198.52V176H188.77zM149.79 176H159.54V177.45H149.79zM169.28 176H179.03V177.45H169.28zM169.28 177.45H179.03V178.9H169.28zM188.77 177.45H198.52V178.9H188.77zM130.3 183.25H140.05V184.7H130.3zM218.01 186H227.75V187.45H218.01zM188.77 190.35H198.52V191.8H188.77zM169.28 204.7H179.03V206H169.28zM188.77 210.35H198.52V211.8H188.77zM159.54 211.8H169.28V213.25H159.54zM179.03 213.25H188.77V214.7H179.03zM227.75 213.25H237.5V214.7H227.75zM218.01 217.95H227.75V219.4H218.01zM169.28 219.4H179.03V220.85H169.28zM218.01 223.75H227.75V225.2H218.01zM227.75 232.4H237.5V233.85H227.75zM140.05 245.4H149.79V246.8H140.05zM149.79 246.8H159.54V248.25H149.79zM227.75 246.8H237.5V248.25H227.75zM149.79 255.5H159.54V257H149.79zM227.75 258.45H237.5V259.9H227.75zM140.05 262.8H149.79V264H140.05zM130.3 265.45H140.05V266.9H130.3zM218.01 265.45H227.75V266.9H218.01zM140.05 266.9H149.79V268.35H140.05zM188.77 266.9H198.52V268.35H188.77zM130.3 274.15H140.05V275H130.3zM227.75 275H237.5V276.45H227.75zM218.01 279.35H227.75V280.8H218.01zM218.01 285.15H227.75V286H218.01zM149.79 286H159.54V287.45H149.79zM130.3 294.7H140.05V296.15H130.3zM188.77 304.25H198.52V305.7H188.77zM130.3 305.7H140.05V307.15H130.3zM130.3 315.25H140.05V316.7H130.3zM179.03 322.9H188.77V324.35H179.03zM149.79 331H159.54V332.45H149.79zM169.28 331H179.03V332.45H169.28zM227.75 332.45H237.5V333.9H227.75zM188.77 333.9H198.52V335.35H188.77zM227.75 333.9H237.5V335.35H227.75zM218.01 335.35H227.75V336.8H218.01zM169.28 336.8H179.03V338.25H169.28zM159.54 341.15H169.28V342H159.54zM130.3 342H140.05V343.45H130.3zM227.75 342H237.5V343.45H227.75zM188.77 349.25H198.52V350.7H188.77zM140.05 350.7H149.79V352.15H140.05zM198.52 350.7H208.26V352.15H198.52zM130.3 352.15H140.05V353H130.3zM227.75 361.7H237.5V363.15H227.75zM169.28 364H179.03V365.45H169.28zM198.52 364H208.26V365.45H198.52zM218.01 365.45H227.75V366.9H218.01z"/>
<path fill="#3a4931" d="M179.03 73.9H188.77V75.35H179.03zM140.05 78.25H149.79V79.7H140.05zM130.3 82.45H140.05V83.9H130.3zM208.26 85.35H218.01V86.8H208.26zM227.75 90H237.5V91.45H227.75zM188.77 91.45H198.52V92.9H188.77zM149.79 95.8H159.54V97.25H149.79zM188.77 111.45H198.52V112.9H188.77zM169.28 112.9H179.03V114.35H169.28zM179.03 115.8H188.77V117.25H179.03zM208.26 115.8H218.01V117.25H208.26zM218.01 115.8H227.75V117.25H218.01zM169.28 121.45H179.03V122.9H169.28zM149.79 124.35H159.54V125.8H149.79zM149.79 127.25H159.54V128.7H149.79zM218.01 131H227.75V132.45H218.01zM218.01 142.45H227.75V143.9H218.01zM218.01 145.35H227.75V146.8H218.01zM188.77 151H198.52V152.45H188.77zM208.26 152.45H218.01V153.9H208.26zM188.77 153.9H198.52V155.35H188.77zM208.26 158.25H218.01V159.7H208.26zM227.75 168H237.5V169.45H227.75zM227.75 177.45H237.5V178.9H227.75zM218.01 178.9H227.75V180.35H218.01zM130.3 181.8H140.05V183.25H130.3zM149.79 187.45H159.54V188.9H149.79zM169.28 188.9H179.03V190.35H169.28zM218.01 197.45H227.75V198.9H218.01zM169.28 207.45H179.03V208.9H169.28zM227.75 208.9H237.5V210.35H227.75zM140.05 210.35H149.79V211.8H140.05zM179.03 210.35H188.77V211.8H179.03zM218.01 210.35H227.75V211.8H218.01zM149.79 216.5H159.54V217.95H149.79zM188.77 219.4H198.52V220.85H188.77zM218.01 226.6H227.75V228.05H218.01zM218.01 228.05H227.75V229.5H218.01zM218.01 229.5H227.75V230.95H218.01zM208.26 232.4H218.01V233.85H208.26zM159.54 235.3H169.28V236.7H159.54zM130.3 238.15H140.05V239.6H130.3zM159.54 245.4H169.28V246.8H159.54zM130.3 248.25H140.05V249.7H130.3zM227.75 249.7H237.5V251.15H227.75zM188.77 251.15H198.52V252.6H188.77zM130.3 252.6H140.05V254.05H130.3zM188.77 258.45H198.52V259.9H188.77zM188.77 269.8H198.52V271.25H188.77zM218.01 269.8H227.75V271.25H218.01zM130.3 280.8H140.05V282.25H130.3zM179.03 290.35H188.77V291.8H179.03zM198.52 291.8H208.26V293.25H198.52zM218.01 291.8H227.75V293.25H218.01zM208.26 308H218.01V309.45H208.26zM208.26 328.7H218.01V330.15H208.26zM140.05 330.15H149.79V331H140.05zM218.01 332.45H227.75V333.9H218.01zM198.52 346.35H208.26V347.8H198.52zM227.75 346.35H237.5V347.8H227.75zM169.28 347.8H179.03V349.25H169.28zM218.01 366.9H227.75V368.35H218.01zM140.05 371.25H149.79V372.5H140.05z"/>
<path fill="#5c9a51" d="M130.3 75.35H140.05V76.8H130.3zM130.3 76.8H140.05V78.25H130.3zM149.79 76.8H159.54V78.25H149.79zM208.26 83.9H218.01V85.35H208.26zM227.75 92.9H237.5V94.35H227.75zM198.52 94.35H208.26V95.8H198.52zM208.26 97.25H218.01V98.7H208.26zM208.26 101.45H218.01V102.9H208.26zM198.52 105.8H208.26V107.25H198.52zM227.75 105.8H237.5V107.25H227.75zM198.52 108.7H208.26V110H198.52zM208.26 117.25H218.01V118.7H208.26zM218.01 124.35H227.75V125.8H218.01zM198.52 125.8H208.26V127.25H198.52zM227.75 127.25H237.5V128.7H227.75zM188.77 130.15H198.52V131H188.77zM198.52 132.45H208.26V133.9H198.52zM208.26 142.45H218.01V143.9H208.26zM218.01 149.7H227.75V151H218.01zM198.52 152.45H208.26V153.9H198.52zM188.77 165.35H198.52V166.8H188.77zM208.26 170.9H218.01V172.35H208.26zM218.01 181.8H227.75V183.25H218.01zM198.52 184.7H208.26V186H198.52zM198.52 193.25H208.26V194.7H198.52zM218.01 196H227.75V197.45H218.01zM208.26 198.9H218.01V200.35H208.26zM218.01 198.9H227.75V200.35H218.01zM198.52 203.25H208.26V204.7H198.52zM208.26 207.45H218.01V208.9H208.26zM208.26 208.9H218.01V210.35H208.26zM208.26 216.5H218.01V217.95H208.26zM218.01 216.5H227.75V217.95H218.01zM218.01 220.85H227.75V222.3H218.01zM198.52 223.75H208.26V225.2H198.52zM218.01 225.2H227.75V226.6H218.01zM208.26 226.6H218.01V228.05H208.26zM198.52 229.5H208.26V230.95H198.52zM188.77 230.95H198.52V232.4H188.77zM188.77 235.3H198.52V236.7H188.77zM198.52 235.3H208.26V236.7H198.52zM198.52 239.6H208.26V241.05H198.52zM198.52 241.05H208.26V242.5H198.52zM208.26 254.05H218.01V255.5H208.26zM198.52 257H208.26V258.45H198.52zM198.52 259.9H208.26V261.35H198.52zM198.52 265.45H208.26V266.9H198.52zM130.3 266.9H140.05V268.35H130.3zM188.77 272.7H198.52V274.15H188.77zM198.52 280.8H208.26V282.25H198.52zM198.52 283.7H208.26V285.15H198.52zM218.01 287.45H227.75V288.9H218.01zM218.01 288.9H227.75V290.35H218.01zM188.77 291.8H198.52V293.25H188.77zM218.01 297H227.75V298.45H218.01zM188.77 301.35H198.52V302.8H188.77zM198.52 304.25H208.26V305.7H198.52zM188.77 322.9H198.52V324.35H188.77zM218.01 322.9H227.75V324.35H218.01zM208.26 342H218.01V343.45H208.26zM218.01 354.45H227.75V355.9H218.01zM188.77 355.9H198.52V357.35H188.77zM208.26 358.8H218.01V360.25H208.26zM208.26 369.8H218.01V371.25H208.26z"/>
<path fill="#496d3f" d="M169.28 75.35H179.03V76.8H169.28zM159.54 76.8H169.28V78.25H159.54zM159.54 78.25H169.28V79.7H159.54zM169.28 78.25H179.03V79.7H169.28zM149.79 79.7H159.54V81H149.79zM218.01 81H227.75V82.45H218.01zM208.26 94.35H218.01V95.8H208.26zM198.52 97.25H208.26V98.7H198.52zM218.01 98.7H227.75V100H218.01zM218.01 105.8H227.75V107.25H218.01zM208.26 114.35H218.01V115.8H208.26zM218.01 114.35H227.75V115.8H218.01zM227.75 117.25H237.5V118.7H227.75zM169.28 118.7H179.03V120H169.28zM227.75 121.45H237.5V122.9H227.75zM188.77 122.9H198.52V124.35H188.77zM198.52 122.9H208.26V124.35H198.52zM188.77 124.35H198.52V125.8H188.77zM218.01 133.9H227.75V135.35H218.01zM208.26 136.8H218.01V138.25H208.26zM218.01 138.25H227.75V139.7H218.01zM130.3 141H140.05V142.45H130.3zM198.52 141H208.26V142.45H198.52zM130.3 145.35H140.05V146.8H130.3zM208.26 145.35H218.01V146.8H208.26zM188.77 146.8H198.52V148.25H188.77zM188.77 148.25H198.52V149.7H188.77zM208.26 149.7H218.01V151H208.26zM159.54 161H169.28V162.45H159.54zM218.01 162.45H227.75V163.9H218.01zM218.01 166.8H227.75V168H218.01zM227.75 166.8H237.5V168H227.75zM227.75 186H237.5V187.45H227.75zM198.52 190.35H208.26V191.8H198.52zM227.75 191.8H237.5V193.25H227.75zM188.77 193.25H198.52V194.7H188.77zM218.01 214.7H227.75V216.5H218.01zM208.26 219.4H218.01V220.85H208.26zM227.75 222.3H237.5V223.75H227.75zM208.26 229.5H218.01V230.95H208.26zM218.01 235.3H227.75V236.7H218.01zM130.3 243.95H140.05V245.4H130.3zM188.77 248.25H198.52V249.7H188.77zM198.52 248.25H208.26V249.7H198.52zM188.77 249.7H198.52V251.15H188.77zM188.77 268.35H198.52V269.8H188.77zM130.3 271.25H140.05V272.7H130.3zM188.77 271.25H198.52V272.7H188.77zM218.01 293.25H227.75V294.7H218.01zM208.26 294.7H218.01V296.15H208.26zM218.01 296.15H227.75V297H218.01zM179.03 301.35H188.77V302.8H179.03zM218.01 301.35H227.75V302.8H218.01zM188.77 302.8H198.52V304.25H188.77zM198.52 315.25H208.26V316.7H198.52zM169.28 322.9H179.03V324.35H169.28zM218.01 324.35H227.75V325.8H218.01zM198.52 325.8H208.26V327.25H198.52zM198.52 327.25H208.26V328.7H198.52zM218.01 330.15H227.75V331H218.01zM208.26 331H218.01V332.45H208.26zM198.52 341.15H208.26V342H198.52zM208.26 341.15H218.01V342H208.26zM198.52 343.45H208.26V344.9H198.52zM208.26 343.45H218.01V344.9H208.26zM188.77 347.8H198.52V349.25H188.77zM218.01 363.15H227.75V364H218.01zM188.77 366.9H198.52V368.35H188.77zM208.26 366.9H218.01V368.35H208.26z"/>
<path fill="#462827" d="M188.77 75.35H198.52V76.8H188.77zM218.01 76.8H227.75V78.25H218.01zM198.52 78.25H208.26V79.7H198.52zM179.03 79.7H188.77V81H179.03zM188.77 82.45H198.52V83.9H188.77zM149.79 83.9H159.54V85.35H149.79zM140.05 85.35H149.79V86.8H140.05zM149.79 86.8H159.54V88.25H149.79zM169.28 86.8H179.03V88.25H169.28zM140.05 88.25H149.79V90H140.05zM140.05 90H149.79V91.45H140.05zM179.03 90H188.77V91.45H179.03zM140.05 95.8H149.79V97.25H140.05zM149.79 100H159.54V101.45H149.79zM159.54 104.35H169.28V105.8H159.54zM179.03 105.8H188.77V107.25H179.03zM169.28 107.25H179.03V108.7H169.28zM159.54 110H169.28V111.45H159.54zM130.3 112.9H140.05V114.35H130.3zM159.54 114.35H169.28V115.8H159.54zM149.79 117.25H159.54V118.7H149.79zM149.79 121.45H159.54V122.9H149.79zM149.79 125.8H159.54V127.25H149.79zM227.75 131H237.5V132.45H227.75zM159.54 139.7H169.28V141H159.54zM159.54 146.8H169.28V148.25H159.54zM169.28 151H179.03V152.45H169.28zM227.75 151H237.5V152.45H227.75zM130.3 156.8H140.05V158.25H130.3zM149.79 156.8H159.54V158.25H149.79zM218.01 156.8H227.75V158.25H218.01zM227.75 156.8H237.5V158.25H227.75zM130.3 162.45H140.05V163.9H130.3zM140.05 162.45H149.79V163.9H140.05zM159.54 165.35H169.28V166.8H159.54zM188.77 172.35H198.52V173.8H188.77zM169.28 175.25H179.03V176H169.28zM149.79 183.25H159.54V184.7H149.79zM149.79 186H159.54V187.45H149.79zM169.28 187.45H179.03V188.9H169.28zM140.05 191.8H149.79V193.25H140.05zM140.05 193.25H149.79V194.7H140.05zM188.77 196H198.52V197.45H188.77zM227.75 196H237.5V197.45H227.75zM140.05 198.9H149.79V200.35H140.05zM140.05 200.35H149.79V201.8H140.05zM149.79 207.45H159.54V208.9H149.79zM179.03 208.9H188.77V210.35H179.03zM130.3 217.95H140.05V219.4H130.3zM149.79 220.85H159.54V222.3H149.79zM169.28 220.85H179.03V222.3H169.28zM227.75 220.85H237.5V222.3H227.75zM169.28 226.6H179.03V228.05H169.28zM169.28 228.05H179.03V229.5H169.28zM140.05 229.5H149.79V230.95H140.05zM130.3 230.95H140.05V232.4H130.3zM149.79 230.95H159.54V232.4H149.79zM179.03 232.4H188.77V233.85H179.03zM227.75 235.3H237.5V236.7H227.75zM130.3 236.7H140.05V238.15H130.3zM149.79 243.95H159.54V245.4H149.79zM159.54 243.95H169.28V245.4H159.54zM169.28 245.4H179.03V246.8H169.28zM227.75 245.4H237.5V246.8H227.75zM140.05 246.8H149.79V248.25H140.05zM159.54 249.7H169.28V251.15H159.54zM140.05 254.05H149.79V255.5H140.05zM140.05 257H149.79V258.45H140.05zM149.79 259.9H159.54V261.35H149.79zM149.79 264H159.54V265.45H149.79zM140.05 265.45H149.79V266.9H140.05zM179.03 276.45H188.77V277.9H179.03zM130.3 277.9H140.05V279.35H130.3zM159.54 277.9H169.28V279.35H159.54zM227.75 277.9H237.5V279.35H227.75zM130.3 282.25H140.05V283.7H130.3zM159.54 282.25H169.28V283.7H159.54zM130.3 283.7H140.05V285.15H130.3zM149.79 287.45H159.54V288.9H149.79zM149.79 290.35H159.54V291.8H149.79zM169.28 296.15H179.03V297H169.28zM149.79 297H159.54V298.45H149.79zM149.79 298.45H159.54V299.9H149.79zM169.28 298.45H179.03V299.9H169.28zM130.3 301.35H140.05V302.8H130.3zM149.79 301.35H159.54V302.8H149.79zM130.3 304.25H140.05V305.7H130.3zM140.05 304.25H149.79V305.7H140.05zM169.28 307.15H179.03V308H169.28zM179.03 310.9H188.77V312.35H179.03zM149.79 315.25H159.54V316.7H149.79zM149.79 316.7H159.54V318.15H149.79zM218.01 321.45H227.75V322.9H218.01zM130.3 325.8H140.05V327.25H130.3zM140.05 325.8H149.79V327.25H140.05zM218.01 328.7H227.75V330.15H218.01zM159.54 335.35H169.28V336.8H159.54zM140.05 338.25H149.79V339.7H140.05zM130.3 341.15H140.05V342H130.3zM140.05 341.15H149.79V342H140.05zM227.75 341.15H237.5V342H227.75zM218.01 342H227.75V343.45H218.01zM169.28 344.9H179.03V346.35H169.28zM149.79 350.7H159.54V352.15H149.79zM169.28 353H179.03V354.45H169.28zM130.3 354.45H140.05V355.9H130.3zM149.79 355.9H159.54V357.35H149.79zM130.3 361.7H140.05V363.15H130.3zM140.05 363.15H149.79V364H140.05zM169.28 365.45H179.03V366.9H169.28zM140.05 368.35H149.79V369.8H140.05zM140.05 369.8H149.79V371.25H140.05z"/>
<path fill="#392725" d="M179.03 76.8H188.77V78.25H179.03zM227.75 78.25H237.5V79.7H227.75zM130.3 83.9H140.05V85.35H130.3zM159.54 83.9H169.28V85.35H159.54zM169.28 83.9H179.03V85.35H169.28zM227.75 83.9H237.5V85.35H227.75zM140.05 86.8H149.79V88.25H140.05zM159.54 86.8H169.28V88.25H159.54zM169.28 91.45H179.03V92.9H169.28zM140.05 102.9H149.79V104.35H140.05zM179.03 102.9H188.77V104.35H179.03zM149.79 108.7H159.54V110H149.79zM169.28 108.7H179.03V110H169.28zM159.54 115.8H169.28V117.25H159.54zM159.54 117.25H169.28V118.7H159.54zM159.54 118.7H169.28V120H159.54zM179.03 121.45H188.77V122.9H179.03zM140.05 122.9H149.79V124.35H140.05zM130.3 124.35H140.05V125.8H130.3zM130.3 128.7H140.05V130.15H130.3zM169.28 128.7H179.03V130.15H169.28zM227.75 138.25H237.5V139.7H227.75zM130.3 142.45H140.05V143.9H130.3zM169.28 142.45H179.03V143.9H169.28zM169.28 145.35H179.03V146.8H169.28zM130.3 146.8H140.05V148.25H130.3zM169.28 146.8H179.03V148.25H169.28zM130.3 151H140.05V152.45H130.3zM130.3 152.45H140.05V153.9H130.3zM130.3 153.9H140.05V155.35H130.3zM179.03 161H188.77V162.45H179.03zM169.28 165.35H179.03V166.8H169.28zM149.79 168H159.54V169.45H149.79zM169.28 172.35H179.03V173.8H169.28zM169.28 181.8H179.03V183.25H169.28zM227.75 187.45H237.5V188.9H227.75zM227.75 197.45H237.5V198.9H227.75zM169.28 206H179.03V207.45H169.28zM218.01 206H227.75V207.45H218.01zM169.28 211.8H179.03V213.25H169.28zM130.3 213.25H140.05V214.7H130.3zM140.05 214.7H149.79V216.5H140.05zM149.79 219.4H159.54V220.85H149.79zM159.54 220.85H169.28V222.3H159.54zM188.77 220.85H198.52V222.3H188.77zM140.05 222.3H149.79V223.75H140.05zM149.79 222.3H159.54V223.75H149.79zM179.03 222.3H188.77V223.75H179.03zM179.03 223.75H188.77V225.2H179.03zM169.28 232.4H179.03V233.85H169.28zM140.05 235.3H149.79V236.7H140.05zM140.05 236.7H149.79V238.15H140.05zM169.28 238.15H179.03V239.6H169.28zM130.3 241.05H140.05V242.5H130.3zM159.54 242.5H169.28V243.95H159.54zM140.05 243.95H149.79V245.4H140.05zM140.05 249.7H149.79V251.15H140.05zM227.75 252.6H237.5V254.05H227.75zM169.28 258.45H179.03V259.9H169.28zM130.3 262.8H140.05V264H130.3zM149.79 265.45H159.54V266.9H149.79zM188.77 265.45H198.52V266.9H188.77zM227.75 265.45H237.5V266.9H227.75zM149.79 268.35H159.54V269.8H149.79zM169.28 279.35H179.03V280.8H169.28zM159.54 288.9H169.28V290.35H159.54zM169.28 288.9H179.03V290.35H169.28zM179.03 291.8H188.77V293.25H179.03zM140.05 294.7H149.79V296.15H140.05zM169.28 294.7H179.03V296.15H169.28zM159.54 302.8H169.28V304.25H159.54zM130.3 307.15H140.05V308H130.3zM149.79 308H159.54V309.45H149.79zM130.3 309.45H140.05V310.9H130.3zM169.28 321.45H179.03V322.9H169.28zM169.28 324.35H179.03V325.8H169.28zM179.03 325.8H188.77V327.25H179.03zM218.01 325.8H227.75V327.25H218.01zM169.28 330.15H179.03V331H169.28zM227.75 331H237.5V332.45H227.75zM130.3 333.9H140.05V335.35H130.3zM149.79 336.8H159.54V338.25H149.79zM159.54 338.25H169.28V339.7H159.54zM227.75 339.7H237.5V341.15H227.75zM218.01 344.9H227.75V346.35H218.01zM218.01 346.35H227.75V347.8H218.01zM149.79 349.25H159.54V350.7H149.79zM218.01 349.25H227.75V350.7H218.01zM149.79 352.15H159.54V353H149.79zM159.54 357.35H169.28V358.8H159.54zM179.03 361.7H188.77V363.15H179.03zM140.05 364H149.79V365.45H140.05zM149.79 365.45H159.54V366.9H149.79zM130.3 371.25H140.05V372.5H130.3zM169.28 371.25H179.03V372.5H169.28z"/>
<path fill="#a23234" d="M188.77 76.8H198.52V78.25H188.77zM169.28 88.25H179.03V90H169.28zM179.03 97.25H188.77V98.7H179.03zM130.3 102.9H140.05V104.35H130.3zM159.54 108.7H169.28V110H159.54zM149.79 111.45H159.54V112.9H149.79zM179.03 120H188.77V121.45H179.03zM179.03 127.25H188.77V128.7H179.03zM140.05 131H149.79V132.45H140.05zM140.05 139.7H149.79V141H140.05zM227.75 143.9H237.5V145.35H227.75zM130.3 149.7H140.05V151H130.3zM227.75 149.7H237.5V151H227.75zM227.75 158.25H237.5V159.7H227.75zM140.05 168H149.79V169.45H140.05zM130.3 170.9H140.05V172.35H130.3zM140.05 172.35H149.79V173.8H140.05zM159.54 176H169.28V177.45H159.54zM159.54 178.9H169.28V180.35H159.54zM130.3 180.35H140.05V181.8H130.3zM227.75 184.7H237.5V186H227.75zM140.05 187.45H149.79V188.9H140.05zM179.03 194.7H188.77V196H179.03zM227.75 210.35H237.5V211.8H227.75zM159.54 216.5H169.28V217.95H159.54zM140.05 219.4H149.79V220.85H140.05zM227.75 226.6H237.5V228.05H227.75zM149.79 239.6H159.54V241.05H149.79zM179.03 249.7H188.77V251.15H179.03zM169.28 255.5H179.03V257H169.28zM140.05 258.45H149.79V259.9H140.05zM159.54 261.35H169.28V262.8H159.54zM159.54 272.7H169.28V274.15H159.54zM179.03 279.35H188.77V280.8H179.03zM179.03 280.8H188.77V282.25H179.03zM140.05 283.7H149.79V285.15H140.05zM140.05 286H149.79V287.45H140.05zM140.05 287.45H149.79V288.9H140.05zM159.54 290.35H169.28V291.8H159.54zM227.75 293.25H237.5V294.7H227.75zM179.03 297H188.77V298.45H179.03zM227.75 308H237.5V309.45H227.75zM149.79 312.35H159.54V313.8H149.79zM140.05 316.7H149.79V318.15H140.05zM179.03 318.15H188.77V320H179.03zM149.79 324.35H159.54V325.8H149.79zM227.75 330.15H237.5V331H227.75zM179.03 335.35H188.77V336.8H179.03zM227.75 335.35H237.5V336.8H227.75zM140.05 344.9H149.79V346.35H140.05zM140.05 352.15H149.79V353H140.05zM179.03 355.9H188.77V357.35H179.03zM227.75 355.9H237.5V357.35H227.75zM179.03 358.8H188.77V360.25H179.03zM149.79 363.15H159.54V364H149.79zM149.79 368.35H159.54V369.8H149.79zM169.28 368.35H179.03V369.8H169.28zM130.3 369.8H140.05V371.25H130.3z"/>
<path fill="#d7373c" d="M208.26 76.8H218.01V78.25H208.26zM130.3 97.25H140.05V98.7H130.3zM169.28 97.25H179.03V98.7H169.28zM179.03 98.7H188.77V100H179.03zM130.3 107.25H140.05V108.7H130.3zM159.54 124.35H169.28V125.8H159.54zM179.03 128.7H188.77V130.15H179.03zM179.03 131H188.77V132.45H179.03zM149.79 158.25H159.54V159.7H149.79zM179.03 175.25H188.77V176H179.03zM179.03 180.35H188.77V181.8H179.03zM149.79 241.05H159.54V242.5H149.79zM227.75 242.5H237.5V243.95H227.75zM169.28 285.15H179.03V286H169.28zM227.75 286H237.5V287.45H227.75zM149.79 293.25H159.54V294.7H149.79zM227.75 294.7H237.5V296.15H227.75zM227.75 297H237.5V298.45H227.75zM159.54 305.7H169.28V307.15H159.54zM140.05 310.9H149.79V312.35H140.05zM227.75 327.25H237.5V328.7H227.75zM179.03 330.15H188.77V331H179.03z"/>
<path fill="#6e2c2d" d="M198.52 79.7H208.26V81H198.52zM218.01 79.7H227.75V81H218.01zM130.3 81H140.05V82.45H130.3zM140.05 81H149.79V82.45H140.05zM140.05 82.45H149.79V83.9H140.05zM159.54 82.45H169.28V83.9H159.54zM149.79 94.35H159.54V95.8H149.79zM169.28 95.8H179.03V97.25H169.28zM169.28 98.7H179.03V100H169.28zM149.79 101.45H159.54V102.9H149.79zM169.28 104.35H179.03V105.8H169.28zM159.54 105.8H169.28V107.25H159.54zM140.05 111.45H149.79V112.9H140.05zM169.28 111.45H179.03V112.9H169.28zM159.54 112.9H169.28V114.35H159.54zM149.79 114.35H159.54V115.8H149.79zM149.79 118.7H159.54V120H149.79zM140.05 121.45H149.79V122.9H140.05zM130.3 122.9H140.05V124.35H130.3zM169.28 127.25H179.03V128.7H169.28zM140.05 130.15H149.79V131H140.05zM159.54 131H169.28V132.45H159.54zM140.05 136.8H149.79V138.25H140.05zM149.79 138.25H159.54V139.7H149.79zM149.79 139.7H159.54V141H149.79zM179.03 141H188.77V142.45H179.03zM140.05 143.9H149.79V145.35H140.05zM169.28 143.9H179.03V145.35H169.28zM149.79 148.25H159.54V149.7H149.79zM149.79 149.7H159.54V151H149.79zM149.79 151H159.54V152.45H149.79zM159.54 151H169.28V152.45H159.54zM179.03 152.45H188.77V153.9H179.03zM227.75 152.45H237.5V153.9H227.75zM179.03 156.8H188.77V158.25H179.03zM130.3 158.25H140.05V159.7H130.3zM149.79 159.7H159.54V161H149.79zM140.05 166.8H149.79V168H140.05zM159.54 169.45H169.28V170.9H159.54zM179.03 177.45H188.77V178.9H179.03zM227.75 178.9H237.5V180.35H227.75zM140.05 184.7H149.79V186H140.05zM159.54 187.45H169.28V188.9H159.54zM159.54 190.35H169.28V191.8H159.54zM179.03 190.35H188.77V191.8H179.03zM140.05 194.7H149.79V196H140.05zM169.28 194.7H179.03V196H169.28zM159.54 200.35H169.28V201.8H159.54zM159.54 201.8H169.28V203.25H159.54zM159.54 203.25H169.28V204.7H159.54zM130.3 204.7H140.05V206H130.3zM159.54 204.7H169.28V206H159.54zM159.54 206H169.28V207.45H159.54zM130.3 210.35H140.05V211.8H130.3zM140.05 213.25H149.79V214.7H140.05zM169.28 217.95H179.03V219.4H169.28zM130.3 220.85H140.05V222.3H130.3zM149.79 223.75H159.54V225.2H149.79zM130.3 225.2H140.05V226.6H130.3zM227.75 225.2H237.5V226.6H227.75zM179.03 226.6H188.77V228.05H179.03zM159.54 228.05H169.28V229.5H159.54zM179.03 229.5H188.77V230.95H179.03zM140.05 230.95H149.79V232.4H140.05zM130.3 235.3H140.05V236.7H130.3zM140.05 238.15H149.79V239.6H140.05zM227.75 241.05H237.5V242.5H227.75zM179.03 242.5H188.77V243.95H179.03zM169.28 243.95H179.03V245.4H169.28zM169.28 249.7H179.03V251.15H169.28zM130.3 258.45H140.05V259.9H130.3zM140.05 261.35H149.79V262.8H140.05zM149.79 261.35H159.54V262.8H149.79zM227.75 261.35H237.5V262.8H227.75zM227.75 266.9H237.5V268.35H227.75zM149.79 271.25H159.54V272.7H149.79zM140.05 272.7H149.79V274.15H140.05zM179.03 274.15H188.77V275H179.03zM140.05 275H149.79V276.45H140.05zM218.01 276.45H227.75V277.9H218.01zM159.54 286H169.28V287.45H159.54zM227.75 287.45H237.5V288.9H227.75zM169.28 291.8H179.03V293.25H169.28zM227.75 291.8H237.5V293.25H227.75zM140.05 296.15H149.79V297H140.05zM130.3 298.45H140.05V299.9H130.3zM159.54 298.45H169.28V299.9H159.54zM130.3 299.9H140.05V301.35H130.3zM140.05 301.35H149.79V302.8H140.05zM169.28 308H179.03V309.45H169.28zM159.54 309.45H169.28V310.9H159.54zM169.28 312.35H179.03V313.8H169.28zM179.03 312.35H188.77V313.8H179.03zM159.54 313.8H169.28V315.25H159.54zM169.28 313.8H179.03V315.25H169.28zM218.01 313.8H227.75V315.25H218.01zM227.75 322.9H237.5V324.35H227.75zM140.05 327.25H149.79V328.7H140.05zM159.54 327.25H169.28V328.7H159.54zM159.54 330.15H169.28V331H159.54zM140.05 332.45H149.79V333.9H140.05zM179.03 332.45H188.77V333.9H179.03zM140.05 335.35H149.79V336.8H140.05zM227.75 338.25H237.5V339.7H227.75zM149.79 342H159.54V343.45H149.79zM169.28 342H179.03V343.45H169.28zM140.05 343.45H149.79V344.9H140.05zM179.03 343.45H188.77V344.9H179.03zM179.03 347.8H188.77V349.25H179.03zM227.75 349.25H237.5V350.7H227.75zM179.03 352.15H188.77V353H179.03zM159.54 355.9H169.28V357.35H159.54zM130.3 358.8H140.05V360.25H130.3zM149.79 360.25H159.54V361.7H149.79zM159.54 364H169.28V365.45H159.54zM227.75 364H237.5V365.45H227.75zM179.03 366.9H188.77V368.35H179.03zM149.79 369.8H159.54V371.25H149.79z"/>
<path fill="#ca363a" d="M208.26 79.7H218.01V81H208.26zM159.54 91.45H169.28V92.9H159.54zM130.3 92.9H140.05V94.35H130.3zM140.05 92.9H149.79V94.35H140.05zM130.3 105.8H140.05V107.25H130.3zM179.03 122.9H188.77V124.35H179.03zM130.3 127.25H140.05V128.7H130.3zM169.28 130.15H179.03V131H169.28zM159.54 141H169.28V142.45H159.54zM227.75 141H237.5V142.45H227.75zM179.03 168H188.77V169.45H179.03zM227.75 169.45H237.5V170.9H227.75zM179.03 172.35H188.77V173.8H179.03zM140.05 186H149.79V187.45H140.05zM159.54 188.9H169.28V190.35H159.54zM159.54 193.25H169.28V194.7H159.54zM149.79 198.9H159.54V200.35H149.79zM149.79 208.9H159.54V210.35H149.79zM140.05 217.95H149.79V219.4H140.05zM159.54 230.95H169.28V232.4H159.54zM140.05 232.4H149.79V233.85H140.05zM159.54 233.85H169.28V235.3H159.54zM169.28 239.6H179.03V241.05H169.28zM227.75 248.25H237.5V249.7H227.75zM130.3 251.15H140.05V252.6H130.3zM149.79 257H159.54V258.45H149.79zM179.03 283.7H188.77V285.15H179.03zM149.79 294.7H159.54V296.15H149.79zM179.03 309.45H188.77V310.9H179.03zM159.54 344.9H169.28V346.35H159.54zM169.28 357.35H179.03V358.8H169.28zM179.03 364H188.77V365.45H179.03z"/>
<path fill="#532a29" d="M159.54 81H169.28V82.45H159.54zM169.28 81H179.03V82.45H169.28zM227.75 85.35H237.5V86.8H227.75zM130.3 91.45H140.05V92.9H130.3zM169.28 94.35H179.03V95.8H169.28zM130.3 111.45H140.05V112.9H130.3zM169.28 114.35H179.03V115.8H169.28zM149.79 115.8H159.54V117.25H149.79zM130.3 117.25H140.05V118.7H130.3zM179.03 117.25H188.77V118.7H179.03zM169.28 125.8H179.03V127.25H169.28zM130.3 130.15H140.05V131H130.3zM227.75 133.9H237.5V135.35H227.75zM227.75 146.8H237.5V148.25H227.75zM130.3 148.25H140.05V149.7H130.3zM140.05 153.9H149.79V155.35H140.05zM227.75 153.9H237.5V155.35H227.75zM179.03 155.35H188.77V156.8H179.03zM159.54 158.25H169.28V159.7H159.54zM140.05 159.7H149.79V161H140.05zM169.28 159.7H179.03V161H169.28zM227.75 163.9H237.5V165.35H227.75zM149.79 165.35H159.54V166.8H149.79zM130.3 168H140.05V169.45H130.3zM149.79 172.35H159.54V173.8H149.79zM149.79 173.8H159.54V175.25H149.79zM159.54 175.25H169.28V176H159.54zM227.75 175.25H237.5V176H227.75zM169.28 180.35H179.03V181.8H169.28zM179.03 181.8H188.77V183.25H179.03zM130.3 184.7H140.05V186H130.3zM130.3 187.45H140.05V188.9H130.3zM179.03 188.9H188.77V190.35H179.03zM149.79 193.25H159.54V194.7H149.79zM227.75 194.7H237.5V196H227.75zM149.79 196H159.54V197.45H149.79zM179.03 200.35H188.77V201.8H179.03zM140.05 201.8H149.79V203.25H140.05zM179.03 204.7H188.77V206H179.03zM130.3 207.45H140.05V208.9H130.3zM227.75 207.45H237.5V208.9H227.75zM227.75 211.8H237.5V213.25H227.75zM218.01 213.25H227.75V214.7H218.01zM169.28 214.7H179.03V216.5H169.28zM130.3 223.75H140.05V225.2H130.3zM169.28 225.2H179.03V226.6H169.28zM130.3 226.6H140.05V228.05H130.3zM179.03 233.85H188.77V235.3H179.03zM149.79 238.15H159.54V239.6H149.79zM179.03 239.6H188.77V241.05H179.03zM140.05 242.5H149.79V243.95H140.05zM149.79 242.5H159.54V243.95H149.79zM149.79 245.4H159.54V246.8H149.79zM179.03 246.8H188.77V248.25H179.03zM227.75 254.05H237.5V255.5H227.75zM130.3 255.5H140.05V257H130.3zM227.75 257H237.5V258.45H227.75zM140.05 259.9H149.79V261.35H140.05zM169.28 264H179.03V265.45H169.28zM159.54 265.45H169.28V266.9H159.54zM169.28 266.9H179.03V268.35H169.28zM140.05 268.35H149.79V269.8H140.05zM227.75 269.8H237.5V271.25H227.75zM159.54 279.35H169.28V280.8H159.54zM149.79 280.8H159.54V282.25H149.79zM149.79 282.25H159.54V283.7H149.79zM169.28 282.25H179.03V283.7H169.28zM218.01 283.7H227.75V285.15H218.01zM159.54 285.15H169.28V286H159.54zM169.28 286H179.03V287.45H169.28zM179.03 293.25H188.77V294.7H179.03zM227.75 296.15H237.5V297H227.75zM159.54 297H169.28V298.45H159.54zM227.75 298.45H237.5V299.9H227.75zM227.75 301.35H237.5V302.8H227.75zM169.28 305.7H179.03V307.15H169.28zM159.54 307.15H169.28V308H159.54zM179.03 307.15H188.77V308H179.03zM169.28 309.45H179.03V310.9H169.28zM130.3 310.9H140.05V312.35H130.3zM159.54 312.35H169.28V313.8H159.54zM159.54 322.9H169.28V324.35H159.54zM130.3 327.25H140.05V328.7H130.3zM218.01 327.25H227.75V328.7H218.01zM130.3 328.7H140.05V330.15H130.3zM140.05 331H149.79V332.45H140.05zM218.01 331H227.75V332.45H218.01zM169.28 333.9H179.03V335.35H169.28zM188.77 336.8H198.52V338.25H188.77zM159.54 339.7H169.28V341.15H159.54zM140.05 346.35H149.79V347.8H140.05zM179.03 346.35H188.77V347.8H179.03zM130.3 347.8H140.05V349.25H130.3zM159.54 347.8H169.28V349.25H159.54zM169.28 349.25H179.03V350.7H169.28zM169.28 352.15H179.03V353H169.28zM227.75 352.15H237.5V353H227.75zM140.05 353H149.79V354.45H140.05zM159.54 353H169.28V354.45H159.54zM140.05 354.45H149.79V355.9H140.05zM179.03 354.45H188.77V355.9H179.03zM179.03 357.35H188.77V358.8H179.03zM140.05 360.25H149.79V361.7H140.05zM159.54 363.15H169.28V364H159.54zM227.75 365.45H237.5V366.9H227.75z"/>
<path fill="#2c2624" d="M179.03 82.45H188.77V83.9H179.03zM140.05 83.9H149.79V85.35H140.05zM149.79 85.35H159.54V86.8H149.79zM130.3 86.8H140.05V88.25H130.3zM188.77 95.8H198.52V97.25H188.77zM227.75 100H237.5V101.45H227.75zM218.01 107.25H227.75V108.7H218.01zM179.03 112.9H188.77V114.35H179.03zM159.54 120H169.28V121.45H159.54zM179.03 124.35H188.77V125.8H179.03zM149.79 136.8H159.54V138.25H149.79zM159.54 136.8H169.28V138.25H159.54zM179.03 162.45H188.77V163.9H179.03zM140.05 165.35H149.79V166.8H140.05zM130.3 166.8H140.05V168H130.3zM159.54 166.8H169.28V168H159.54zM179.03 183.25H188.77V184.7H179.03zM227.75 183.25H237.5V184.7H227.75zM208.26 188.9H218.01V190.35H208.26zM130.3 197.45H140.05V198.9H130.3zM130.3 200.35H140.05V201.8H130.3zM198.52 200.35H208.26V201.8H198.52zM130.3 201.8H140.05V203.25H130.3zM130.3 206H140.05V207.45H130.3zM218.01 208.9H227.75V210.35H218.01zM169.28 216.5H179.03V217.95H169.28zM188.77 217.95H198.52V219.4H188.77zM188.77 222.3H198.52V223.75H188.77zM169.28 223.75H179.03V225.2H169.28zM169.28 230.95H179.03V232.4H169.28zM130.3 232.4H140.05V233.85H130.3zM218.01 232.4H227.75V233.85H218.01zM169.28 233.85H179.03V235.3H169.28zM130.3 242.5H140.05V243.95H130.3zM130.3 246.8H140.05V248.25H130.3zM149.79 251.15H159.54V252.6H149.79zM169.28 254.05H179.03V255.5H169.28zM159.54 257H169.28V258.45H159.54zM179.03 268.35H188.77V269.8H179.03zM159.54 271.25H169.28V272.7H159.54zM130.3 272.7H140.05V274.15H130.3zM149.79 272.7H159.54V274.15H149.79zM169.28 275H179.03V276.45H169.28zM218.01 280.8H227.75V282.25H218.01zM218.01 282.25H227.75V283.7H218.01zM169.28 283.7H179.03V285.15H169.28zM188.77 297H198.52V298.45H188.77zM149.79 299.9H159.54V301.35H149.79zM130.3 302.8H140.05V304.25H130.3zM140.05 307.15H149.79V308H140.05zM149.79 307.15H159.54V308H149.79zM149.79 310.9H159.54V312.35H149.79zM169.28 310.9H179.03V312.35H169.28zM130.3 313.8H140.05V315.25H130.3zM130.3 316.7H140.05V318.15H130.3zM159.54 318.15H169.28V320H159.54zM159.54 325.8H169.28V327.25H159.54zM140.05 328.7H149.79V330.15H140.05zM169.28 328.7H179.03V330.15H169.28zM159.54 331H169.28V332.45H159.54zM169.28 335.35H179.03V336.8H169.28zM140.05 336.8H149.79V338.25H140.05zM159.54 336.8H169.28V338.25H159.54zM179.03 336.8H188.77V338.25H179.03zM218.01 336.8H227.75V338.25H218.01zM227.75 336.8H237.5V338.25H227.75zM169.28 338.25H179.03V339.7H169.28zM130.3 339.7H140.05V341.15H130.3zM169.28 339.7H179.03V341.15H169.28zM188.77 341.15H198.52V342H188.77zM227.75 344.9H237.5V346.35H227.75zM169.28 346.35H179.03V347.8H169.28zM140.05 357.35H149.79V358.8H140.05zM149.79 357.35H159.54V358.8H149.79zM159.54 358.8H169.28V360.25H159.54zM169.28 358.8H179.03V360.25H169.28zM179.03 360.25H188.77V361.7H179.03z"/>
<path fill="#8c96a0" d="M130.3 90H140.05V91.45H130.3zM198.52 101.45H208.26V102.9H198.52zM169.28 208.9H179.03V210.35H169.28zM227.75 259.9H237.5V261.35H227.75zM208.26 265.45H218.01V266.9H208.26zM208.26 285.15H218.01V286H208.26zM149.79 309.45H159.54V310.9H149.79zM188.77 310.9H198.52V312.35H188.77z"/>
<path fill="#b03336" d="M169.28 90H179.03V91.45H169.28zM159.54 92.9H169.28V94.35H159.54zM130.3 104.35H140.05V105.8H130.3zM149.79 105.8H159.54V107.25H149.79zM169.28 105.8H179.03V107.25H169.28zM179.03 110H188.77V111.45H179.03zM130.3 120H140.05V121.45H130.3zM140.05 127.25H149.79V128.7H140.05zM179.03 135.35H188.77V136.8H179.03zM169.28 139.7H179.03V141H169.28zM140.05 141H149.79V142.45H140.05zM140.05 146.8H149.79V148.25H140.05zM159.54 149.7H169.28V151H159.54zM179.03 159.7H188.77V161H179.03zM149.79 162.45H159.54V163.9H149.79zM179.03 169.45H188.77V170.9H179.03zM140.05 173.8H149.79V175.25H140.05zM149.79 178.9H159.54V180.35H149.79zM159.54 181.8H169.28V183.25H159.54zM179.03 186H188.77V187.45H179.03zM140.05 190.35H149.79V191.8H140.05zM227.75 193.25H237.5V194.7H227.75zM130.3 194.7H140.05V196H130.3zM130.3 203.25H140.05V204.7H130.3zM140.05 208.9H149.79V210.35H140.05zM130.3 216.5H140.05V217.95H130.3zM140.05 225.2H149.79V226.6H140.05zM169.28 229.5H179.03V230.95H169.28zM169.28 235.3H179.03V236.7H169.28zM159.54 236.7H169.28V238.15H159.54zM179.03 238.15H188.77V239.6H179.03zM149.79 248.25H159.54V249.7H149.79zM179.03 248.25H188.77V249.7H179.03zM130.3 259.9H140.05V261.35H130.3zM179.03 261.35H188.77V262.8H179.03zM227.75 264H237.5V265.45H227.75zM149.79 275H159.54V276.45H149.79zM159.54 276.45H169.28V277.9H159.54zM149.79 279.35H159.54V280.8H149.79zM140.05 282.25H149.79V283.7H140.05zM179.03 282.25H188.77V283.7H179.03zM159.54 301.35H169.28V302.8H159.54zM227.75 305.7H237.5V307.15H227.75zM227.75 307.15H237.5V308H227.75zM140.05 309.45H149.79V310.9H140.05zM140.05 312.35H149.79V313.8H140.05zM169.28 318.15H179.03V320H169.28zM149.79 321.45H159.54V322.9H149.79zM149.79 327.25H159.54V328.7H149.79zM149.79 328.7H159.54V330.15H149.79zM159.54 328.7H169.28V330.15H159.54zM159.54 333.9H169.28V335.35H159.54zM140.05 358.8H149.79V360.25H140.05zM140.05 361.7H149.79V363.15H140.05zM130.3 365.45H140.05V366.9H130.3zM130.3 368.35H140.05V369.8H130.3zM159.54 371.25H169.28V372.5H159.54zM227.75 371.25H237.5V372.5H227.75z"/>
<path fill="#e4383e" d="M179.03 91.45H188.77V92.9H179.03zM159.54 94.35H169.28V95.8H159.54zM179.03 108.7H188.77V110H179.03zM140.05 117.25H149.79V118.7H140.05zM140.05 132.45H149.79V133.9H140.05zM169.28 132.45H179.03V133.9H169.28zM179.03 132.45H188.77V133.9H179.03zM179.03 139.7H188.77V141H179.03zM149.79 142.45H159.54V143.9H149.79zM140.05 148.25H149.79V149.7H140.05zM159.54 180.35H169.28V181.8H159.54zM130.3 188.9H140.05V190.35H130.3zM140.05 188.9H149.79V190.35H140.05zM149.79 197.45H159.54V198.9H149.79zM149.79 203.25H159.54V204.7H149.79zM149.79 213.25H159.54V214.7H149.79zM149.79 214.7H159.54V216.5H149.79zM227.75 243.95H237.5V245.4H227.75zM179.03 251.15H188.77V252.6H179.03zM179.03 258.45H188.77V259.9H179.03zM159.54 266.9H169.28V268.35H159.54zM159.54 268.35H169.28V269.8H159.54zM140.05 277.9H149.79V279.35H140.05zM179.03 277.9H188.77V279.35H179.03zM149.79 285.15H159.54V286H149.79zM149.79 288.9H159.54V290.35H149.79zM227.75 309.45H237.5V310.9H227.75zM179.03 313.8H188.77V315.25H179.03zM140.05 318.15H149.79V320H140.05zM179.03 320H188.77V321.45H179.03zM227.75 321.45H237.5V322.9H227.75zM159.54 346.35H169.28V347.8H159.54zM149.79 366.9H159.54V368.35H149.79zM159.54 368.35H169.28V369.8H159.54zM159.54 369.8H169.28V371.25H159.54z"/>
<rect x="330.60" y="38.60" width="9.80" height="7.11" fill="#2d332d"/>
<rect x="340.35" y="38.60" width="9.80" height="7.11" fill="#2e5a2e"/>
<rect x="350.09" y="38.60" width="9.80" height="7.11" fill="#234023"/>
<rect x="359.84" y="38.60" width="9.80" height="7.11" fill="#2a4a2a"/>
<rect x="369.58" y="38.60" width="9.80" height="7.11" fill="#234023"/>
<rect x="379.33" y="38.60" width="9.80" height="7.11" fill="#a0a8a8"/>
<rect x="389.07" y="38.60" width="9.80" height="7.11" fill="#922e28"/>
<rect x="398.82" y="38.60" width="9.80" height="7.11" fill="#8a9ab0"/>
<rect x="408.56" y="38.60" width="9.80" height="7.11" fill="#812e28"/>
<rect x="418.31" y="38.60" width="9.80" height="7.11" fill="#812e28"/>
<rect x="428.05" y="38.60" width="9.80" height="7.11" fill="#2a4a2a"/>
<rect x="330.60" y="45.66" width="9.80" height="7.11" fill="#9aa0a0"/>
<rect x="340.35" y="45.66" width="9.80" height="7.11" fill="#3e7137"/>
<rect x="350.09" y="45.66" width="9.80" height="7.11" fill="#47823f"/>
<rect x="359.84" y="45.66" width="9.80" height="7.11" fill="#1e3a1e"/>
<rect x="369.58" y="45.66" width="9.80" height="7.11" fill="#2a2a2a"/>
<rect x="379.33" y="45.66" width="9.80" height="7.11" fill="#244a30"/>
<rect x="389.07" y="45.66" width="9.80" height="7.11" fill="#a92e28"/>
<rect x="398.82" y="45.66" width="9.80" height="7.11" fill="#a93428"/>
<rect x="408.56" y="45.66" width="9.80" height="7.11" fill="#922e28"/>
<rect x="418.31" y="45.66" width="9.80" height="7.11" fill="#812e28"/>
<rect x="428.05" y="45.66" width="9.80" height="7.11" fill="#4e8245"/>
<rect x="330.60" y="52.72" width="9.80" height="7.11" fill="#4e9345"/>
<rect x="340.35" y="52.72" width="9.80" height="7.11" fill="#4e9345"/>
<rect x="350.09" y="52.72" width="9.80" height="7.11" fill="#4e8245"/>
<rect x="359.84" y="52.72" width="9.80" height="7.11" fill="#2a4a2a"/>
<rect x="369.58" y="52.72" width="9.80" height="7.11" fill="#56ab4c"/>
<rect x="379.33" y="52.72" width="9.80" height="7.11" fill="#2a2a2a"/>
<rect x="389.07" y="52.72" width="9.80" height="7.11" fill="#ba342e"/>
<rect x="398.82" y="52.72" width="9.80" height="7.11" fill="#ba342e"/>
<rect x="408.56" y="52.72" width="9.80" height="7.11" fill="#cb3a3c"/>
<rect x="418.31" y="52.72" width="9.80" height="7.11" fill="#cb3a3c"/>
<rect x="428.05" y="52.72" width="9.80" height="7.11" fill="#222222"/>
<rect x="330.60" y="59.78" width="9.80" height="7.11" fill="#4e9345"/>
<rect x="340.35" y="59.78" width="9.80" height="7.11" fill="#1a2a1a"/>
<rect x="350.09" y="59.78" width="9.80" height="7.11" fill="#47773f"/>
<rect x="359.84" y="59.78" width="9.80" height="7.11" fill="#4e8245"/>
<rect x="369.58" y="59.78" width="9.80" height="7.11" fill="#477d3f"/>
<rect x="379.33" y="59.78" width="9.80" height="7.11" fill="#477d3f"/>
<rect x="389.07" y="59.78" width="9.80" height="7.11" fill="#a92e28"/>
<rect x="398.82" y="59.78" width="9.80" height="7.11" fill="#ba342e"/>
<rect x="408.56" y="59.78" width="9.80" height="7.11" fill="#812e28"/>
<rect x="418.31" y="59.78" width="9.80" height="7.11" fill="#812e28"/>
<rect x="428.05" y="59.78" width="9.80" height="7.11" fill="#2a2a2a"/>
<rect x="330.60" y="66.84" width="9.80" height="7.11" fill="#4e9345"/>
<rect x="340.35" y="66.84" width="9.80" height="7.11" fill="#47823f"/>
<rect x="350.09" y="66.84" width="9.80" height="7.11" fill="#222a22"/>
<rect x="359.84" y="66.84" width="9.80" height="7.11" fill="#4e8845"/>
<rect x="369.58" y="66.84" width="9.80" height="7.11" fill="#2e5a2e"/>
<rect x="379.33" y="66.84" width="9.80" height="7.11" fill="#4e8245"/>
<rect x="389.07" y="66.84" width="9.80" height="7.11" fill="#702e28"/>
<rect x="398.82" y="66.84" width="9.80" height="7.11" fill="#cb343c"/>
<rect x="408.56" y="66.84" width="9.80" height="7.11" fill="#812e28"/>
<rect x="418.31" y="66.84" width="9.80" height="7.11" fill="#812e28"/>
<rect x="428.05" y="66.84" width="9.80" height="7.11" fill="#2a4a2a"/>
<rect x="330.60" y="73.90" width="9.80" height="7.11" fill="#4e9345"/>
<rect x="340.35" y="73.90" width="9.80" height="7.11" fill="#2a222a"/>
<rect x="350.09" y="73.90" width="9.80" height="7.11" fill="#47823f"/>
<rect x="359.84" y="73.90" width="9.80" height="7.11" fill="#4e8845"/>
<rect x="369.58" y="73.90" width="9.80" height="7.11" fill="#2a4a2a"/>
<rect x="379.33" y="73.90" width="9.80" height="7.11" fill="#a0a8b0"/>
<rect x="389.07" y="73.90" width="9.80" height="7.11" fill="#702e28"/>
<rect x="398.82" y="73.90" width="9.80" height="7.11" fill="#a92e28"/>
<rect x="408.56" y="73.90" width="9.80" height="7.11" fill="#812e28"/>
<rect x="418.31" y="73.90" width="9.80" height="7.11" fill="#872e28"/>
<rect x="428.05" y="73.90" width="9.80" height="7.11" fill="#2a4a2a"/>
<rect x="330.60" y="80.96" width="9.80" height="7.11" fill="#47823f"/>
<rect x="340.35" y="80.96" width="9.80" height="7.11" fill="#1e2e1e"/>
<rect x="350.09" y="80.96" width="9.80" height="7.11" fill="#223022"/>
<rect x="359.84" y="80.96" width="9.80" height="7.11" fill="#4e8245"/>
<rect x="369.58" y="80.96" width="9.80" height="7.11" fill="#223022"/>
<rect x="379.33" y="80.96" width="9.80" height="7.11" fill="#223322"/>
<rect x="389.07" y="80.96" width="9.80" height="7.11" fill="#702e28"/>
<rect x="398.82" y="80.96" width="9.80" height="7.11" fill="#812e28"/>
<rect x="408.56" y="80.96" width="9.80" height="7.11" fill="#812e28"/>
<rect x="418.31" y="80.96" width="9.80" height="7.11" fill="#a92e28"/>
<rect x="428.05" y="80.96" width="9.80" height="7.11" fill="#2a3a2a"/>
<rect x="330.60" y="88.02" width="9.80" height="7.11" fill="#4e8845"/>
<rect x="340.35" y="88.02" width="9.80" height="7.11" fill="#3e7137"/>
<rect x="350.09" y="88.02" width="9.80" height="7.11" fill="#a8b0b0"/>
<rect x="359.84" y="88.02" width="9.80" height="7.11" fill="#4e9345"/>
<rect x="369.58" y="88.02" width="9.80" height="7.11" fill="#4e8845"/>
<rect x="379.33" y="88.02" width="9.80" height="7.11" fill="#a0a8a8"/>
<rect x="389.07" y="88.02" width="9.80" height="7.11" fill="#762e28"/>
<rect x="398.82" y="88.02" width="9.80" height="7.11" fill="#a92e28"/>
<rect x="408.56" y="88.02" width="9.80" height="7.11" fill="#ba342e"/>
<rect x="418.31" y="88.02" width="9.80" height="7.11" fill="#ba342e"/>
<rect x="428.05" y="88.02" width="9.80" height="7.11" fill="#4e9345"/>
<rect x="330.60" y="95.08" width="9.80" height="7.11" fill="#223022"/>
<rect x="340.35" y="95.08" width="9.80" height="7.11" fill="#2a4a2a"/>
<rect x="350.09" y="95.08" width="9.80" height="7.11" fill="#2a2a2a"/>
<rect x="359.84" y="95.08" width="9.80" height="7.11" fill="#2a4a2a"/>
<rect x="369.58" y="95.08" width="9.80" height="7.11" fill="#2a332a"/>
<rect x="379.33" y="95.08" width="9.80" height="7.11" fill="#223022"/>
<rect x="389.07" y="95.08" width="9.80" height="7.11" fill="#702e28"/>
<rect x="398.82" y="95.08" width="9.80" height="7.11" fill="#8a9aa8"/>
<rect x="408.56" y="95.08" width="9.80" height="7.11" fill="#812e28"/>
<rect x="418.31" y="95.08" width="9.80" height="7.11" fill="#922e28"/>
<rect x="428.05" y="95.08" width="9.80" height="7.11" fill="#2a2a2a"/>
<rect x="330.60" y="110.90" width="9.80" height="7.15" fill="#812e2a"/>
<rect x="340.35" y="110.90" width="9.80" height="7.15" fill="#702e28"/>
<rect x="350.09" y="110.90" width="9.80" height="7.15" fill="#a32e28"/>
<rect x="359.84" y="110.90" width="9.80" height="7.15" fill="#2a2a2a"/>
<rect x="369.58" y="110.90" width="9.80" height="7.15" fill="#922e28"/>
<rect x="379.33" y="110.90" width="9.80" height="7.15" fill="#302a2a"/>
<rect x="389.07" y="110.90" width="9.80" height="7.15" fill="#3e7137"/>
<rect x="398.82" y="110.90" width="9.80" height="7.15" fill="#3e7137"/>
<rect x="408.56" y="110.90" width="9.80" height="7.15" fill="#4e8245"/>
<rect x="418.31" y="110.90" width="9.80" height="7.15" fill="#2a3a2a"/>
<rect x="428.05" y="110.90" width="9.80" height="7.15" fill="#2a3a2a"/>
<rect x="330.60" y="118.00" width="9.80" height="7.15" fill="#ed463c"/>
<rect x="340.35" y="118.00" width="9.80" height="7.15" fill="#812e2a"/>
<rect x="350.09" y="118.00" width="9.80" height="7.15" fill="#b22e28"/>
<rect x="359.84" y="118.00" width="9.80" height="7.15" fill="#702e28"/>
<rect x="369.58" y="118.00" width="9.80" height="7.15" fill="#a32e28"/>
<rect x="379.33" y="118.00" width="9.80" height="7.15" fill="#2a302a"/>
<rect x="389.07" y="118.00" width="9.80" height="7.15" fill="#4e9345"/>
<rect x="398.82" y="118.00" width="9.80" height="7.15" fill="#4e9345"/>
<rect x="408.56" y="118.00" width="9.80" height="7.15" fill="#4e9345"/>
<rect x="418.31" y="118.00" width="9.80" height="7.15" fill="#3e7137"/>
<rect x="428.05" y="118.00" width="9.80" height="7.15" fill="#3e7137"/>
<rect x="330.60" y="125.10" width="9.80" height="7.15" fill="#ba342e"/>
<rect x="340.35" y="125.10" width="9.80" height="7.15" fill="#a32e28"/>
<rect x="350.09" y="125.10" width="9.80" height="7.15" fill="#a32e28"/>
<rect x="359.84" y="125.10" width="9.80" height="7.15" fill="#8a9aa8"/>
<rect x="369.58" y="125.10" width="9.80" height="7.15" fill="#a92e28"/>
<rect x="379.33" y="125.10" width="9.80" height="7.15" fill="#a92e28"/>
<rect x="389.07" y="125.10" width="9.80" height="7.15" fill="#2a4a2a"/>
<rect x="398.82" y="125.10" width="9.80" height="7.15" fill="#2a4a2a"/>
<rect x="408.56" y="125.10" width="9.80" height="7.15" fill="#4e9345"/>
<rect x="418.31" y="125.10" width="9.80" height="7.15" fill="#222222"/>
<rect x="428.05" y="125.10" width="9.80" height="7.15" fill="#4e9345"/>
<rect x="330.60" y="132.20" width="9.80" height="7.15" fill="#ed463c"/>
<rect x="340.35" y="132.20" width="9.80" height="7.15" fill="#cb3a3c"/>
<rect x="350.09" y="132.20" width="9.80" height="7.15" fill="#cb3a3c"/>
<rect x="359.84" y="132.20" width="9.80" height="7.15" fill="#702e28"/>
<rect x="369.58" y="132.20" width="9.80" height="7.15" fill="#a92e28"/>
<rect x="379.33" y="132.20" width="9.80" height="7.15" fill="#ed463c"/>
<rect x="389.07" y="132.20" width="9.80" height="7.15" fill="#4e9a45"/>
<rect x="398.82" y="132.20" width="9.80" height="7.15" fill="#4e9a45"/>
<rect x="408.56" y="132.20" width="9.80" height="7.15" fill="#4e9a45"/>
<rect x="418.31" y="132.20" width="9.80" height="7.15" fill="#4e9a45"/>
<rect x="428.05" y="132.20" width="9.80" height="7.15" fill="#4e9a45"/>
<rect x="330.60" y="139.30" width="9.80" height="7.15" fill="#dc3f3c"/>
<rect x="340.35" y="139.30" width="9.80" height="7.15" fill="#cb3a3c"/>
<rect x="350.09" y="139.30" width="9.80" height="7.15" fill="#ed5142"/>
<rect x="359.84" y="139.30" width="9.80" height="7.15" fill="#2a2a2a"/>
<rect x="369.58" y="139.30" width="9.80" height="7.15" fill="#a92e28"/>
<rect x="379.33" y="139.30" width="9.80" height="7.15" fill="#a92e28"/>
<rect x="389.07" y="139.30" width="9.80" height="7.15" fill="#4e9a45"/>
<rect x="398.82" y="139.30" width="9.80" height="7.15" fill="#4e9a45"/>
<rect x="408.56" y="139.30" width="9.80" height="7.15" fill="#4e9a45"/>
<rect x="418.31" y="139.30" width="9.80" height="7.15" fill="#4e9a45"/>
<rect x="428.05" y="139.30" width="9.80" height="7.15" fill="#4e9345"/>
<rect x="330.60" y="146.40" width="9.80" height="7.15" fill="#702e28"/>
<rect x="340.35" y="146.40" width="9.80" height="7.15" fill="#3a2a2a"/>
<rect x="350.09" y="146.40" width="9.80" height="7.15" fill="#3a2a2a"/>
<rect x="359.84" y="146.40" width="9.80" height="7.15" fill="#2a2a2a"/>
<rect x="369.58" y="146.40" width="9.80" height="7.15" fill="#702e28"/>
<rect x="379.33" y="146.40" width="9.80" height="7.15" fill="#702e28"/>
<rect x="389.07" y="146.40" width="9.80" height="7.15" fill="#223322"/>
<rect x="398.82" y="146.40" width="9.80" height="7.15" fill="#4e9345"/>
<rect x="408.56" y="146.40" width="9.80" height="7.15" fill="#8a7aa0"/>
<rect x="418.31" y="146.40" width="9.80" height="7.15" fill="#2a4a2a"/>
<rect x="428.05" y="146.40" width="9.80" height="7.15" fill="#2a4a2a"/>
<rect x="330.60" y="153.50" width="9.80" height="7.15" fill="#a32e28"/>
<rect x="340.35" y="153.50" width="9.80" height="7.15" fill="#ba342e"/>
<rect x="350.09" y="153.50" width="9.80" height="7.15" fill="#ba342e"/>
<rect x="359.84" y="153.50" width="9.80" height="7.15" fill="#3a2a2a"/>
<rect x="369.58" y="153.50" width="9.80" height="7.15" fill="#a92e28"/>
<rect x="379.33" y="153.50" width="9.80" height="7.15" fill="#2a2a2a"/>
<rect x="389.07" y="153.50" width="9.80" height="7.15" fill="#223322"/>
<rect x="398.82" y="153.50" width="9.80" height="7.15" fill="#2e5a2e"/>
<rect x="408.56" y="153.50" width="9.80" height="7.15" fill="#2e5a2e"/>
<rect x="418.31" y="153.50" width="9.80" height="7.15" fill="#4e9345"/>
<rect x="428.05" y="153.50" width="9.80" height="7.15" fill="#4e9345"/>
<rect x="330.60" y="160.60" width="9.80" height="7.15" fill="#5f2e28"/>
<rect x="340.35" y="160.60" width="9.80" height="7.15" fill="#ba342e"/>
<rect x="350.09" y="160.60" width="9.80" height="7.15" fill="#ba342e"/>
<rect x="359.84" y="160.60" width="9.80" height="7.15" fill="#2a2a2a"/>
<rect x="369.58" y="160.60" width="9.80" height="7.15" fill="#a92e28"/>
<rect x="379.33" y="160.60" width="9.80" height="7.15" fill="#2a2a2a"/>
<rect x="389.07" y="160.60" width="9.80" height="7.15" fill="#223322"/>
<rect x="398.82" y="160.60" width="9.80" height="7.15" fill="#4e9345"/>
<rect x="408.56" y="160.60" width="9.80" height="7.15" fill="#4e9345"/>
<rect x="418.31" y="160.60" width="9.80" height="7.15" fill="#4e9345"/>
<rect x="428.05" y="160.60" width="9.80" height="7.15" fill="#4e9345"/>
<rect x="330.60" y="167.70" width="9.80" height="7.15" fill="#cb3a3c"/>
<rect x="340.35" y="167.70" width="9.80" height="7.15" fill="#3a2a2a"/>
<rect x="350.09" y="167.70" width="9.80" height="7.15" fill="#ba342e"/>
<rect x="359.84" y="167.70" width="9.80" height="7.15" fill="#922e28"/>
<rect x="369.58" y="167.70" width="9.80" height="7.15" fill="#a92e28"/>
<rect x="379.33" y="167.70" width="9.80" height="7.15" fill="#5f2e28"/>
<rect x="389.07" y="167.70" width="9.80" height="7.15" fill="#2a2a2a"/>
<rect x="398.82" y="167.70" width="9.80" height="7.15" fill="#4e9a45"/>
<rect x="408.56" y="167.70" width="9.80" height="7.15" fill="#4e9a45"/>
<rect x="418.31" y="167.70" width="9.80" height="7.15" fill="#4e9a45"/>
<rect x="428.05" y="167.70" width="9.80" height="7.15" fill="#4e9a45"/>
<rect x="330.60" y="174.80" width="9.80" height="7.15" fill="#2a2a2a"/>
<rect x="340.35" y="174.80" width="9.80" height="7.15" fill="#2a2a2a"/>
<rect x="350.09" y="174.80" width="9.80" height="7.15" fill="#702e28"/>
<rect x="359.84" y="174.80" width="9.80" height="7.15" fill="#2a2a2a"/>
<rect x="369.58" y="174.80" width="9.80" height="7.15" fill="#5f2e28"/>
<rect x="379.33" y="174.80" width="9.80" height="7.15" fill="#3a2a2a"/>
<rect x="389.07" y="174.80" width="9.80" height="7.15" fill="#2a4a2a"/>
<rect x="398.82" y="174.80" width="9.80" height="7.15" fill="#8a80a0"/>
<rect x="408.56" y="174.80" width="9.80" height="7.15" fill="#2a4a2a"/>
<rect x="418.31" y="174.80" width="9.80" height="7.15" fill="#8a80a0"/>
<rect x="428.05" y="174.80" width="9.80" height="7.15" fill="#4e9345"/>
<rect x="330.60" y="181.90" width="9.80" height="7.15" fill="#a92e28"/>
<rect x="340.35" y="181.90" width="9.80" height="7.15" fill="#a92e28"/>
<rect x="350.09" y="181.90" width="9.80" height="7.15" fill="#ba342e"/>
<rect x="359.84" y="181.90" width="9.80" height="7.15" fill="#a92e28"/>
<rect x="369.58" y="181.90" width="9.80" height="7.15" fill="#812e28"/>
<rect x="379.33" y="181.90" width="9.80" height="7.15" fill="#ba342e"/>
<rect x="389.07" y="181.90" width="9.80" height="7.15" fill="#2e5a2e"/>
<rect x="398.82" y="181.90" width="9.80" height="7.15" fill="#4e9345"/>
<rect x="408.56" y="181.90" width="9.80" height="7.15" fill="#4e9345"/>
<rect x="418.31" y="181.90" width="9.80" height="7.15" fill="#4e9345"/>
<rect x="428.05" y="181.90" width="9.80" height="7.15" fill="#4e9345"/>
<rect x="330.60" y="189.00" width="9.80" height="7.15" fill="#812e28"/>
<rect x="340.35" y="189.00" width="9.80" height="7.15" fill="#702e28"/>
<rect x="350.09" y="189.00" width="9.80" height="7.15" fill="#922e28"/>
<rect x="359.84" y="189.00" width="9.80" height="7.15" fill="#812e28"/>
<rect x="369.58" y="189.00" width="9.80" height="7.15" fill="#812e28"/>
<rect x="379.33" y="189.00" width="9.80" height="7.15" fill="#2a3030"/>
<rect x="389.07" y="189.00" width="9.80" height="7.15" fill="#4e9345"/>
<rect x="398.82" y="189.00" width="9.80" height="7.15" fill="#8a80a0"/>
<rect x="408.56" y="189.00" width="9.80" height="7.15" fill="#4e9345"/>
<rect x="418.31" y="189.00" width="9.80" height="7.15" fill="#2a4a2a"/>
<rect x="428.05" y="189.00" width="9.80" height="7.15" fill="#4e9345"/>
<rect x="330.60" y="196.10" width="9.80" height="7.15" fill="#702e28"/>
<rect x="340.35" y="196.10" width="9.80" height="7.15" fill="#a92e28"/>
<rect x="350.09" y="196.10" width="9.80" height="7.15" fill="#a92e28"/>
<rect x="359.84" y="196.10" width="9.80" height="7.15" fill="#922e28"/>
<rect x="369.58" y="196.10" width="9.80" height="7.15" fill="#2a2a2a"/>
<rect x="379.33" y="196.10" width="9.80" height="7.15" fill="#5f2e28"/>
<rect x="389.07" y="196.10" width="9.80" height="7.15" fill="#2e5a2e"/>
<rect x="398.82" y="196.10" width="9.80" height="7.15" fill="#3e7137"/>
<rect x="408.56" y="196.10" width="9.80" height="7.15" fill="#4e9345"/>
<rect x="418.31" y="196.10" width="9.80" height="7.15" fill="#222a22"/>
<rect x="428.05" y="196.10" width="9.80" height="7.15" fill="#4e9345"/>
<rect x="330.60" y="203.20" width="9.80" height="7.15" fill="#ed4642"/>
<rect x="340.35" y="203.20" width="9.80" height="7.15" fill="#dc3f3c"/>
<rect x="350.09" y="203.20" width="9.80" height="7.15" fill="#ed4642"/>
<rect x="359.84" y="203.20" width="9.80" height="7.15" fill="#ed4642"/>
<rect x="369.58" y="203.20" width="9.80" height="7.15" fill="#ed4642"/>
<rect x="379.33" y="203.20" width="9.80" height="7.15" fill="#2a2a2a"/>
<rect x="389.07" y="203.20" width="9.80" height="7.15" fill="#4e9345"/>
<rect x="398.82" y="203.20" width="9.80" height="7.15" fill="#4e9345"/>
<rect x="408.56" y="203.20" width="9.80" height="7.15" fill="#4e9345"/>
<rect x="418.31" y="203.20" width="9.80" height="7.15" fill="#3e7137"/>
<rect x="428.05" y="203.20" width="9.80" height="7.15" fill="#4e9345"/>
<rect x="330.60" y="210.30" width="9.80" height="7.15" fill="#702e28"/>
<rect x="340.35" y="210.30" width="9.80" height="7.15" fill="#812e28"/>
<rect x="350.09" y="210.30" width="9.80" height="7.15" fill="#922e28"/>
<rect x="359.84" y="210.30" width="9.80" height="7.15" fill="#812e28"/>
<rect x="369.58" y="210.30" width="9.80" height="7.15" fill="#812e28"/>
<rect x="379.33" y="210.30" width="9.80" height="7.15" fill="#812e28"/>
<rect x="389.07" y="210.30" width="9.80" height="7.15" fill="#2e5a2e"/>
<rect x="398.82" y="210.30" width="9.80" height="7.15" fill="#8a80a0"/>
<rect x="408.56" y="210.30" width="9.80" height="7.15" fill="#4e9345"/>
<rect x="418.31" y="210.30" width="9.80" height="7.15" fill="#2e5a2e"/>
<rect x="428.05" y="210.30" width="9.80" height="7.15" fill="#4e9345"/>
<rect x="330.60" y="217.40" width="9.80" height="7.15" fill="#ed4642"/>
<rect x="340.35" y="217.40" width="9.80" height="7.15" fill="#ba342e"/>
<rect x="350.09" y="217.40" width="9.80" height="7.15" fill="#ed4642"/>
<rect x="359.84" y="217.40" width="9.80" height="7.15" fill="#dc3f3c"/>
<rect x="369.58" y="217.40" width="9.80" height="7.15" fill="#dc3f3c"/>
<rect x="379.33" y="217.40" width="9.80" height="7.15" fill="#812e28"/>
<rect x="389.07" y="217.40" width="9.80" height="7.15" fill="#4e9345"/>
<rect x="398.82" y="217.40" width="9.80" height="7.15" fill="#4e9345"/>
<rect x="408.56" y="217.40" width="9.80" height="7.15" fill="#4e9345"/>
<rect x="418.31" y="217.40" width="9.80" height="7.15" fill="#4e9345"/>
<rect x="428.05" y="217.40" width="9.80" height="7.15" fill="#4e9345"/>
<rect x="330.60" y="224.50" width="9.80" height="7.15" fill="#5f2e28"/>
<rect x="340.35" y="224.50" width="9.80" height="7.15" fill="#702e28"/>
<rect x="350.09" y="224.50" width="9.80" height="7.15" fill="#922e28"/>
<rect x="359.84" y="224.50" width="9.80" height="7.15" fill="#702e28"/>
<rect x="369.58" y="224.50" width="9.80" height="7.15" fill="#812e28"/>
<rect x="379.33" y="224.50" width="9.80" height="7.15" fill="#3a2a2a"/>
<rect x="389.07" y="224.50" width="9.80" height="7.15" fill="#223322"/>
<rect x="398.82" y="224.50" width="9.80" height="7.15" fill="#2e5a2e"/>
<rect x="408.56" y="224.50" width="9.80" height="7.15" fill="#4e9345"/>
<rect x="418.31" y="224.50" width="9.80" height="7.15" fill="#222a22"/>
<rect x="428.05" y="224.50" width="9.80" height="7.15" fill="#2a4a2a"/>
<rect x="330.60" y="240.00" width="9.80" height="7.15" fill="#ba342e"/>
<rect x="340.35" y="240.00" width="9.80" height="7.15" fill="#ba342e"/>
<rect x="350.09" y="240.00" width="9.80" height="7.15" fill="#3a2a2a"/>
<rect x="359.84" y="240.00" width="9.80" height="7.15" fill="#ba342e"/>
<rect x="369.58" y="240.00" width="9.80" height="7.15" fill="#2a3a2a"/>
<rect x="379.33" y="240.00" width="9.80" height="7.15" fill="#702e28"/>
<rect x="389.07" y="240.00" width="9.80" height="7.15" fill="#4e9345"/>
<rect x="398.82" y="240.00" width="9.80" height="7.15" fill="#4e9a45"/>
<rect x="408.56" y="240.00" width="9.80" height="7.15" fill="#4e9a45"/>
<rect x="418.31" y="240.00" width="9.80" height="7.15" fill="#4e9345"/>
<rect x="428.05" y="240.00" width="9.80" height="7.15" fill="#702e28"/>
<rect x="330.60" y="247.10" width="9.80" height="7.15" fill="#dc3f3c"/>
<rect x="340.35" y="247.10" width="9.80" height="7.15" fill="#dc3f3c"/>
<rect x="350.09" y="247.10" width="9.80" height="7.15" fill="#a92e28"/>
<rect x="359.84" y="247.10" width="9.80" height="7.15" fill="#dc3f3c"/>
<rect x="369.58" y="247.10" width="9.80" height="7.15" fill="#3e8237"/>
<rect x="379.33" y="247.10" width="9.80" height="7.15" fill="#a92e28"/>
<rect x="389.07" y="247.10" width="9.80" height="7.15" fill="#4e9345"/>
<rect x="398.82" y="247.10" width="9.80" height="7.15" fill="#4e9a45"/>
<rect x="408.56" y="247.10" width="9.80" height="7.15" fill="#4e9a45"/>
<rect x="418.31" y="247.10" width="9.80" height="7.15" fill="#4e9345"/>
<rect x="428.05" y="247.10" width="9.80" height="7.15" fill="#922e28"/>
<rect x="330.60" y="254.20" width="9.80" height="7.15" fill="#5f2e28"/>
<rect x="340.35" y="254.20" width="9.80" height="7.15" fill="#5f2e28"/>
<rect x="350.09" y="254.20" width="9.80" height="7.15" fill="#3a2a2a"/>
<rect x="359.84" y="254.20" width="9.80" height="7.15" fill="#a92e28"/>
<rect x="369.58" y="254.20" width="9.80" height="7.15" fill="#812e28"/>
<rect x="379.33" y="254.20" width="9.80" height="7.15" fill="#3a2a2a"/>
<rect x="389.07" y="254.20" width="9.80" height="7.15" fill="#2e5a2e"/>
<rect x="398.82" y="254.20" width="9.80" height="7.15" fill="#4e9a45"/>
<rect x="408.56" y="254.20" width="9.80" height="7.15" fill="#2e5a2e"/>
<rect x="418.31" y="254.20" width="9.80" height="7.15" fill="#9a9aa8"/>
<rect x="428.05" y="254.20" width="9.80" height="7.15" fill="#2a3a2a"/>
<rect x="330.60" y="261.30" width="9.80" height="7.15" fill="#ed4642"/>
<rect x="340.35" y="261.30" width="9.80" height="7.15" fill="#dc3f3c"/>
<rect x="350.09" y="261.30" width="9.80" height="7.15" fill="#ba342e"/>
<rect x="359.84" y="261.30" width="9.80" height="7.15" fill="#ed4642"/>
<rect x="369.58" y="261.30" width="9.80" height="7.15" fill="#3a2a2a"/>
<rect x="379.33" y="261.30" width="9.80" height="7.15" fill="#3a2a2a"/>
<rect x="389.07" y="261.30" width="9.80" height="7.15" fill="#4e9345"/>
<rect x="398.82" y="261.30" width="9.80" height="7.15" fill="#4e9a45"/>
<rect x="408.56" y="261.30" width="9.80" height="7.15" fill="#4e9a45"/>
<rect x="418.31" y="261.30" width="9.80" height="7.15" fill="#4e9345"/>
<rect x="428.05" y="261.30" width="9.80" height="7.15" fill="#5f2e28"/>
<rect x="330.60" y="268.40" width="9.80" height="7.15" fill="#702e28"/>
<rect x="340.35" y="268.40" width="9.80" height="7.15" fill="#a92e28"/>
<rect x="350.09" y="268.40" width="9.80" height="7.15" fill="#3a2a2a"/>
<rect x="359.84" y="268.40" width="9.80" height="7.15" fill="#a92e28"/>
<rect x="369.58" y="268.40" width="9.80" height="7.15" fill="#8a9aa0"/>
<rect x="379.33" y="268.40" width="9.80" height="7.15" fill="#702e28"/>
<rect x="389.07" y="268.40" width="9.80" height="7.15" fill="#4e9345"/>
<rect x="398.82" y="268.40" width="9.80" height="7.15" fill="#4e9a45"/>
<rect x="408.56" y="268.40" width="9.80" height="7.15" fill="#2a3a2a"/>
<rect x="418.31" y="268.40" width="9.80" height="7.15" fill="#2e5a2e"/>
<rect x="428.05" y="268.40" width="9.80" height="7.15" fill="#5f2e28"/>
<rect x="330.60" y="275.50" width="9.80" height="7.15" fill="#a92e28"/>
<rect x="340.35" y="275.50" width="9.80" height="7.15" fill="#a92e28"/>
<rect x="350.09" y="275.50" width="9.80" height="7.15" fill="#5f2e28"/>
<rect x="359.84" y="275.50" width="9.80" height="7.15" fill="#ba342e"/>
<rect x="369.58" y="275.50" width="9.80" height="7.15" fill="#702e28"/>
<rect x="379.33" y="275.50" width="9.80" height="7.15" fill="#702e28"/>
<rect x="389.07" y="275.50" width="9.80" height="7.15" fill="#4e9345"/>
<rect x="398.82" y="275.50" width="9.80" height="7.15" fill="#4e9a45"/>
<rect x="408.56" y="275.50" width="9.80" height="7.15" fill="#4e9345"/>
<rect x="418.31" y="275.50" width="9.80" height="7.15" fill="#2e5a2e"/>
<rect x="428.05" y="275.50" width="9.80" height="7.15" fill="#5f2e28"/>
<rect x="330.60" y="282.60" width="9.80" height="7.15" fill="#a92e28"/>
<rect x="340.35" y="282.60" width="9.80" height="7.15" fill="#a92e28"/>
<rect x="350.09" y="282.60" width="9.80" height="7.15" fill="#2a3a2a"/>
<rect x="359.84" y="282.60" width="9.80" height="7.15" fill="#ba342e"/>
<rect x="369.58" y="282.60" width="9.80" height="7.15" fill="#702e28"/>
<rect x="379.33" y="282.60" width="9.80" height="7.15" fill="#3a2a2a"/>
<rect x="389.07" y="282.60" width="9.80" height="7.15" fill="#2e5a2e"/>
<rect x="398.82" y="282.60" width="9.80" height="7.15" fill="#4e9a45"/>
<rect x="408.56" y="282.60" width="9.80" height="7.15" fill="#3e7137"/>
<rect x="418.31" y="282.60" width="9.80" height="7.15" fill="#4e9345"/>
<rect x="428.05" y="282.60" width="9.80" height="7.15" fill="#3a2a2a"/>
<rect x="330.60" y="289.70" width="9.80" height="7.15" fill="#ba342e"/>
<rect x="340.35" y="289.70" width="9.80" height="7.15" fill="#a92e28"/>
<rect x="350.09" y="289.70" width="9.80" height="7.15" fill="#2a3a2a"/>
<rect x="359.84" y="289.70" width="9.80" height="7.15" fill="#ed4642"/>
<rect x="369.58" y="289.70" width="9.80" height="7.15" fill="#a92e28"/>
<rect x="379.33" y="289.70" width="9.80" height="7.15" fill="#702e28"/>
<rect x="389.07" y="289.70" width="9.80" height="7.15" fill="#2e5a2e"/>
<rect x="398.82" y="289.70" width="9.80" height="7.15" fill="#4e9a45"/>
<rect x="408.56" y="289.70" width="9.80" height="7.15" fill="#4e9345"/>
<rect x="418.31" y="289.70" width="9.80" height="7.15" fill="#4e9345"/>
<rect x="428.05" y="289.70" width="9.80" height="7.15" fill="#3a2a2a"/>
<rect x="330.60" y="296.80" width="9.80" height="7.15" fill="#cb3a3c"/>
<rect x="340.35" y="296.80" width="9.80" height="7.15" fill="#812e28"/>
<rect x="350.09" y="296.80" width="9.80" height="7.15" fill="#702e28"/>
<rect x="359.84" y="296.80" width="9.80" height="7.15" fill="#ed4642"/>
<rect x="369.58" y="296.80" width="9.80" height="7.15" fill="#3a2a2a"/>
<rect x="379.33" y="296.80" width="9.80" height="7.15" fill="#8a9aa0"/>
<rect x="389.07" y="296.80" width="9.80" height="7.15" fill="#4e9345"/>
<rect x="398.82" y="296.80" width="9.80" height="7.15" fill="#4e9a45"/>
<rect x="408.56" y="296.80" width="9.80" height="7.15" fill="#4e9345"/>
<rect x="418.31" y="296.80" width="9.80" height="7.15" fill="#4e9345"/>
<rect x="428.05" y="296.80" width="9.80" height="7.15" fill="#2a4a2a"/>
<rect x="330.60" y="303.90" width="9.80" height="7.15" fill="#cb3a3c"/>
<rect x="340.35" y="303.90" width="9.80" height="7.15" fill="#ba342e"/>
<rect x="350.09" y="303.90" width="9.80" height="7.15" fill="#2a3a2a"/>
<rect x="359.84" y="303.90" width="9.80" height="7.15" fill="#ed4642"/>
<rect x="369.58" y="303.90" width="9.80" height="7.15" fill="#3a2a2a"/>
<rect x="379.33" y="303.90" width="9.80" height="7.15" fill="#ed4642"/>
<rect x="389.07" y="303.90" width="9.80" height="7.15" fill="#3e7137"/>
<rect x="398.82" y="303.90" width="9.80" height="7.15" fill="#4e9a45"/>
<rect x="408.56" y="303.90" width="9.80" height="7.15" fill="#4e9345"/>
<rect x="418.31" y="303.90" width="9.80" height="7.15" fill="#4e9345"/>
<rect x="428.05" y="303.90" width="9.80" height="7.15" fill="#4e8245"/>
<rect x="330.60" y="311.00" width="9.80" height="7.15" fill="#702e28"/>
<rect x="340.35" y="311.00" width="9.80" height="7.15" fill="#812e28"/>
<rect x="350.09" y="311.00" width="9.80" height="7.15" fill="#2a3a2a"/>
<rect x="359.84" y="311.00" width="9.80" height="7.15" fill="#a92e28"/>
<rect x="369.58" y="311.00" width="9.80" height="7.15" fill="#702e28"/>
<rect x="379.33" y="311.00" width="9.80" height="7.15" fill="#922e28"/>
<rect x="389.07" y="311.00" width="9.80" height="7.15" fill="#3e7137"/>
<rect x="398.82" y="311.00" width="9.80" height="7.15" fill="#4e9a45"/>
<rect x="408.56" y="311.00" width="9.80" height="7.15" fill="#4e9345"/>
<rect x="418.31" y="311.00" width="9.80" height="7.15" fill="#4e9345"/>
<rect x="428.05" y="311.00" width="9.80" height="7.15" fill="#4e8245"/>
<rect x="330.60" y="318.10" width="9.80" height="7.15" fill="#3a2a2a"/>
<rect x="340.35" y="318.10" width="9.80" height="7.15" fill="#5f2e28"/>
<rect x="350.09" y="318.10" width="9.80" height="7.15" fill="#2a3a2a"/>
<rect x="359.84" y="318.10" width="9.80" height="7.15" fill="#5f2e28"/>
<rect x="369.58" y="318.10" width="9.80" height="7.15" fill="#2a3a2a"/>
<rect x="379.33" y="318.10" width="9.80" height="7.15" fill="#5f2e28"/>
<rect x="389.07" y="318.10" width="9.80" height="7.15" fill="#2e5a2e"/>
<rect x="398.82" y="318.10" width="9.80" height="7.15" fill="#2e5a2e"/>
<rect x="408.56" y="318.10" width="9.80" height="7.15" fill="#2e5a2e"/>
<rect x="418.31" y="318.10" width="9.80" height="7.15" fill="#2a3a2a"/>
<rect x="428.05" y="318.10" width="9.80" height="7.15" fill="#2a3a2a"/>
<rect x="330.60" y="325.20" width="9.80" height="7.15" fill="#cb3a3c"/>
<rect x="340.35" y="325.20" width="9.80" height="7.15" fill="#ed4642"/>
<rect x="350.09" y="325.20" width="9.80" height="7.15" fill="#2a3a2a"/>
<rect x="359.84" y="325.20" width="9.80" height="7.15" fill="#ed4642"/>
<rect x="369.58" y="325.20" width="9.80" height="7.15" fill="#a92e28"/>
<rect x="379.33" y="325.20" width="9.80" height="7.15" fill="#a92e28"/>
<rect x="389.07" y="325.20" width="9.80" height="7.15" fill="#4e9345"/>
<rect x="398.82" y="325.20" width="9.80" height="7.15" fill="#4e9a45"/>
<rect x="408.56" y="325.20" width="9.80" height="7.15" fill="#4e9345"/>
<rect x="418.31" y="325.20" width="9.80" height="7.15" fill="#3e7137"/>
<rect x="428.05" y="325.20" width="9.80" height="7.15" fill="#4e9345"/>
<rect x="330.60" y="332.30" width="9.80" height="7.15" fill="#cb3a3c"/>
<rect x="340.35" y="332.30" width="9.80" height="7.15" fill="#dc3f3c"/>
<rect x="350.09" y="332.30" width="9.80" height="7.15" fill="#2a3a2a"/>
<rect x="359.84" y="332.30" width="9.80" height="7.15" fill="#ed4642"/>
<rect x="369.58" y="332.30" width="9.80" height="7.15" fill="#a92e28"/>
<rect x="379.33" y="332.30" width="9.80" height="7.15" fill="#a92e28"/>
<rect x="389.07" y="332.30" width="9.80" height="7.15" fill="#4e9345"/>
<rect x="398.82" y="332.30" width="9.80" height="7.15" fill="#4e9a45"/>
<rect x="408.56" y="332.30" width="9.80" height="7.15" fill="#8a80a0"/>
<rect x="418.31" y="332.30" width="9.80" height="7.15" fill="#4e9345"/>
<rect x="428.05" y="332.30" width="9.80" height="7.15" fill="#4e9345"/>
<rect x="330.60" y="339.40" width="9.80" height="7.15" fill="#ba342e"/>
<rect x="340.35" y="339.40" width="9.80" height="7.15" fill="#dc3f3c"/>
<rect x="350.09" y="339.40" width="9.80" height="7.15" fill="#2a3a2a"/>
<rect x="359.84" y="339.40" width="9.80" height="7.15" fill="#ed4642"/>
<rect x="369.58" y="339.40" width="9.80" height="7.15" fill="#3a2a2a"/>
<rect x="379.33" y="339.40" width="9.80" height="7.15" fill="#a92e28"/>
<rect x="389.07" y="339.40" width="9.80" height="7.15" fill="#4e9345"/>
<rect x="398.82" y="339.40" width="9.80" height="7.15" fill="#4e9a45"/>
<rect x="408.56" y="339.40" width="9.80" height="7.15" fill="#4e9345"/>
<rect x="418.31" y="339.40" width="9.80" height="7.15" fill="#2e5a2e"/>
<rect x="428.05" y="339.40" width="9.80" height="7.15" fill="#4e9345"/>
<rect x="330.60" y="346.50" width="9.80" height="7.15" fill="#a92e28"/>
<rect x="340.35" y="346.50" width="9.80" height="7.15" fill="#cb3a3c"/>
<rect x="350.09" y="346.50" width="9.80" height="7.15" fill="#2a3a2a"/>
<rect x="359.84" y="346.50" width="9.80" height="7.15" fill="#ed4642"/>
<rect x="369.58" y="346.50" width="9.80" height="7.15" fill="#a92e28"/>
<rect x="379.33" y="346.50" width="9.80" height="7.15" fill="#3a2a2a"/>
<rect x="389.07" y="346.50" width="9.80" height="7.15" fill="#4e9345"/>
<rect x="398.82" y="346.50" width="9.80" height="7.15" fill="#4e9a45"/>
<rect x="408.56" y="346.50" width="9.80" height="7.15" fill="#4e9345"/>
<rect x="418.31" y="346.50" width="9.80" height="7.15" fill="#4e9345"/>
<rect x="428.05" y="346.50" width="9.80" height="7.15" fill="#2a3a2a"/>
<rect x="330.60" y="361.30" width="9.80" height="7.20" fill="#2a2a2a"/>
<rect x="340.35" y="361.30" width="9.80" height="7.20" fill="#3a2a2a"/>
<rect x="350.09" y="361.30" width="9.80" height="7.20" fill="#ba342e"/>
<rect x="359.84" y="361.30" width="9.80" height="7.20" fill="#ba342e"/>
<rect x="369.58" y="361.30" width="9.80" height="7.20" fill="#3a2a2a"/>
<rect x="379.33" y="361.30" width="9.80" height="7.20" fill="#cb3a3c"/>
<rect x="389.07" y="361.30" width="9.80" height="7.20" fill="#4e9345"/>
<rect x="398.82" y="361.30" width="9.80" height="7.20" fill="#4e9345"/>
<rect x="408.56" y="361.30" width="9.80" height="7.20" fill="#4e9345"/>
<rect x="418.31" y="361.30" width="9.80" height="7.20" fill="#2e5a2e"/>
<rect x="428.05" y="361.30" width="9.80" height="7.20" fill="#dc3f3c"/>
<rect x="330.60" y="368.45" width="9.80" height="7.20" fill="#2a3a2a"/>
<rect x="340.35" y="368.45" width="9.80" height="7.20" fill="#5f2e28"/>
<rect x="350.09" y="368.45" width="9.80" height="7.20" fill="#ba342e"/>
<rect x="359.84" y="368.45" width="9.80" height="7.20" fill="#a92e28"/>
<rect x="369.58" y="368.45" width="9.80" height="7.20" fill="#3a2a2a"/>
<rect x="379.33" y="368.45" width="9.80" height="7.20" fill="#a92e28"/>
<rect x="389.07" y="368.45" width="9.80" height="7.20" fill="#4e9345"/>
<rect x="398.82" y="368.45" width="9.80" height="7.20" fill="#4e9345"/>
<rect x="408.56" y="368.45" width="9.80" height="7.20" fill="#4e9345"/>
<rect x="418.31" y="368.45" width="9.80" height="7.20" fill="#2a4a2a"/>
<rect x="428.05" y="368.45" width="9.80" height="7.20" fill="#dc3f3c"/>
<rect x="330.60" y="375.60" width="9.80" height="7.20" fill="#2e5a2e"/>
<rect x="340.35" y="375.60" width="9.80" height="7.20" fill="#702e28"/>
<rect x="350.09" y="375.60" width="9.80" height="7.20" fill="#ba342e"/>
<rect x="359.84" y="375.60" width="9.80" height="7.20" fill="#cb3a3c"/>
<rect x="369.58" y="375.60" width="9.80" height="7.20" fill="#8a9aa8"/>
<rect x="379.33" y="375.60" width="9.80" height="7.20" fill="#922e28"/>
<rect x="389.07" y="375.60" width="9.80" height="7.20" fill="#4e9345"/>
<rect x="398.82" y="375.60" width="9.80" height="7.20" fill="#4e9345"/>
<rect x="408.56" y="375.60" width="9.80" height="7.20" fill="#4e9345"/>
<rect x="418.31" y="375.60" width="9.80" height="7.20" fill="#3e7137"/>
<rect x="428.05" y="375.60" width="9.80" height="7.20" fill="#a92e28"/>
<rect x="330.60" y="382.75" width="9.80" height="7.20" fill="#2a3a2a"/>
<rect x="340.35" y="382.75" width="9.80" height="7.20" fill="#5f2e28"/>
<rect x="350.09" y="382.75" width="9.80" height="7.20" fill="#ba342e"/>
<rect x="359.84" y="382.75" width="9.80" height="7.20" fill="#a92e28"/>
<rect x="369.58" y="382.75" width="9.80" height="7.20" fill="#5f2e28"/>
<rect x="379.33" y="382.75" width="9.80" height="7.20" fill="#702e28"/>
<rect x="389.07" y="382.75" width="9.80" height="7.20" fill="#4e9345"/>
<rect x="398.82" y="382.75" width="9.80" height="7.20" fill="#4e9345"/>
<rect x="408.56" y="382.75" width="9.80" height="7.20" fill="#4e9345"/>
<rect x="418.31" y="382.75" width="9.80" height="7.20" fill="#4e8245"/>
<rect x="428.05" y="382.75" width="9.80" height="7.20" fill="#a92e28"/>
<rect x="330.60" y="389.90" width="9.80" height="7.20" fill="#2e5a2e"/>
<rect x="340.35" y="389.90" width="9.80" height="7.20" fill="#3a2a2a"/>
<rect x="350.09" y="389.90" width="9.80" height="7.20" fill="#ba342e"/>
<rect x="359.84" y="389.90" width="9.80" height="7.20" fill="#ed4642"/>
<rect x="369.58" y="389.90" width="9.80" height="7.20" fill="#702e28"/>
<rect x="379.33" y="389.90" width="9.80" height="7.20" fill="#a92e28"/>
<rect x="389.07" y="389.90" width="9.80" height="7.20" fill="#4e9345"/>
<rect x="398.82" y="389.90" width="9.80" height="7.20" fill="#4e9345"/>
<rect x="408.56" y="389.90" width="9.80" height="7.20" fill="#4e9345"/>
<rect x="418.31" y="389.90" width="9.80" height="7.20" fill="#4e9345"/>
<rect x="428.05" y="389.90" width="9.80" height="7.20" fill="#ba342e"/>
<rect x="330.60" y="397.05" width="9.80" height="7.20" fill="#2e5a2e"/>
<rect x="340.35" y="397.05" width="9.80" height="7.20" fill="#5f2e28"/>
<rect x="350.09" y="397.05" width="9.80" height="7.20" fill="#cb3a3c"/>
<rect x="359.84" y="397.05" width="9.80" height="7.20" fill="#ed4642"/>
<rect x="369.58" y="397.05" width="9.80" height="7.20" fill="#702e28"/>
<rect x="379.33" y="397.05" width="9.80" height="7.20" fill="#a92e28"/>
<rect x="389.07" y="397.05" width="9.80" height="7.20" fill="#4e9345"/>
<rect x="398.82" y="397.05" width="9.80" height="7.20" fill="#4e9345"/>
<rect x="408.56" y="397.05" width="9.80" height="7.20" fill="#4e9345"/>
<rect x="418.31" y="397.05" width="9.80" height="7.20" fill="#4e9345"/>
<rect x="428.05" y="397.05" width="9.80" height="7.20" fill="#ba342e"/>
<rect x="330.60" y="404.20" width="9.80" height="7.20" fill="#2a2a2a"/>
<rect x="340.35" y="404.20" width="9.80" height="7.20" fill="#5f2e28"/>
<rect x="350.09" y="404.20" width="9.80" height="7.20" fill="#ba342e"/>
<rect x="359.84" y="404.20" width="9.80" height="7.20" fill="#cb3a3c"/>
<rect x="369.58" y="404.20" width="9.80" height="7.20" fill="#702e28"/>
<rect x="379.33" y="404.20" width="9.80" height="7.20" fill="#a92e28"/>
<rect x="389.07" y="404.20" width="9.80" height="7.20" fill="#4e9345"/>
<rect x="398.82" y="404.20" width="9.80" height="7.20" fill="#4e9345"/>
<rect x="408.56" y="404.20" width="9.80" height="7.20" fill="#4e9345"/>
<rect x="418.31" y="404.20" width="9.80" height="7.20" fill="#4e9345"/>
<rect x="428.05" y="404.20" width="9.80" height="7.20" fill="#cb3a3c"/>
<rect x="330.60" y="421.50" width="9.80" height="7.10" fill="#702e28"/>
<rect x="340.35" y="421.50" width="9.80" height="7.10" fill="#922e28"/>
<rect x="350.09" y="421.50" width="9.80" height="7.10" fill="#3a2a2a"/>
<rect x="359.84" y="421.50" width="9.80" height="7.10" fill="#a92e28"/>
<rect x="369.58" y="421.50" width="9.80" height="7.10" fill="#8a9aa8"/>
<rect x="379.33" y="421.50" width="9.80" height="7.10" fill="#2a2a2a"/>
<rect x="389.07" y="421.50" width="9.80" height="7.10" fill="#2a4a2a"/>
<rect x="398.82" y="421.50" width="9.80" height="7.10" fill="#4e9345"/>
<rect x="408.56" y="421.50" width="9.80" height="7.10" fill="#4e9345"/>
<rect x="418.31" y="421.50" width="9.80" height="7.10" fill="#4e9345"/>
<rect x="428.05" y="421.50" width="9.80" height="7.10" fill="#cb3a3c"/>
<rect x="330.60" y="428.55" width="9.80" height="7.10" fill="#5f2e28"/>
<rect x="340.35" y="428.55" width="9.80" height="7.10" fill="#dc3f3c"/>
<rect x="350.09" y="428.55" width="9.80" height="7.10" fill="#702e28"/>
<rect x="359.84" y="428.55" width="9.80" height="7.10" fill="#dc3f3c"/>
<rect x="369.58" y="428.55" width="9.80" height="7.10" fill="#1e4a2a"/>
<rect x="379.33" y="428.55" width="9.80" height="7.10" fill="#8a9aa8"/>
<rect x="389.07" y="428.55" width="9.80" height="7.10" fill="#4e8245"/>
<rect x="398.82" y="428.55" width="9.80" height="7.10" fill="#4e9345"/>
<rect x="408.56" y="428.55" width="9.80" height="7.10" fill="#4e9345"/>
<rect x="418.31" y="428.55" width="9.80" height="7.10" fill="#4e9345"/>
<rect x="428.05" y="428.55" width="9.80" height="7.10" fill="#ed4642"/>
<rect x="330.60" y="435.60" width="9.80" height="7.10" fill="#3a2a2a"/>
<rect x="340.35" y="435.60" width="9.80" height="7.10" fill="#5f2e28"/>
<rect x="350.09" y="435.60" width="9.80" height="7.10" fill="#5f2e28"/>
<rect x="359.84" y="435.60" width="9.80" height="7.10" fill="#3a2a2a"/>
<rect x="369.58" y="435.60" width="9.80" height="7.10" fill="#702e28"/>
<rect x="379.33" y="435.60" width="9.80" height="7.10" fill="#3a2a2a"/>
<rect x="389.07" y="435.60" width="9.80" height="7.10" fill="#2a4a2a"/>
<rect x="398.82" y="435.60" width="9.80" height="7.10" fill="#4e9345"/>
<rect x="408.56" y="435.60" width="9.80" height="7.10" fill="#2e5a2e"/>
<rect x="418.31" y="435.60" width="9.80" height="7.10" fill="#4e9345"/>
<rect x="428.05" y="435.60" width="9.80" height="7.10" fill="#dc3f3c"/>
<rect x="330.60" y="442.65" width="9.80" height="7.10" fill="#5f2e28"/>
<rect x="340.35" y="442.65" width="9.80" height="7.10" fill="#702e28"/>
<rect x="350.09" y="442.65" width="9.80" height="7.10" fill="#3a2a2a"/>
<rect x="359.84" y="442.65" width="9.80" height="7.10" fill="#3a2a2a"/>
<rect x="369.58" y="442.65" width="9.80" height="7.10" fill="#3a2a2a"/>
<rect x="379.33" y="442.65" width="9.80" height="7.10" fill="#5f2e28"/>
<rect x="389.07" y="442.65" width="9.80" height="7.10" fill="#2a4a2a"/>
<rect x="398.82" y="442.65" width="9.80" height="7.10" fill="#4e9345"/>
<rect x="408.56" y="442.65" width="9.80" height="7.10" fill="#4e9345"/>
<rect x="418.31" y="442.65" width="9.80" height="7.10" fill="#4e9345"/>
<rect x="428.05" y="442.65" width="9.80" height="7.10" fill="#dc3f3c"/>
<rect x="330.60" y="449.70" width="9.80" height="7.10" fill="#702e28"/>
<rect x="340.35" y="449.70" width="9.80" height="7.10" fill="#dc3f3c"/>
<rect x="350.09" y="449.70" width="9.80" height="7.10" fill="#702e28"/>
<rect x="359.84" y="449.70" width="9.80" height="7.10" fill="#3a2a2a"/>
<rect x="369.58" y="449.70" width="9.80" height="7.10" fill="#702e28"/>
<rect x="379.33" y="449.70" width="9.80" height="7.10" fill="#5f2e28"/>
<rect x="389.07" y="449.70" width="9.80" height="7.10" fill="#4e9345"/>
<rect x="398.82" y="449.70" width="9.80" height="7.10" fill="#2a3a2a"/>
<rect x="408.56" y="449.70" width="9.80" height="7.10" fill="#4e9345"/>
<rect x="418.31" y="449.70" width="9.80" height="7.10" fill="#4e9345"/>
<rect x="428.05" y="449.70" width="9.80" height="7.10" fill="#cb3a3c"/>
</g>
<rect x="130.3" y="58.2" width="58.5" height="9.5" fill="#1a5c9c"/>
<rect x="188.8" y="58.2" width="39.2" height="9.5" fill="#e8186a"/>
<rect x="228.0" y="58.2" width="9.5" height="9.5" fill="#2a2a2a"/>
<rect x="330.6" y="22.0" width="58.4" height="10" fill="#1a5c9c"/>
<rect x="389.0" y="22.0" width="38.7" height="10" fill="#e8186a"/>
<rect x="427.7" y="22.0" width="10" height="10" fill="#262a27"/>
<polygon points="241.8,70.0 279.0,41.4 279.0,101.8 241.8,81.9" fill="url(#wg)"/>
<path d="M279.0 41.4L241.8 70.0L241.8 81.9L279.0 101.8" stroke="#1e1c1c" stroke-width="2.6" fill="none" stroke-linejoin="round" stroke-linecap="round"/>
<polygon points="241.8,106.1 279.0,114.6 279.0,231.3 241.8,121.0" fill="url(#wg)"/>
<path d="M279.0 114.6L241.8 106.1L241.8 121.0L279.0 231.3" stroke="#1e1c1c" stroke-width="2.6" fill="none" stroke-linejoin="round" stroke-linecap="round"/>
<polygon points="242.6,182.3 279.0,244.0 279.0,347.0 242.6,205.0" fill="url(#wg)"/>
<path d="M279.0 244.0L242.6 182.3L242.6 205.0L279.0 347.0" stroke="#1e1c1c" stroke-width="2.6" fill="none" stroke-linejoin="round" stroke-linecap="round"/>
<polygon points="242.8,302.3 279.0,365.5 279.0,408.5 242.6,321.0" fill="url(#wg)"/>
<path d="M279.0 365.5L242.8 302.3L242.6 321.0L279.0 408.5" stroke="#1e1c1c" stroke-width="2.6" fill="none" stroke-linejoin="round" stroke-linecap="round"/>
<polygon points="243.0,362.7 279.0,423.0 279.0,456.7 242.6,370.0" fill="url(#wg)"/>
<path d="M279.0 423.0L243.0 362.7L242.6 370.0L279.0 456.7" stroke="#1e1c1c" stroke-width="2.6" fill="none" stroke-linejoin="round" stroke-linecap="round"/>
<text class="t" transform="translate(446.20,47.60) scale(1,1.000)" font-size="10.75">ALDH1A3</text>
<text class="t" transform="translate(446.20,59.95) scale(1,1.000)" font-size="10.75">RIS1</text>
<text class="t" transform="translate(446.20,72.30) scale(1,1.000)" font-size="10.75">SLC2A8</text>
<text class="t" transform="translate(446.20,84.65) scale(1,1.000)" font-size="10.75">CAV1</text>
<text class="t" transform="translate(446.20,97.00) scale(1,1.000)" font-size="10.75">BCMP11</text>
<text class="t" transform="translate(445.40,120.30) scale(1,0.960)" font-size="10.75">SLC27A3</text>
<text class="t" transform="translate(445.40,130.57) scale(1,0.960)" font-size="10.75">CNK</text>
<text class="t" transform="translate(445.40,140.84) scale(1,0.960)" font-size="10.75">JUND</text>
<text class="t" transform="translate(445.40,151.11) scale(1,0.960)" font-size="10.75">JUND</text>
<text class="t" transform="translate(445.40,161.38) scale(1,0.960)" font-size="10.75">CDC2L5</text>
<text class="t" transform="translate(445.40,171.65) scale(1,0.960)" font-size="10.75">PROL2</text>
<text class="t" transform="translate(445.40,181.92) scale(1,0.960)" font-size="10.75">CUL5</text>
<text class="t" transform="translate(445.40,192.19) scale(1,0.960)" font-size="10.75">RASA2</text>
<text class="t" transform="translate(445.40,202.46) scale(1,0.960)" font-size="10.75">GNAS</text>
<text class="t" transform="translate(445.40,212.73) scale(1,0.960)" font-size="10.75">MPHOSPH1</text>
<text class="t" transform="translate(445.40,223.00) scale(1,0.960)" font-size="10.75">CGI-127</text>
<text class="t" transform="translate(445.40,233.27) scale(1,0.960)" font-size="10.75">USP9Y</text>
<text class="t" transform="translate(445.40,246.80) scale(1,0.930)" font-size="10.75">STUB1</text>
<text class="t" transform="translate(445.40,255.73) scale(1,0.930)" font-size="10.75">PPP3CC</text>
<text class="t" transform="translate(445.40,264.66) scale(1,0.930)" font-size="10.75">DCTN1</text>
<text class="t" transform="translate(445.40,273.59) scale(1,0.930)" font-size="10.75">GPS1</text>
<text class="t" transform="translate(445.40,282.52) scale(1,0.930)" font-size="10.75">ATP5G2</text>
<text class="t" transform="translate(445.40,291.45) scale(1,0.930)" font-size="10.75">MLLT6</text>
<text class="t" transform="translate(445.40,300.38) scale(1,0.930)" font-size="10.75">DPP7</text>
<text class="t" transform="translate(445.40,309.31) scale(1,0.930)" font-size="10.75">CG1I</text>
<text class="t" transform="translate(445.40,318.24) scale(1,0.930)" font-size="10.75">TAF1B</text>
<text class="t" transform="translate(445.40,327.17) scale(1,0.930)" font-size="10.75">PRKCL1</text>
<text class="t" transform="translate(445.40,336.10) scale(1,0.930)" font-size="10.75">TP53INP1</text>
<text class="t" transform="translate(445.40,345.03) scale(1,0.930)" font-size="10.75">PPP1CA</text>
<text class="t" transform="translate(445.40,353.96) scale(1,0.930)" font-size="10.75">NT5E (CD73)</text>
<text class="t" transform="translate(445.60,370.10) scale(1,0.980)" font-size="10.75">LZTFL1</text>
<text class="t" transform="translate(445.60,380.20) scale(1,0.980)" font-size="10.75">HNRPA2B1</text>
<text class="t" transform="translate(445.60,390.30) scale(1,0.980)" font-size="10.75">CTBP1</text>
<text class="t" transform="translate(445.60,400.40) scale(1,0.980)" font-size="10.75">CPSF6</text>
<text class="t" transform="translate(445.60,410.50) scale(1,0.980)" font-size="10.75">CD81</text>
<text class="t" transform="translate(445.60,431.20) scale(1,0.980)" font-size="10.75">MS4A1 (CD20)</text>
<text class="t" transform="translate(445.60,440.60) scale(1,0.980)" font-size="10.75">EIF2AK3</text>
<text class="t" transform="translate(445.60,450.00) scale(1,0.980)" font-size="10.75">Magmas</text>
<text class="t" transform="translate(445.60,459.40) scale(1,0.980)" font-size="10.75">PEPD</text>
<rect x="132.8" y="457.8" width="112" height="14.2" fill="url(#cs)"/>
<text x="112.8" y="456.0" font-size="17.4">-1.5</text>
<text x="191.4" y="455.6" font-size="17.4">0</text>
<text x="232.6" y="455.8" font-size="17.4">1.5</text>
<text x="113.4" y="487.8" font-size="17.4">0.35</text>
<text x="177.0" y="488.0" font-size="17.4">1.0</text>
<text x="233.2" y="490.2" font-size="17.4">2.8</text>
</svg>
</body></html>
